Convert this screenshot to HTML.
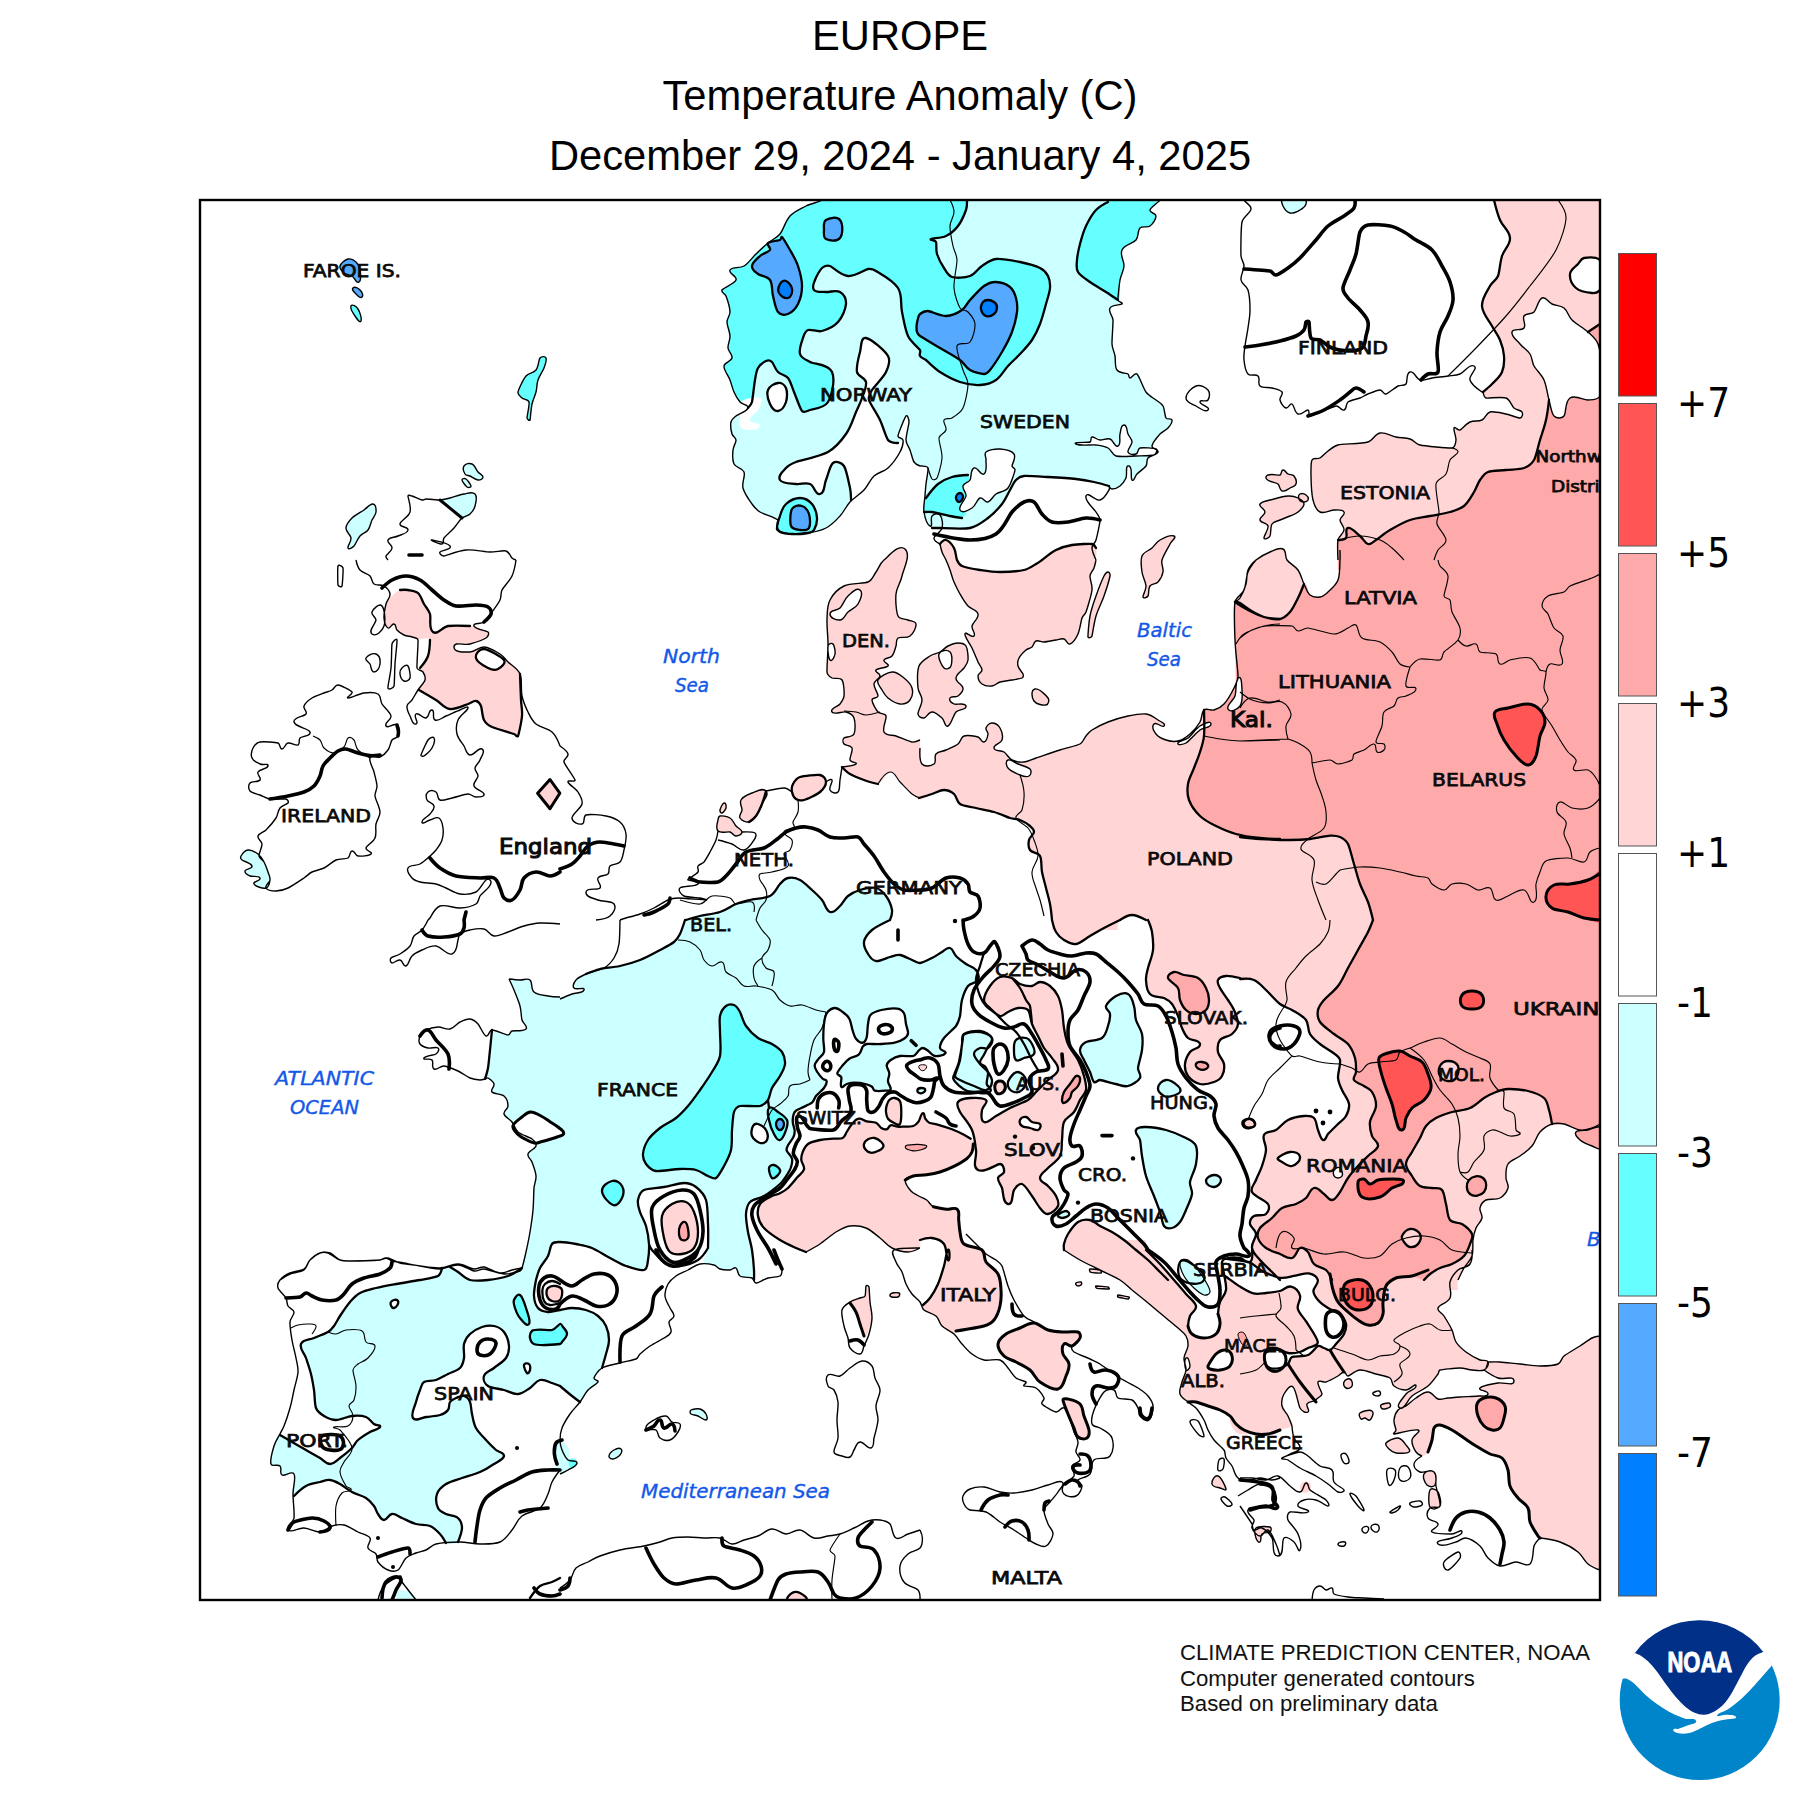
<!DOCTYPE html>
<html><head><meta charset="utf-8"><title>EUROPE Temperature Anomaly</title>
<style>
html,body{margin:0;padding:0;background:#fff;}
body{width:1800px;height:1800px;overflow:hidden;position:relative;font-family:"Liberation Sans",sans-serif;}
svg{position:absolute;left:0;top:0;}
.t{font-family:"Liberation Sans",sans-serif;font-size:41.7px;fill:#000;text-anchor:middle;}
.cb{font-family:"DejaVu Sans Condensed","DejaVu Sans","Liberation Sans",sans-serif;font-size:40px;fill:#000;}
.cl{font-family:"DejaVu Sans","Liberation Sans",sans-serif;fill:#0a0a0a;stroke:#0a0a0a;stroke-width:0.75px;}
.cl2{font-family:"DejaVu Sans","Liberation Sans",sans-serif;fill:#0a0a0a;stroke:#0a0a0a;stroke-width:1.1px;}
.sea{font-family:"DejaVu Sans","Liberation Sans",sans-serif;font-style:italic;fill:#1458e8;stroke:#1458e8;stroke-width:0.4px;}
.ft{font-family:"Liberation Sans",sans-serif;font-size:22.2px;fill:#111;}
</style></head><body>
<svg width="1800" height="1800" viewBox="0 0 1800 1800">
<rect width="1800" height="1800" fill="#fff"/>
<text class="t" x="900" y="50">EUROPE</text>
<text class="t" x="900" y="110">Temperature Anomaly (C)</text>
<text class="t" x="900" y="170">December 29, 2024 - January 4, 2025</text>
<defs><clipPath id="mc"><rect x="200" y="200" width="1400" height="1400"/></clipPath></defs>
<g clip-path="url(#mc)">
<g fill="#ccffff"><path d="M822 192c0 0 2.2 6.1 0 8s-10.5 3.2 -16 6s-11.4 5 -16 10s-6.6 13.8 -10 18s-7.9 5.5 -12 9s-7.8 6.9 -12 11s-7.5 9.3 -12 12s-11.9 0.4 -14 4s7.6 6.1 6 10s-12.6 7.8 -14 10s3.1 3.6 4 6s3.9 12.2 4 16s-3 6.2 -3 10s2.8 9.6 3 14s-2.4 8.1 -2 12s4.8 6.2 4 10s-7.6 3.9 -8 8s4.4 9.7 6 14s2.3 8.2 4 12s3.6 7.3 6 10s9 2.5 8 6s-9.8 6.2 -12 8s-4.4 3.3 -5 6s0.3 9.5 1 12s3.8 3.4 4 6s-2.7 6.3 -3 10s-1.1 9.9 1 14s8.4 3.7 10 8s-2.4 10.4 -1 16s6.6 12.7 9 16s4.5 5.9 8 8s15.5 5.4 18 8s-3.6 7.4 -1 10s9.4 3.5 15 4s10.3 0 16 -1s12.1 -1.9 18 -5s9.8 -7.4 14 -12s5.8 -9.4 10 -14s9.8 -7.4 14 -12s5.7 -10.1 10 -14s9.7 -4.1 14 -8s9.9 -12.1 12 -16s3.3 -9.7 3 -12s-5.3 -1.7 -5 -4s6.5 -18.1 8 -20s3 3.6 3 6s-3.1 14.1 -3 18s2.7 6.4 4 10s2.6 9.8 4 12s5.4 3.7 6 4s1.3 -0.2 2 0s5.5 -0.2 6 2s-1.5 11.7 -2 16s-0.7 7.7 -1 12s-1.9 10.6 -1 16s3.4 11.4 6 14s6.3 1.8 10 2s22.7 1.5 30 0s12.3 -5.7 18 -10s10.4 -9.4 14 -14s5.9 -10.4 8 -14s3.7 -7.7 6 -10s4.8 -3.7 8 -4s15.4 0.5 24 1s21.5 1.3 28 2s12.5 1.8 18 3s13.6 3.4 15 4s1.5 3 3 3s5.6 -1.1 8 -3s4.5 -4.7 6 -8s-1.2 -13.4 3 -12s1 12 3 14s3 -4 5 -6s7.3 -5.6 9 -8s0.1 -5.7 2 -8s9 -3.1 10 -6s-6.3 -3 -6 -6s5.6 -9.3 8 -12s5.9 -3.6 8 -6s4.4 -5.8 4 -8s-4.8 -0.1 -6 -2s-1.4 -9.1 -3 -12s-4.4 -3.9 -7 -6s-7.3 -4.3 -10 -8s-6.8 -16.1 -9 -18s-5.4 4 -7 4s-0.6 -3.2 -2 -4s-8.5 -0.6 -11 -4s-1.2 -9.6 -2 -14s-2.8 -7.6 -3 -12s1.2 -19.6 1 -24s-5.2 -8.1 -3 -12s10.6 -2.6 12 -4s-3.8 -2 -4 -4s1.1 -14.8 2 -20s3.7 -8.8 4 -14s-4.4 -10.7 -2 -16s11.1 -6.5 14 -10s1.4 -9.4 4 -12s7.1 0.2 10 -2s6 -6.9 6 -10s-6.7 -3 -6 -6s8.6 -7.5 10 -10s0 -8 0 -8l-338 0z"/><path d="M1283 198c2.7 -1 18.8 -0.6 21 0s2.7 3.8 2 6s-3.3 4.5 -6 6s-6.5 3.8 -10 3s-5.8 -4.4 -7 -7s-2.7 -7 0 -8z"/><path d="M241 856c0.8 -1.3 3.7 -5.6 7 -6s7.1 1.8 10 4s4.3 4.9 6 8s3.1 7.2 4 10s2.4 5.1 2 8s-0.9 7.2 -4 8s-10.4 -1.4 -12 -4s7.4 -3.3 6 -6s-7.7 -0.9 -10 -2s-5.5 -2.5 -5 -5s7.8 -2 7 -5s-8.9 -5 -10 -6s-1.8 -2.7 -1 -4z"/><path d="M509 979c0 0 7.4 0.8 11 1s7.3 -2.3 10 0s0.6 9 4 12s9.7 3.2 14 4s7.7 1.4 12 1s7.7 -1.8 12 -3s10.8 -0.5 12 -4s-8.1 0.3 -10 -2s0.1 -5.7 2 -8s6.2 -4.3 10 -6s8.8 -3.8 14 -5s12.9 -1.4 20 -3s13 -3.2 20 -6s14.9 -7.3 20 -10s11.2 -5.8 14 -8s4.4 -4.8 6 -8s4.9 -13.7 5 -14s0.7 0.1 1 0s8.9 -2.8 14 -4s13.9 -2 20 -4s11.1 -6.1 16 -8s8.9 -2.8 14 -4s15 -1.4 20 -4s7.5 -9.5 10 -12s4.5 -5.3 8 -6s8.1 0 12 2s8.2 6.6 12 10s6.8 6.1 10 10s4 10.7 8 12s6.9 -3.2 10 -6s4.4 -7.1 8 -10s7.4 -4.7 12 -6s11.5 -3 16 -2s7.3 4.3 10 8s5.4 10.4 6 14s-2 10 -2 10l0 0c0 0 -14 6.6 -18 10s-7.3 7.5 -8 12s2 8.8 4 12s4.2 6.5 8 7s10.4 -3.1 14 -4s6.4 -2.5 10 -2s9.1 3.9 12 5s4.9 3.3 8 3s8.2 -3.1 12 -5s7.2 -4.4 10 -6s4.9 -4.9 8 -4s3.5 5.5 6 8s6.6 5.6 10 8s7.8 3.1 10 6s3.6 6.7 2 10s-7.4 2.7 -10 6s-4.6 8.7 -6 14s-1.1 12.2 -2 16s-1.7 6.9 -4 10s-9.7 8.9 -12 12s-4.2 7.3 -4 10s6.8 3.1 5.3 5.3s-7.6 3.2 -10.6 2.7s-4.9 -4.1 -6.7 -5.3s-3.6 -2.7 -5.3 -2.7s-2.7 1.6 -4 2.7s-2.8 4.6 -5.4 5.3s-9.7 -0.6 -13.3 0s-7.3 2.6 -9.3 4s-3.7 2.9 -4 5.3s2.4 5.1 2.6 8s-1.6 5.1 -1.3 8s3.3 6.1 2.7 8s-3.4 1.2 -5.4 1.4s-8.9 0.5 -10.6 0s-1.3 -3 -2.7 -4s-4.2 -2.1 -6.7 -2.7s-7.7 -1.3 -10.6 -1.3s-5.9 0.7 -8 1.3s-4 4.4 -5.4 2.7s0.6 -7.4 0 -9.4s-4.2 -2 -4 -4s3.3 -5.4 5.4 -8s3.8 -4.7 6.6 -6.6s7 -1.9 9.4 -4s3 -6.6 4 -8s2.3 -2.5 4 -2.7s9.8 0.2 14.6 0s9.9 -0.5 13.4 -1.3s7.3 -2.6 9.3 -4s3.7 -3 4 -5.4s-1.3 -5.9 -2 -9.3s-0.6 -8.2 -2 -10.7s-3.8 -4.2 -6.7 -4.6s-11.9 0.4 -16 1.3s-8.2 2.2 -10.6 4.7s-2.1 5.9 -2.7 9.3s-0.6 11 -1.3 13.3s-1.6 5.1 -4 5.4s-4.9 -1.8 -6.7 -4s-2.3 -5 -3.3 -8s-1.8 -9 -3.4 -12s-4 -4.8 -6.6 -6.7s-4.8 -4.3 -8 -4s-6.1 2.4 -8 5.3s-2.2 6.8 -2.7 10.7s-0.7 9.9 -0.7 14.7s1.4 10.3 0.7 13.3s-3.7 4.4 -5.3 6.7s-3.7 4 -4 6.6s1.3 4.5 2.6 6.7s4.2 5.5 5.4 6.7s3.8 0.9 4 2.6s-1.2 4.6 -2.7 6.7s-6.2 5.8 -8 8s-1.8 4.9 -4 6.7s-8.3 4 -10.7 5.3s-5.1 1.7 -6.6 4s-2 5.9 -2 9.3s1.9 7 2 9.4s-0.4 4.4 -1.4 6.6s-4.4 6.2 -5.3 8s-1.9 3.5 -1.3 5.4s4.5 4.7 5.3 8s-0.2 6.1 -1.3 9.3s-3.7 6.7 -5.4 9.3s-3 4.7 -5.3 6.7s-11.3 9.2 -16 12s-10.8 2.8 -14 6s-3.7 7.5 -4 12s0.9 11.6 2 18s3 11.4 4 18s1.8 16.4 2 20s-0.2 8.7 0 10s2.9 3.9 2 3s-1.9 -4.1 -4 -5s-9.3 -0.3 -12 -2s-2 -6.8 -4 -8s-3.7 1.9 -6 2s-7.5 -0.2 -10 -1s-3.6 -3.1 -6 -4s-8.8 1.5 -10 -2s3.4 -9.4 4 -15s0.4 -15.4 0 -24s-0.2 -18.4 -2 -24s-6.4 -10.2 -10 -13s-7.4 -4 -12 -4s-12.8 2.7 -20 4s-16.2 1.1 -20 3s-5.2 5.9 -6 10s0.7 7.8 2 12s4.5 8.7 6 14s2.7 12.2 3 18s-0.3 12.2 -1 16s-0.3 9 -4 10s-11.9 -1.9 -18 -4s-10.3 -5 -16 -8s-12.5 -7.7 -18 -10s-10.3 -2.9 -16 -4s-13 -2 -16 -2s-6.1 -0.3 -8 2s-2 7.9 -4 12s-6 7.9 -8 12s-0.2 9.5 -4 12s-10.7 2.8 -14 0s0 -12 0 -12l0 0c0 0 2.7 -10.2 4 -16s2.8 -12.8 4 -20s2.3 -14.1 3 -22s0.6 -17.6 1 -22s2.3 -7.6 2 -12s-2.9 -11 -4 -14s-4.8 -4.9 -4 -8s7.3 -5.2 8 -8s-1.7 -5.2 -4 -7s-10.8 -4.3 -14 -7s-3.5 -6.8 -6 -10s-7.2 -4.9 -8 -8s4 -4.8 4 -8s-1.1 -7.4 -4 -10s-10.1 -1.7 -12 -4s2.8 -5.1 2 -8s-5 -5.4 -6 -6s-3 2.1 -3 1s2.3 -7 3 -11s1.3 -11.5 2 -18s2 -20 2 -20l0 0c0 0 14 4.9 16 5s2.1 -3.4 4 -4s11.6 0.6 14 -2s-3.1 -5.6 -4 -9s-0.7 -9.1 -2 -14s-4.4 -12 -6 -16s-5 -11 -5 -11l0 0z"/><path d="M1106 1006c1 -3.1 6.2 -7.9 10 -10s8.2 -4.1 12 -2s4.6 7.4 6 12s0.6 9.1 2 14s4.9 8.6 6 14s0.7 10.3 0 16s-3.7 14.3 -4 18s3.8 6.8 2 10s-7.8 6.9 -12 8s-7.7 -1.1 -12 -2s-13.7 -3.8 -16 -4s-4.2 3.4 -6 2s-2.4 -6.5 -4 -10s-4.4 -8.5 -6 -12s-4.4 -6.4 -4 -10s2.8 -6.3 6 -8s12.1 -1.2 16 -4s4.6 -7.8 6 -12s2.3 -8.8 2 -12s-5 -4.9 -4 -8z"/><path d="M1158 1088c0.4 -3.6 3.9 -7.6 8 -8s10.3 4.5 12 6s3.2 4 2 6s-5.2 3.3 -8 4s-5.5 1.4 -8 0s-6.4 -4.4 -6 -8z"/><path d="M1136 1130c1.6 -3.4 6.2 -3 10 -3s13 1.1 20 3s15.9 5.8 20 8s8.3 3.7 10 8s1.1 11.6 0 18s-5.4 13.7 -6 18s2.6 7.7 2 12s-4.1 11.6 -6 16s-3.8 9.2 -6 12s-5.1 5.3 -8 6s-6.2 0.4 -8 -2s-2.3 -9 -4 -14s-3.8 -10.3 -6 -16s-5.9 -13 -8 -20s-3 -14.3 -4 -20s-1.1 -12.2 -2 -16s-5.6 -6.6 -4 -10z"/><path d="M1206 1181c0 -3.6 4.9 -5.8 8 -6s7 1.9 7 5s-3.4 6.8 -7 7s-8 -2.4 -8 -6z"/><path d="M1180 1262c2.3 -3.7 8.5 -0.6 12 2s15.8 9.9 12 16s-16.8 3.9 -22 0s-4.3 -14.3 -2 -18z"/><path d="M1058 1215c0.9 -1.6 6.2 -4 8 -4s3.9 2.4 3 4s-5.2 3 -7 3s-4.9 -1.4 -4 -3z"/><path d="M964 1034c3 -2.1 11 -3.7 16 -3s10.3 3.5 12 7s-1.8 8.2 -4 10s-5.4 -1.1 -8 0s-6 2.9 -6 6s3.5 6.8 6 10s5.8 4.8 8 8s4.4 6.4 4 10s-2.5 7.2 -6 8s-7.7 -2.4 -12 -4s-12 -4.9 -14 -6s-5 -1.7 -5 -4s3.8 -10.3 5 -16s1.4 -12.4 2 -16s-1 -7.9 2 -10z"/><path d="M1016 1040c2.6 -2.6 7 -2.7 10 -2s4.6 3.3 6 6s3.8 6.8 2 10s-7.2 3.1 -10 4s-5.7 3.9 -8 2s-2 -6.3 -2 -10s-0.6 -7.4 2 -10z"/><path d="M1010 1078c1.7 -2.4 4.4 -6.4 8 -6s7.2 4.2 8 8s-1.9 7.9 -4 10s-5.1 2.8 -8 2s-5.2 -3.1 -6 -6s0.3 -5.6 2 -8z"/><path d="M522 1268c-4.2 -1.2 -8.5 6.1 -14 8s-13.6 3.3 -20 4s-13 1.3 -18 0s-9.2 -6.1 -12 -8s-5.2 -4.3 -8 -5s-5.7 -0.7 -8 1s-1.2 6.5 -4 8s-11.5 2.8 -18 4s-16.8 2.7 -24 4s-14.1 2.5 -20 4s-11.7 2.7 -16 5s-6.8 5.3 -10 9s-7.7 10.5 -10 14s-4.2 7.6 -6 10s-3.4 4.4 -6 6s-9.3 3.9 -14 6s-11.1 1.2 -13 6s3.3 8.9 5 14s3.6 10.3 5 16s2.1 10.2 3 16s0.5 14.2 2 18s4.5 5.9 8 8s7.4 4 12 4s11 -3.5 16 -4s10.4 -0.3 14 1s6 5.6 8 7s7.1 0.8 6 3s-6.5 3 -10 5s-9.3 5.6 -12 8s-3.5 5.5 -6 8s-8.6 7.5 -12 10s-5.8 6 -10 6s-6.4 -3.9 -10 -6s-9 -5.1 -14 -8s-9.7 -5.5 -14 -8s-7.6 -8 -12 -7s-4.7 6.7 -6 11s-4 14.8 -3 18s6.7 -0.3 9 2s-0.9 7.4 2 9s9.8 -4.8 12 -1s-1 19.2 -1 20s0.3 2.4 1 2s7.4 -7.5 12 -10s10.4 -3.1 14 -4s6.3 -2.4 10 -2s6.6 2.1 10 4s7.4 5.5 12 8s10.6 3.8 14 6s6.1 5.4 8 8s2.2 5.5 4 8s2.9 6 6 6s4.4 -5.6 8 -6s6.4 2.5 10 4s9.1 4.6 14 6s9.7 0.2 14 2s7.3 5.2 10 8s2.4 7.4 6 9s8.8 2 12 -1s4 -10.1 4 -14s-1.1 -7.4 -4 -10s-8.8 -2.4 -12 -4s-6.5 -2.7 -8 -6s-2.5 -9.4 -1 -14s4.9 -7.4 9 -10s10.2 -4 16 -6s12.7 -3.7 18 -6s10.2 -5.4 14 -8s9.5 -4.4 10 -8s-5.3 -3.6 -8 -6s-6.6 -6.2 -10 -10s-7.5 -7.4 -10 -12s-3 -9.7 -4 -14s-0.8 -9.2 -2 -12s-3.1 -5.2 -6 -6s-5.6 1 -8 2s-4.6 1.8 -6 4s-0.2 5.6 -2 8s-4.8 4 -8 5s-9.3 1.5 -14 2s-10.4 4.9 -13 1s1.9 -11.6 3 -16s2.8 -9 4 -12s1.3 -6.3 4 -8s7.8 -0.6 12 -2s7.7 -3.8 12 -6s9.3 -3.3 12 -6s3.4 -6.2 4 -10s-1 -9.9 0 -14s2.9 -7.1 6 -10s7.9 -5.6 12 -7s7.9 -1.9 12 -1s7.5 2.6 10 6s4.7 9.6 5 14s-0.5 8.3 -3 12s-8.4 7.1 -12 10s-8.8 4.3 -10 8s0.8 7.8 4 10s10.9 2.6 16 4s9.2 4.4 14 4s8.1 -3.5 12 -6s5.7 -7 10 -8s9.1 2.1 12 3s8 3 8 3l0 0c0 0 9.2 7.8 12 10s4.6 7.3 8 6s4.9 -8.6 8 -12s9.1 -6.2 10 -8s-4.6 -2 -4 -4s5.9 -5.9 8 -10s2.7 -9 4 -14s3 -8.8 3 -14s-1.1 -9.8 -3 -14s-4.4 -7.1 -8 -10s-7.4 -4.6 -12 -6s-9.6 -2 -14 -2s-7.7 1.3 -12 2s-8.1 2.4 -12 2s-7.4 -1.1 -10 -4s-3.7 -7.5 -4 -12s5 -12 2 -16s-10.7 2.8 -14 0s4.2 -10.8 0 -12z"/><path d="M400 1590c3.7 0 17.3 3.6 16 10s-14.9 1.9 -18 0s-1.7 -10 2 -10z"/><path d="M556 1442c1 -2 4.1 -3.2 6 -2s5.7 6.6 7 10s-0.4 7.7 1 10s7.5 0.3 7 3s-6.3 5.3 -9 7s-4.9 5 -8 4s-3.2 -4.9 -4 -8s-1 -7.7 -1 -12s0 -10 1 -12z"/><path d="M691 1410c1.3 -0.7 6.3 -1.7 9 -1s5 3.1 6 5s2.1 5.5 0 6s-5.6 -3 -8 -4s-5.9 -1.1 -7 -2s-1.3 -3.3 0 -4z"/><path d="M609 1456c0.2 -1.8 2.8 -4.7 5 -6s5.3 -2.4 7 -1s0.4 4.3 -1 6s-5.2 3.8 -7 4s-4.2 -1.2 -4 -3z"/><path d="M964 1034.7c1.6 -1.2 5.8 -2.5 9.3 -2.7s9.1 0.3 12 1.3s6.1 2.4 6.7 5.4s-2.6 5.1 -4 8s-2.6 5.1 -4 8s-4.3 5.6 -4 8s3.9 2.1 5.3 4s2.5 4 2.7 6.6s-1.7 7.9 -1.3 10.7s5.1 4.1 4 6.7s-5.1 2.4 -8 2.6s-5.1 -0.8 -8 -1.3s-5.3 -0.2 -8 -1.3s-5.7 -3.4 -8 -5.4s-4.8 -4.7 -5.4 -6.6s0.8 -3.5 1.4 -5.4s2.9 -6.7 4 -10.6s2 -10.1 2.6 -13.4s1 -7.4 1.4 -9.3s-0.3 -4.1 1.3 -5.3z"/><path d="M917.3 1090.7c0 -1.7 2.4 -2.6 4 -2.7s4 0.4 4 2s-2.3 3.2 -4 3.3s-4 -0.9 -4 -2.6z"/><path d="M440 500c-1.9 -3.1 6.4 -1.1 10 -2s10.1 -3.4 14 -4s8.3 -2.9 11 0s0.8 8.7 0 12s-2.6 5.8 -5 8s-5.1 5.4 -8 4s-20.1 -14.9 -22 -18z"/><path d="M464 466c1.7 -2.4 5.3 -3.2 8 -2s4.4 6.1 6 8s5 2.9 5 5s-2.9 3.2 -5 3s-6.2 -3.2 -8 -4s-4 -0.3 -5 -2s-2.7 -5.6 -1 -8z"/><path d="M462 480c-0.2 -1.5 2.8 -1.8 4 -1s4.8 5.5 5 7s-2.8 1.8 -4 1s-4.8 -5.5 -5 -7z"/><path d="M346 528c0.2 -4 3 -7 6 -10s8.8 -5.8 12 -8s6 -6.5 9 -6s3.2 4.9 3 8s-2.7 5.1 -4 8s-1.8 7.1 -4 10s-5.6 3.3 -8 6s-4.4 8.4 -6 10s-5.2 4.1 -6 2s3.4 -6.3 3 -10s-5.2 -6 -5 -10z"/></g>
<g fill="#ffd5d5"><path d="M1494 192c0 0 -0.6 5.2 0 8s3.1 13.2 6 20s9.6 10.9 10 18s-5.9 11.2 -8 18s-2.3 15.7 -4 20s-5.8 5.9 -8 10s-8.4 12.3 -8 20s7.3 14.9 10 20s5.8 8.6 8 14s3.6 10.2 4 16s0.2 10.8 -2 16s-7 8.9 -10 12s-8 5.8 -9 8s0.7 5.4 3 6s15.7 -1.6 20 0s5.6 7.9 8 10s6.8 2 8 4s0.3 5.7 -2 6s-8.9 -3 -14 -4s-12 -3 -16 -2s-4.4 6.2 -8 8s-8 0.2 -12 2s-7.9 7.2 -10 8s-5.2 -4.1 -6 -2s2.3 8.8 2 12s-0.8 7.6 -4 8s-27.9 -2.1 -32 -3s-6 -4.7 -10 -6s-9 -1 -14 -2s-10.7 -4.9 -16 -4s-6.8 7.5 -12 9s-25.9 2.1 -30 3s-6.9 3.8 -10 6s-5.4 5.5 -8 7s-6.7 -0.7 -8 2s-1.1 10.2 -1 16s0.8 19.1 2 24s2.5 9.8 7 12s10.3 -2 14 -2s8.3 -0.8 10 2s-4 4.8 -4 8s4.4 6.1 4 10s-5.4 5.8 -6 10s0 30 0 30l272 0l0 -378l-116 0z"/><path d="M1266 477c1.1 -4.9 12.1 -1.2 14 -2s0.9 -4.7 3 -5s3 2.9 5 4s4.6 0.2 6 2s2.8 5.5 2 8s-3.7 2.8 -6 4s-5.2 3.9 -8 3s-1.8 -5.1 -4 -7s-13.1 -2.1 -12 -7z"/><path d="M1260 504c1.9 -2.8 9 -3.6 14 -5s10.3 -2.8 14 -3s7.3 0.6 10 2s6 2.9 6 6s-3.6 5.9 -6 8s-5.1 2.7 -8 4s-7.1 2.7 -10 4s-6.3 1.3 -8 4s-0.9 10 -2 12s-5.6 4.2 -6 2s4.8 -8.5 4 -12s-7.3 -2.7 -8 -6s5 -4.6 5 -8s-6.9 -5.2 -5 -8z"/><path d="M1300 494c1.6 -0.9 4.4 -0.2 6 1s2.8 3.2 2 5s-3.2 2.2 -5 2s-3.4 -1.3 -4 -3s-0.6 -4.1 1 -5z"/><path d="M408 590c2.8 0.5 7.2 0.5 10 3s3.9 7.4 6 11s4.7 6 6 10s-1.8 14.8 3 18s9.3 -5.1 15 -6s20.6 0 22 0s2.6 -0.5 4 0s12.4 4.4 14 6s-0.1 4.7 -2 6s-10.4 4.4 -16 6s-16 -2.9 -16 3s10.6 5 16 5s8.7 -5.4 14 -5s12.5 4.8 16 7s5.1 5.1 8 8s10 6.2 12 12s0.7 20.2 1 26s1.5 10.2 1 16s-3.3 18.5 -4 20s-2.5 -1.5 -4 -2s-18.5 -5.4 -22 -7s-6.2 -3.6 -8 -7s-2 -11.7 -3 -14s-2.5 -4.6 -5 -5s-5.1 2.1 -8 3s-12.1 5.7 -18 5s-8.9 -5.9 -14 -9s-15 -6.3 -17 -10s5.4 -7.1 6 -10s-1.3 -6.3 -2 -8s-3.5 -2.3 -3 -4s6.3 -7.1 8 -12s4.2 -12.3 2 -16s-9.8 -0.6 -12 -1s-3.8 -1.4 -6 -2s-5.3 -0.7 -8 -2s-5.4 -3.2 -7 -5s-0.6 -5.5 -3 -6s-3.8 5.3 -6 4s-3.7 -6.1 -4 -10s0.8 -10.6 2 -14s3.5 -5.5 6 -8s5.3 -5 8 -6s5.2 -0.5 8 0z"/><path d="M905 549c-6.4 -5.7 -16.9 7.8 -21 11s-5.3 8.3 -8 12s-3.8 8.2 -8 10s-17.6 0.9 -24 4s-10.8 7.6 -14 14s-2.7 12.7 -3 20s1 15.4 1 24s-1.3 25.2 -1 28s2.5 4.7 5 6s8 -1.1 10 2s2.3 12.8 2 16s-2.1 5.4 -4 8s-10.4 4.7 -8 8s10.5 -0.9 14 0s6.8 2.6 8 6s1.7 12.5 0 16s-8.5 2.5 -10 4s-1.3 4.3 0 6s6.9 1 8 4s-2.6 9.5 -2 12s8 2.3 6 4s-12 -0.3 -14 3s4.7 5.1 8 7s9.1 4.2 14 6s9 5.5 14 4s6.9 -11.5 12 -12s6.4 6.4 10 10s9.5 10 12 12s7.5 7.2 8 4s0.4 -55.1 0 -58s-5.1 2.5 -8 2s-11.7 -4.5 -16 -6s-10 0.1 -12 -4s2.9 -12.9 2 -16s-5.9 -1.6 -8 -4s-6 -9.4 -6 -12s5.7 -1.4 6 -4s-4.4 -8.4 -4 -12s5.6 -5.4 6 -8s-5.6 -4 -4 -6s10.4 -2 12 -4s-5 -3.6 -4 -6s5.9 -1.6 8 -4s3.1 -7.2 4 -10s-0.4 -6.3 2 -8s8.5 0.7 12 -2s6.4 -8.8 6 -12s-5.1 -2.7 -8 -4s-8.4 -0.5 -10 -4s-2.7 -15.2 -2 -22s4.7 -11.3 6 -18s9.4 -21.3 3 -27z"/><path d="M878 680c1.9 -3.4 9.2 -7.6 14 -8s8.4 3.1 12 6s6.8 5.8 8 10s0.3 8.9 -2 12s-6.1 4.4 -10 4s-9.2 -3.8 -12 -6s-4.3 -4.9 -6 -8s-5.9 -6.6 -4 -10z"/><path d="M793 784c1.4 -2.6 3.6 -5.9 7 -7s16.7 -2.6 20 -2s6 3.7 6 7s-2.8 7.3 -6 10s-13.2 7.2 -16 8s-5.6 0.6 -8 -1s-3.4 -4.2 -4 -7s-0.4 -5.4 1 -8z"/><path d="M741 800c1.8 -3.1 6.6 -5.4 11 -7s10.7 -5.6 14 -2s-2.2 8.5 -4 13s-4.1 9.3 -6 12s-3.7 5.6 -7 6s-7.5 -1.4 -9 -4s1.8 -5 2 -8s-2.8 -6.9 -1 -10z"/><path d="M720 816c1.6 -0.3 6.9 0.1 10 2s4 5.7 6 8s6 3.4 6 6s-3.4 4 -6 4s-3.5 -3.3 -6 -4s-9.2 1.8 -12 -1s-0.2 -9.4 0 -11s0.4 -3.7 2 -4z"/><path d="M720 810c0.3 -1.3 2.2 -6.4 4 -7s2.4 3.1 2 5s-2.8 4.6 -4 5s-2.3 -1.7 -2 -3z"/><path d="M940 544c0 0 3.5 -4.7 6 -4s6 4.4 8 8s1.9 9.4 3 12s2.4 4.9 5 6s11.4 3 18 4s12.8 2 20 2s19.3 -1 24 -2s9.7 -4.7 12 -6s3.9 -2.5 6 -4s8.6 -7.3 14 -10s10 -4 16 -5s18 -1.3 20 -1s3.5 2 4 4s0.3 9 0 12s-1 5.2 -2 8s-3.7 4.8 -4 8s2.6 8.9 2 14s-5.1 19.6 -6 22s-3.1 3.6 -4 6s-2.1 11.8 -4 16s-5.4 9.1 -8 10s-3.3 -4.2 -6 -5s-5.1 0.6 -8 1s-9.1 1.9 -12 2s-5.6 -2 -8 -1s-2.2 4.4 -4 6s-4.2 1.4 -6 3s-5.7 5.4 -7 8s-1.7 5.2 -1 8s4.5 6.6 5 8s0.3 3.3 -1 4s-6.4 1.3 -10 2s-8.9 1.1 -12 2s-4.8 3.6 -8 4s-7.4 -0.1 -10 -2s-4 -5.4 -4 -8s4 -3.4 4 -6s-2.7 -5.1 -4 -8s-3.7 -9 -6 -14s-7.5 -10.7 -7 -14s6.8 4.5 9 2s-2.7 -6.4 -2 -10s6.9 -7.5 6 -12s-6.9 -4.6 -10 -8s-5.6 -7.8 -8 -12s-4.2 -7.8 -6 -12s-2.7 -8.4 -4 -12s-2.7 -7.1 -4 -10s-3 -5.2 -4 -8s-2 -8 -2 -8l0 0z"/><path d="M1108 572c1.6 0 2.3 2.4 2 4s-3.5 12.9 -6 20s-5.9 13 -8 20s-3.5 18.6 -4 20s-3.9 2.5 -4 1s0.6 -13.6 2 -21s3.5 -12.9 6 -20s7.1 -18.2 8 -20s2.4 -4 4 -4z"/><path d="M1142 556c1.8 -4.3 7 -5.3 10 -8s4.4 -6 8 -8s11 -5.2 14 -4s-2.6 5.1 -4 8s-6.9 11.8 -8 16s1.7 8 1 12s-2.8 7.6 -5 10s-6.1 1.4 -8 4s-1 8.5 -2 10s-4.6 2.8 -5 1s3.2 -6.9 3 -11s-3.3 -8.8 -4 -14s-1.8 -11.7 0 -16z"/><path d="M1035 689c4.2 -0.9 11.5 6.8 13 9s0.6 6.5 -2 7s-9.5 -0.4 -12 -4s-3.2 -11.1 1 -12z"/><path d="M919 666c1.9 -5 7.8 -7.8 11 -10s6.9 -2.3 10 -4s4.8 -4.4 8 -6s6.9 -3 10 -3s6.4 0.3 8 3s2.3 10.8 2 14s-2.2 5.3 -4 8s-7.8 5.6 -8 10s6.6 6.6 7 10s-2.6 6.2 -5 8s-6.8 -0.3 -8 2s1.7 4.8 4 6s11 -2.1 12 2s-7.2 2.9 -10 6s-4.7 12.6 -8 14s-3.3 -5.6 -6 -8s-6.4 -6 -10 -6s-5.4 5.6 -8 6s-5.7 -1.4 -6 -4s4 -9.4 4 -14s-3.6 -7.5 -4 -12s-0.9 -17 1 -22z"/><path d="M919 798c1.1 4.8 8.7 -2.6 13 -4s8.1 -4 12 -4s7.1 1.4 10 4s2.5 7.7 6 10s10.2 2.6 16 4s12.1 2.3 18 4s12.5 4.9 16 6s6.6 0.6 10 2s8 4.3 10 6s4.2 3.4 4 6s-4.3 4.7 -5 8s-1 7 1 10s8 2.3 10 6s0.9 10.3 2 16s2.6 10.2 4 16s2.9 10.3 4 16s1.7 12.4 2 16s0 10 0 10l238 0l0 -358c0 0 -28.8 -12 -34 -12s-6.1 7.2 -8 12s-1.9 13 -4 18s-8 6.7 -9 12s-0.5 25 0 38s3.1 31.4 3 36s-2 7.9 -4 12s-7.2 12.9 -10 16s-6.6 5 -10 6s-7.3 -2.3 -10 0s-1.7 8.1 -4 12s-6.2 8.7 -10 12s-7.8 5.9 -12 7s-8 0.3 -12 -1s-7.8 -3.1 -10 -6s-4.6 -7.4 -2 -10s7.8 4.2 10 2s-3.5 -4.3 -6 -6s-7.2 -5.4 -12 -6s-11.6 0.7 -18 2s-14 3.7 -20 6s-13.4 6.4 -16 8s-4 3.7 -6 6s-2.8 6.3 -6 8s-12.8 3.7 -20 6s-19.7 6.6 -24 8s-7.6 3.6 -12 4s-8.4 -0.2 -12 -2s-4.8 -5.8 -8 -8s-9.4 -0.2 -10 -4s6.8 -4.1 8 -8s-0.3 -9.1 -2 -12s-5.2 -5 -8 -5s-5.2 2.9 -6 5s2.3 3.7 2 6s-1.3 7.2 -4 8s-3.3 -4.2 -6 -5s-10.6 -2.2 -14 -1s-3.2 5.8 -6 8s-8.5 4.4 -12 6s-7.6 1.2 -10 4s1 7.9 -2 10s-9.2 3.3 -12 0s-1.6 -13.1 -2 -16s-0.9 -10.9 -1 -8s-1.1 53.2 0 58z"/><path d="M1235 602c0 0 3.8 -2 5 -4s4.6 -9.1 6 -14s0.2 -9.7 2 -14s4.4 -7.1 8 -10s9.6 -6.2 14 -8s9.2 -4.8 13 -3s1.6 7.6 4 11s7.9 5.6 11 10s6 14 6 14l0 0c0 0 -3.5 9.1 -6 14s-5.1 10.7 -8 14s-5.7 6.2 -10 7s-10.6 -0.4 -16 -2s-10.2 -4.8 -14 -7s-8.4 -6.1 -10 -7s-5 -1 -5 -1l0 0z"/><path d="M1240 979c1 5 9.3 -1 14 1s7.9 6.2 12 10s10.2 11.1 14 14s7.9 3.5 12 6s10.9 5.8 14 10s1.4 9.6 4 14s6.1 6.8 10 10s8.8 5.5 12 8s7.1 4 8 8s-2.3 13.5 -2 18s2.2 7.8 4 12s6.3 9.6 7 14s-1 8.4 -3 12s-5.1 5.1 -8 8s-8.1 7.9 -10 10s-2.4 7 -5 6s-3.5 -6.3 -5 -10s-1.4 -9.4 -4 -12s-6.3 -2.3 -10 -2s-11 1.5 -16 4s-8 7.5 -12 10s-9.9 0.8 -12 5s2.4 9.6 2 15s-2.3 10.8 -4 16s-4.4 9.7 -6 14s-6 7.9 -4 12s14 8.9 16 12s0.8 7.6 -2 10s-9.3 0.3 -12 2s-4.4 4.8 -4 8s5.7 5.8 6 10s-4.8 8.9 -4 14s4.7 8 8 12s9.1 9.1 12 12s6.5 4.7 8 8s0 10 0 10l178 0c0 0 -0.9 -6.5 0 -10s3.6 -7.8 6 -12s6.4 -7.1 8 -12s0.4 -11.6 1 -16s1.4 -8.1 3 -12s5.3 -6.4 6 -10s-2.8 -6.5 -2 -10s2.8 -6.4 6 -8s10 0.2 14 -2s6.9 -6.5 8 -10s-2 -6.3 -2 -10s-0.7 -9.7 2 -14s7.8 -4.9 12 -8s8.4 -5.7 12 -10s4.5 -10.2 8 -14s7.9 -6.6 12 -8s7.8 -0.9 12 0s11.7 5.4 16 6s8.9 -1.1 12 -2s4.9 -3.3 8 -4s10 0 10 0l0 -214l-370 0c0 0 -1 64 0 69z"/><path d="M1148 910c0 0 -0.6 6.5 0 10s3.3 7.5 4 12s1.7 11.5 1 18s-4 13.7 -5 18s-2.3 7.6 -2 12s0.3 10.3 4 14s10.7 2.5 14 4s5.8 3.2 8 6s4.2 7.8 6 12s2.3 8.2 4 12s2.9 7.2 6 10s11.3 1.4 12 6s-7.2 4.3 -10 8s-4.6 7.6 -5 12s0.3 8.4 3 12s7 6.9 12 8s10.6 -0.8 14 -2s6.3 -2.9 8 -6s2.7 -7.7 2 -12s-5.3 -7.7 -6 -12s-0.7 -8.5 2 -12s8.9 -3.2 12 -6s5.7 -5.8 6 -10s-2.4 -10.1 -4 -14s-3.7 -6.5 -6 -10s-6.7 -9.3 -8 -12s-3.3 -5.3 -2 -8s4.8 -3.7 8 -4s13.3 1.9 14 2s2 0.7 2 0s0 -68 0 -68l-94 0z"/><path d="M1052 910c-3.6 0.5 -0.6 6.5 0 10s1.9 8.5 4 12s4.5 5.9 8 8s7.5 4.7 12 4s9 -5.1 14 -8s8.9 -5.3 14 -8s13.6 -5.3 16 -8s3.6 -9.5 0 -10s-64.4 -0.5 -68 0z"/><path d="M1244 1122c0.9 -1.7 3.7 -3.2 6 -3s4.4 2.5 5 4s-0.5 3.3 -2 4s-5.3 0.9 -7 0s-2.9 -3.3 -2 -5z"/><path d="M984 1000c0 -3.6 3.2 -10 6 -14s5.9 -7.5 10 -9s8.6 -0.2 12 1s4.7 4.7 8 6s8.8 2.3 12 2s4.8 -4 8 -4s6.9 1.6 10 4s5.9 5.9 8 10s3 8.8 4 14s1 12.2 2 18s1.6 10.6 4 16s7.2 10.5 10 16s4.7 11.1 6 16s2.7 9.9 2 14s-4 6.3 -6 10s-3.2 8.1 -6 12s-8 5.3 -10 10s-1.3 12.2 -2 18s0.6 10.8 -2 16s-8.9 8.6 -12 12s-8 5.9 -8 10s5.3 5 8 8s6.4 6.7 8 10s3.5 6.6 2 10s-6.4 7.6 -10 8s-5.6 -3.3 -8 -6s-4.9 -7.8 -8 -12s-6.6 -10.9 -10 -12s-5.9 3.1 -8 6s-0.6 14.9 -6 14s-4.6 -12.4 -6 -16s-4.4 -7 -4 -10s5.6 -3 6 -6s-0.8 -7.8 -4 -8s-15.7 9.6 -22 6s-0.9 -12.8 -2 -20s-1.2 -13.2 -4 -20s-10.4 -14.7 -12 -18s-4.1 -7 -2 -10s7.5 -3.7 12 -4s13.3 -0.7 16 2s-3.6 6.1 -4 10s-2 10.3 2 12s7.7 -3.7 12 -6s8.8 -5.4 14 -8s14.5 -5.9 18 -8s5.1 -5.1 8 -8s8.4 -8.4 12 -12s9.1 -5.2 10 -10s-3.5 -8.1 -6 -12s-5.5 -6.1 -8 -10s-3.8 -7.7 -6 -12s-4.3 -7.5 -6 -12s-1.6 -11.2 -4 -14s-6.3 -2.4 -10 -2s-7.1 2.7 -10 4s-4.9 4.7 -8 4s-7.5 -5.5 -10 -8s-6 -4.4 -6 -8z"/><path d="M1064 1250c-1.5 -1.5 -0.5 -3.9 0 -6s1.9 -6.7 4 -10s6.3 -9.6 10 -12s7.9 -2.8 12 -2s6.3 4 10 6s7.8 3.6 12 6s7.8 4.9 12 8s7.7 6.4 12 10s7.9 6.2 12 10s9.1 9.1 12 12s6.5 4.7 8 8s3.6 10 0 10s-40.3 -7.7 -48 -10s-12.8 -6.4 -20 -10s-14.1 -6.7 -20 -10s-14.5 -8.5 -16 -10z"/><path d="M850 1303c1.1 -3.7 8.2 -4.2 10 -5s4.1 -0.3 5 -2s0.5 -9 1 -10s2.7 -0.1 3 1s0.5 9.6 1 15s2.2 11.5 2 16s-1.9 9.4 -3 12s-2.7 7.6 -5 6s-2.6 -7.7 -4 -12s-2.3 -8.5 -4 -12s-7.1 -5.3 -6 -9z"/><path d="M890 1295c0.7 -2.9 7.6 -2.4 9 -2s0.4 3.7 -1 4s-8.7 0.9 -8 -2z"/><path d="M788 1600c-2.6 -1.3 1.5 -5.5 4 -7s5.4 -1.3 8 0s8.9 5.3 6 7s-15.4 1.3 -18 0z"/><path d="M806 1252c-3.8 0.6 -6.5 -2.4 -10 -4s-10.5 -4.6 -16 -8s-12.7 -8.4 -16 -12s-5.3 -7.7 -6 -12s-0.5 -8.4 2 -12s9.3 -6.6 12 -8s5.3 -1.3 8 -2.7s5.5 -3 8 -5.3s6.9 -7.8 9.3 -10.7s5.9 -4.6 6.7 -8s-2.5 -6.4 -2.7 -9.3s0.3 -5.3 1.4 -8s2.5 -6 5.3 -8s7.5 -3.1 12 -4s9.9 -1 13.3 -1.3s7.1 0.5 9.4 -0.7s2.6 -3.8 4 -6s3.2 -5.7 5.3 -8s3.7 -4.8 6.7 -5.3s5 1.9 8 2.6s6.8 0.3 9.3 1.4s3.6 4.3 5.3 5.3s3.5 1.9 5.4 1.3s2 -3.5 4 -4s4.7 1.2 6.6 1.4s3.5 0.1 5.4 0s8.2 0.1 10.6 -0.7s3.9 -2.6 5.4 -4.7s2 -7.2 4 -8s1.4 3.7 2.6 5.4s2.1 3.2 4 4s6.9 1.5 10.7 2.6s7.8 2.3 12 4s9.5 4.1 12 5.4s5.2 2.5 6.7 4s2.4 3.2 2.6 5.3s-0.1 5.3 -1.3 8s-2.9 4.8 -5.3 6.7s-8.8 5.7 -13.4 8s-8.6 3.9 -13.3 5.3s-8.5 2 -13.3 2.7s-10.3 0.5 -13.4 1.3s-7.4 0.8 -8 4s3.2 8.1 5.4 10.7s5.2 3.7 8 5.3s5.4 2.1 8 4s3.5 5.3 6.6 6.7s9.6 2.2 13.4 2.6s7.8 -2.5 10.6 0s0.9 6.8 1.4 10.7s0.4 7.8 1.3 12s0.5 9.1 4 12s14.5 3.1 18 6s1.5 8.2 4 12s9.2 6.8 12 12s2.6 10.2 3 16s0.2 10.7 -1 16s-3.4 10.7 -6 14s-6 4.8 -10 6s-26.7 4.7 -28 5s-0.8 3.4 -2 3s-9 -5 -12 -8s-2.9 -7.2 -6 -10s-10.6 -4.8 -12 -6s-1.8 -3.4 -1 -5s4.9 -4.1 7 -7s5.7 -8.7 8 -14s4.3 -12.3 6 -18s2 -13 4 -16s2 13 0 10s-1.2 -12.1 -4 -16s-7.7 -5.3 -12 -6s-9.8 0.2 -12 2s2 6 0 8s-7.4 4 -12 4s-11 -1.5 -16 -4s-7.5 -6.6 -12 -10s-8.6 -7.8 -14 -10s-10.6 -2.7 -16 -2s-9.3 3.2 -14 6s-11.2 8.8 -16 12s-10.2 7.4 -14 8z"/><path d="M886.7 1105.3c0.6 -2 1.1 -3.9 2.6 -5.3s3.3 -2.3 5.4 -2s4.3 1.3 5.3 3.3s1.3 6.8 1.3 10.7s-0.3 10.3 -1.3 12s-3.5 0.1 -5.3 -0.7s-5.2 -2.6 -6.7 -4.6s-1.8 -4.3 -2 -6.7s0.1 -4.7 0.7 -6.7z"/><path d="M998 1344c0.4 -4.6 4.3 -7.3 8 -10s9 -4 14 -6s8.7 -5.4 14 -5s8.6 5.4 14 7s11 1.7 16 2s11.9 -0.8 14 0s2.9 3.9 2 6s-5.2 7 -8 8s-5.8 -4 -8 -2s-1.9 6.5 -1 10s5.4 5.8 6 10s-1.2 7.9 -3 12s-2.6 11.8 -8 13s-13.3 -3.8 -18 -7s-5.7 -8.4 -10 -12s-9.7 -5.7 -14 -8s-8.6 -2.6 -12 -6s-6.4 -7.4 -6 -12z"/><path d="M1063 1400c0 -1.8 3.2 -1.4 5 -1s8.9 1.7 12 5s2.5 7.7 4 12s4.6 11.1 5 14s0.5 6.4 -2 8s-6.4 1 -9 -1s-2.6 -5.7 -4 -9s-4 -9 -6 -14s-5 -12.2 -5 -14z"/><path d="M1064 1250c2.2 2.8 10.1 6.7 16 10s12.8 6.4 20 10s15.2 7 20 10s8.4 7.1 12 10s6.4 5.1 10 8s7.7 6.4 12 10s7.7 6.4 12 10s9 7.3 12 10s6.2 4.8 8 8s2.3 6.3 2 10s-3.6 7.6 -4 12s2.4 7.6 2 12s-2.9 7.8 -4 12s-3.2 8.1 -2 12s5.4 6.7 8 8s5.2 -0.6 8 0s7.7 2.6 12 4s8.2 2.3 12 4s7.3 3.6 10 6s3.5 5.5 6 8s4.8 4.4 8 6s7.7 3.3 12 4s7.7 0.7 12 0s9.6 -2.9 12 -4s6 -1.4 6 -4s-5.3 -9.9 -6 -16s0.5 -15.6 2 -20s8 -10 8 -10l0 -140l-226 0c0 0 -2.2 7.2 0 10z"/><path d="M1090 1269c1.2 -0.3 8.9 0.6 10 1s2.1 2.7 1 3s-8.8 -0.2 -10 -0.6s-2.2 -3.1 -1 -3.4z"/><path d="M1096 1286c0.9 -0.1 11.2 0.8 12 1s1.8 1.9 1 2s-11.1 -0.4 -12 -0.6s-1.9 -2.3 -1 -2.4z"/><path d="M1118 1295c0.7 0 10.3 1.7 11 2s-0.2 2 -1 2s-9.3 -1.7 -10 -2s-0.7 -2 0 -2z"/><path d="M1076 1283c0.7 -0.7 4 -1.4 5 -1s0.8 2.3 0 3s-3.1 1 -4 0.6s-1.7 -1.9 -1 -2.6z"/><path d="M1212 1484c-0.5 -3.2 2.6 -9.2 6 -8s7.6 10.8 8 13s-3.9 -0.3 -6 -1s-7.5 -0.8 -8 -4z"/><path d="M1230 1240l242 0c0 0 0.3 6.4 0 10s0.8 10 -2 14s-8.4 2.8 -12 6s-6.6 7 -8 12s2.4 10.9 0 16s-10.9 6.6 -12 10s4.1 5 6 8s6.1 9.9 8 14s1.6 8.2 4 12s5.9 6.9 10 10s11.3 6.8 14 8s6.9 -0.8 8 2s-1.1 6.6 -4 8s-7.7 0.4 -12 0s-7.6 -2 -12 -2s-18.4 1.6 -20 2s-1 2.7 -2 4s-5.7 8.4 -10 12s-11.2 6.2 -16 10s-6.8 13.7 -12 12s3.3 -10.3 6 -14s10 -4.1 10 -8s-6.1 4 -10 4s-9.4 -2.1 -12 -4s-1.3 -6.2 -4 -8s-8.9 -2.6 -14 -4s-11.2 -4.3 -16 -4s-10 5.7 -12 6s-2 -4 -4 -4s-3.7 2.7 -6 4s-9.2 5.2 -12 6s-7.1 -2.7 -8 0s4 10 4 12s-2.6 2.8 -4 4s-2.4 2.1 -4 3s-5.7 0.6 -7 3s3.5 6.6 1 8s-6.3 -1.2 -8 -4s-3.9 -18.3 -7 -21s-6.9 3.4 -9 7s-2.8 7.9 -2 12s4.3 6.5 6 10s6.8 7.3 4 10s-14.3 3.7 -20 5s-10.3 2.5 -16 3s-13.4 0.5 -16 0s-4.3 -2 -6 -4s-4 -8 -4 -8l0 -182z"/><path d="M1488 1362c2.9 -1.4 7.7 -0.3 12 0s12.8 1.3 20 2s13.5 2 20 2s14.7 -0.6 18 -2s3.2 -5.7 6 -8s11.6 -7.2 16 -10s9.3 -6.7 12 -8s5 -1.7 8 -2s10 0 10 0l0 238c0 0 -6.5 -2.4 -10 -4s-8.3 -2.9 -12 -6s-5.6 -8.5 -10 -12s-11.1 -7.5 -18 -10s-19 -3.7 -20 -4s-1.5 -1.1 -2 -2s-6.3 -9.2 -8 -14s0.3 -9.4 -2 -14s-6.8 -6.1 -10 -10s-6.3 -7.1 -8 -12s-0.7 -11.4 -2 -16s-2.6 -9 -6 -12s-7.9 -2.1 -12 -4s-9.6 -5.3 -14 -8s-7.7 -5.1 -12 -8s-7.9 -5.8 -12 -8s-9.6 -4.7 -12 -5s-4.9 0.9 -6 3s-0.9 7.8 -2 12s-2.6 9.8 -4 12s-3.4 4 -6 4s-4.6 -1.8 -6 -4s-4.4 -7.8 -4 -12s10 -8.7 6 -10s-22.4 4 -24 4s2 -2.4 2 -4s-2.4 -6.3 -2 -10s1.9 -7.6 4 -10s5.3 -2.2 8 -4s6.1 -5.5 10 -8s7.6 -6.2 12 -6s6.5 6 10 7s6.4 -0.7 10 -1s7.7 -0.7 12 -1s14.3 -0.6 18 -1s9.1 1.5 10 -2s-10.4 -3.3 -8 -6s12.3 -3.8 18 -5s16 3.8 16 -2s-10.5 -1 -16 -3s-12.3 -5.3 -14 -8s1.1 -6.6 4 -8z"/><path d="M1301 1484c1.7 -2.4 5.6 -3.6 8 -2s2.7 5.6 1 8s-5.6 3.6 -8 2s-2.7 -5.6 -1 -8z"/><path d="M1256 1528c2.8 -2.2 12.3 -1.5 14 -1s1.4 3.8 0 5s-5.9 -0.1 -8 2s-0.3 6.9 -2 8s-3.4 -2 -4 -4s-2.8 -7.8 0 -10z"/><path d="M1344 1382c0.9 -2.1 3.8 -4.1 6 -3s2.9 4.9 2 7s-4 3 -6 2s-2.9 -3.9 -2 -6z"/><path d="M1360 1413c1.8 -1.3 9.3 -3.9 12 -2s-0.6 7.6 -2 9s-3.5 -1.8 -5 -2s-3 2 -4 1s-2.8 -4.7 -1 -6z"/><path d="M1381 1405c1.1 -1.1 6.6 -2.3 8 -2s2 3 1 4s-5.4 2.3 -7 2s-3.1 -2.9 -2 -4z"/><path d="M1386 1443c1.5 -1.9 8.2 -5.4 12 -5s6.3 4.8 8 7s5.1 5.3 3 7s-10.1 1.4 -13 1s-5.3 -2.3 -7 -4s-4.5 -4.1 -3 -6z"/><path d="M1424 1474c1.7 -3.2 7.4 -4.6 10 -2s2.4 10.5 1 13s-6 2 -8 0s-4.7 -7.8 -3 -11z"/><path d="M1430 1490c1.4 -2.6 6.4 -0.5 8 2s3.7 10.8 2 14s-8.1 4.1 -10 1s-1.4 -14.4 0 -17z"/><path d="M550 779.5l9.8 13.7 -9.8 15.5 -12.4 -15.5z"/><path d="M1373 920c-0.8 -3.5 -2.7 -11.7 -5 -18s-5.5 -11.3 -8 -18s-3.8 -12.8 -6 -20s-4.2 -16.6 -6 -20s-4.7 -5.5 -8 -7s-6.4 -1.6 -10 -1.4s-12.8 2.6 -20 3.4s-12.8 1 -20 1s-22.8 -0.6 -30 -1s-15.7 -1.7 -20 -2s-12 0 -12 0l0 93l146 0c0 0 -0.2 -6.5 -1 -10z"/></g>
<g fill="#66ffff"><path d="M967 192c0 0 0.2 5.1 0 8s0.2 6.6 -1 10s-4.6 11.5 -8 16s-7 7.6 -12 10s-13.2 1.9 -15 3s4.2 1.1 5 3s-0.3 7.9 1 12s4.6 10.4 7 14s3.9 7.7 8 9s12.7 0.9 18 -1s7.3 -6.9 12 -10s8.4 -6.4 14 -7s16.6 1.5 24 3s16.4 4.2 20 6s6.2 4.4 8 8s2.3 7.6 2 12s-2.4 10.3 -4 16s-3.7 14 -6 20s-4.4 10.6 -8 16s-7.9 9.5 -12 14s-7.9 7.5 -12 12s-7 10.6 -12 14s-10 4.7 -16 5s-13.1 -0.7 -20 -3s-14.4 -6.4 -20 -10s-12 -10.4 -14 -12s-4.9 -2.1 -6 -4s1.1 -4.1 0 -6s-9.2 -8 -12 -14s-4.2 -15.4 -6 -24s0.7 -16.6 -4 -24s-19.5 -15.4 -22 -17s-5.1 -2.5 -8 -2s-12.6 7.6 -20 7s-15.2 -9.1 -18 -10s-5.8 0 -8 2s-5.8 8.6 -7 12s-3.4 7.3 -1 10s7.6 1.7 12 2s9.9 -2.5 14 0s6.3 7.2 6 12s-3.6 13.1 -8 18s-11.1 7.7 -16 9s-10.8 -2.2 -14 -1s-3.9 4.8 -5 8s-4.3 11.6 -3 16s6 5.7 10 8s18.4 2.1 22 10s-0.4 23.9 -4 30s-15.3 7.1 -18 8s-6.1 3.2 -8 1s-5.9 -14 -8 -19s-3.4 -10.7 -6 -14s-7 -3 -10 -6s-4.4 -8.5 -6 -10s-4 -1.9 -6 -1s-6.1 3.7 -8 7s-2.2 7.6 -3 12s-2.4 19.5 -3 22s-4 6 -4 6l0 0c0 0 -5.6 -3.3 -8 -6s-4.3 -6.2 -6 -10s-2.4 -7.7 -4 -12s-6.4 -9.9 -6 -14s7.2 -4.2 8 -8s-3.6 -6.1 -4 -10s2.2 -7.6 2 -12s-3 -10.2 -3 -14s3.1 -6.2 3 -10s-3.1 -13.6 -4 -16s-5.4 -3.8 -4 -6s12.4 -6.1 14 -10s-8.1 -6.4 -6 -10s9.5 -1.3 14 -4s7.8 -7.9 12 -12s7.9 -7.5 12 -11s8.6 -4.8 12 -9s5.4 -13 10 -18s10.5 -7.2 16 -10s13.8 -4.1 16 -6s0 -8 0 -8l145 0z"/><path d="M1108 192c-3.5 0.7 2 7 0 10s-8.5 4.2 -12 8s-7.1 9.9 -10 16s-4.5 12.3 -6 18s-2.7 11.7 -3 16s-1.2 8.3 1 12s7.4 6.7 12 10s11.6 7.2 16 10s8.1 11.4 12 8s1.1 -14.8 2 -20s3.7 -8.8 4 -14s-4.4 -10.7 -2 -16s11.1 -6.5 14 -10s1.4 -9.4 4 -12s7.1 0.2 10 -2s6 -6.9 6 -10s-6.7 -3 -6 -6s8.6 -7.5 10 -10s2.8 -7.6 0 -8s-48.5 -0.7 -52 0z"/><path d="M778 530c-2.8 -4.2 0.6 -9.4 2 -14s2.4 -8.8 6 -12s9.2 -6 14 -6s8.9 2.3 12 6s4.7 9.6 5 14s-1.8 9.9 -3 12s-3.6 2.6 -6 3s-10.8 1.5 -16 1s-11.2 0.2 -14 -4z"/><path d="M926 498c2.3 -4.6 7.6 -10.5 12 -14s8.6 -5.4 14 -7s14.2 -2.3 16 -2s1.8 3.3 1 5s-5.4 3 -6 6s3.5 6.3 3 10s-6 11.7 -6 14s5.4 -0.2 6 2s-1.5 5.4 -4 6s-7.7 -1.1 -12 -2s-15.2 -3.6 -18 -4s-6.9 2.6 -8 0s-0.3 -9.4 2 -14z"/><path d="M720 1016c0.9 -4.1 3.7 -8.2 6 -10s5.3 -2.1 8 -1s4.4 4.1 6 7s2.9 9.5 6 14s7.5 8.9 12 12s10 3.7 14 6s7.6 4.3 10 8s3.4 7.6 3 12s-2.8 7.9 -5 12s-6 7.9 -8 12s-2 9 -4 12s-4.5 5.2 -8 6s-17 -0.7 -20 0s-5 3.1 -6 6s-1.5 11.5 -2 18s0.4 13.9 -1 20s-4.5 11.4 -7 16s-5.5 10.4 -8 12s-5.2 -0.9 -8 -2s-7.3 -4.8 -12 -6s-10.2 -1.1 -16 -1s-19.7 2.6 -24 2s-7.7 -4 -10 -7s-3.3 -6.3 -3 -10s2.1 -9.5 5 -14s7.2 -8.2 12 -12s11.2 -6.2 16 -10s8 -7.4 12 -12s7.8 -10.1 12 -16s8.7 -12.4 12 -18s6.7 -9.7 8 -16s0 -18.2 0 -24s-0.9 -11.9 0 -16z"/><path d="M769 1108c2.7 -2.4 6 2 9 4s7.5 4.7 9 8s0.2 6.6 -1 10s-3.1 9 -6 10s-4.5 -3.3 -6 -6s-4.2 -9.8 -5 -14s-2.7 -9.6 0 -12z"/><path d="M769 1168c0.3 -2.1 2.9 -3.4 5 -3s5.3 3.2 6 5s-0.6 3.6 -2 5s-4.1 4.5 -6 3s-3.3 -7.9 -3 -10z"/><path d="M602 1191c-0.2 -5.1 6.1 -9 10 -10s8 1.5 10 5s1.8 8.3 0 12s-5.1 8.4 -9 7s-10.8 -8.9 -11 -14z"/><path d="M514 1300c1 -2.6 3.7 -6.6 6 -5s4.5 8.1 6 13s5 12.7 3 16s-6.4 -3.1 -9 -6s-4.1 -7.2 -5 -10s-2 -5.4 -1 -8z"/><path d="M569 1460c0.9 -2 4.3 -1.9 6 -1s2.8 3.2 2 5s-3.7 5.2 -6 4s-2.9 -6 -2 -8z"/><path d="M532 1331c3.7 -2.9 16.5 -0.1 20 -1s6.5 -5.6 8 -6s2.1 1.7 3 3s4.2 4.1 4 7s-4.4 7.2 -5 8s-1 1.9 -2 2s-21.7 2 -26 0s-5.7 -10.1 -2 -13z"/><path d="M518 392c0.5 -2.6 5.3 -12.8 8 -16s7.4 -2.7 10 -6s2.6 -10.3 4 -12s5.2 -2 6 0s-0.7 6.5 -2 10s-4.6 7.8 -6 12s-0.9 7.8 -2 12s-3 7.5 -4 12s-1.6 14.8 -2 16s-2.9 -0.7 -3 -2s2.7 -13.2 2 -16s-5.1 -2.3 -7 -4s-4.5 -3.4 -4 -6z"/><path d="M351 306c1.1 -2.5 5.5 0.7 7 3s4.1 9.4 3 12s-4.4 -2.7 -6 -5s-5.1 -7.5 -4 -10z"/></g>
<g fill="#ffaaaa"><path d="M1610 320c0 0 -6.6 2.1 -10 4s-9.5 3.5 -12 8s-3.4 18.6 -8 28s-16.7 25.8 -20 30s-8.7 5.2 -11 10s-1.4 12.9 -3 20s-3.8 12.8 -6 20s-3.7 16 -6 20s-5.7 6.4 -10 8s-11.5 1.3 -18 2s-14.2 0.5 -18 2s-5.7 4.7 -8 8s-3.5 7.9 -6 12s-5.8 10.5 -10 14s-8.7 4.5 -14 6s-12.8 2.6 -20 4s-13.1 1.6 -20 4s-14.7 6.9 -20 10s-11.3 8.3 -14 10s-4.9 4.8 -8 4s-4.8 -5.5 -8 -8s-8.4 -8.5 -12 -8s-0.1 7.7 -2 10s-7.3 -0.9 -8 2s0 30 0 30l272 0l0 -250z"/><path d="M1280 619c-3.6 -0.3 -10.4 -0.4 -16 -2s-11.1 -4.5 -16 -7s-10.8 -13 -13 -8s-0.5 25 0 38s3.1 31.4 3 36s-2 7.9 -4 12s-7.2 12.9 -10 16s-6.6 5 -10 6s-8.7 -3.4 -10 0s0.6 20.1 0 26s-2.2 10.3 -4 16s-3.8 10.2 -6 16s-5.1 10.3 -6 16s-1 10.6 1 16s6.1 11.3 11 16s9.9 7 16 10s12.5 6 20 8s16.8 3.2 24 4s16.4 0.9 20 1s10 0 10 0l0 -220c0 0 -6.4 0.3 -10 0z"/><path d="M1235 602c0 0 3.4 0.1 5 1s6.2 4.8 10 7s8.6 5.4 14 7s11.7 2.8 16 2s7.1 -3.7 10 -7s5.5 -9.1 8 -14s1.6 -12.9 6 -14s3.2 8.7 6 11s6.6 2.6 10 2s5.5 -2.7 8 -5s8 -6.7 10 -12s1.8 -16.4 2 -20s0 -10 0 -10l270 0l0 380l-236 0c0 0 -0.2 -6.5 -1 -10s-2.7 -11.7 -5 -18s-5.5 -11.3 -8 -18s-3.8 -12.8 -6 -20s-4.2 -16.6 -6 -20s-4.7 -5.5 -8 -7s-6.4 -1.6 -10 -1.4s-12.8 2.6 -20 3.4s-12.8 1 -20 1s-22.8 -0.6 -30 -1s-18.6 -1.9 -20 -2s-4 0 -4 0l0 -127l-1 -108l0 0z"/><path d="M1373 910c0 0 0.8 6.5 0 10s-2.9 7.8 -5 12s-6.4 11.5 -10 18s-6.4 11.5 -10 18s-5.7 12.3 -10 18s-11.3 10.8 -14 14s-5.2 5.9 -6 10s-0.4 8.4 2 12s9.1 8.2 14 12s10.3 5.8 14 10s5.6 9.1 7 14s1.1 11 1 14s-3.5 5.4 -2 8s7 4 10 6s6.1 2.9 8 6s4.3 8.8 4 14s-5.3 11 -6 16s0.7 10 2 14s6.8 5.9 6 10s-6.4 6.4 -10 10s-6.6 6.2 -10 10s-6.8 7.4 -10 12s-5.6 10.7 -8 14s-4.4 7.6 -8 8s-5 -4 -8 -6s-5.9 -6.9 -10 -6s-4.9 7.2 -8 10s-6.1 4.4 -10 6s-9.6 1.4 -14 4s-6.2 6.6 -10 10s-9.9 7 -12 10s-3.1 6.5 -2 10s4.3 7.3 8 10s9.7 4.4 14 6s7.6 5.3 12 4s5 -8.9 8 -10s5.9 1.6 8 4s2.6 8.6 6 12s8.9 3.2 12 6s4.8 6.6 6 10s0 6.5 1 10s2.4 8.1 5 12s6.6 6.9 10 10s6.6 5.8 10 8s6.4 4.5 10 5s7 0.2 10 -2s4.1 -5.4 5 -9s-0.5 -7.7 0 -12s0.8 -11.9 3 -16s5.7 -6.3 10 -8s11.5 -2.3 16 -2s9 4.3 12 4s3.6 -4.2 6 -6s6.2 -4.3 10 -6s7.9 -2 12 -4s8.8 -4.4 12 -8s4.7 -8.5 6 -12s3.4 -6.6 2 -10s-6.2 -7.6 -10 -10s-9.2 -0.4 -12 -4s-2.6 -10.9 -4 -16s-1.6 -11.2 -4 -14s-6.4 -1.3 -10 -2s-8.2 0.3 -12 -2s-5.5 -6.1 -8 -10s-6 -7.2 -6 -12s3.7 -7.7 6 -12s5.7 -9.7 8 -14s3.1 -8.4 6 -12s5.9 -5.8 10 -8s10.1 -4.3 16 -6s12.3 -1.5 18 -4s9.9 -7.5 14 -10s7.8 -4.4 12 -6s7.5 -2.9 12 -3s13.9 0.5 20 2s12.5 3.9 16 7s3.6 7.5 5 12s-0.2 11.1 3 14s7.8 -0.9 12 0s11.7 5.4 16 6s8.9 -1.1 12 -2s4.9 -3.3 8 -4s10 0 10 0l0 -214l-237 0z"/><path d="M1576 1132c2 -2.5 7.7 -1.3 12 -2s10.9 -6 14 -2s1.8 16.8 0 20s-6.5 -0.7 -10 -2s-9.6 -3.9 -12 -6s-6 -5.5 -4 -8z"/><path d="M1168 978c-0.7 -3 3 -5.4 6 -6s6.4 2.1 10 3s10 0.7 14 3s6 6 8 10s3 8.2 3 12s-0.4 7.2 -3 10s-6.1 4 -10 4s-7.1 -1.4 -10 -4s-4.6 -6.1 -6 -10s0.1 -8.2 -2 -12s-9.3 -7 -10 -10z"/><path d="M1196 1064c0.8 -1.9 3.7 -2.2 6 -2s5.2 1.6 6 3s-0.5 3.3 -2 4s-5.1 0.9 -7 0s-3.8 -3.1 -3 -5z"/></g>
<g fill="#55aaff"><path d="M920 314c1.8 -1.5 4.9 -3.2 8 -3s11.9 5.2 18 5s12.2 -3.4 16 -6s4.9 -6.6 8 -10s10.3 -11.4 14 -14s7.4 -4.2 12 -4s10.5 2.2 14 5s4.8 6.7 6 11s1.6 9 1 14s-2.4 13.1 -5 20s-6.1 13.3 -10 20s-10.4 16 -12 18s-3.4 4 -6 4s-9.6 -1.4 -14 -4s-5.9 -7 -10 -10s-12.8 -7.7 -20 -12s-18.5 -11 -20 -12s-2.4 -2.3 -3 -4s-0.5 -3.8 -0.4 -6s0.4 -3.9 1 -6s0.6 -4.5 2.4 -6z"/><path d="M782 237c0.9 0.9 5.3 8.2 8 13s6 9.9 8 16s4 13.4 4 20s-1.7 13.4 -4 18s-6.6 8.6 -10 10s-7.6 0.8 -10 -2s-3.6 -10.3 -5 -16s-0.3 -12 -3 -16s-9.2 -3.8 -12 -6s-6.4 -4.4 -6 -8s4.9 -7.2 8 -10s8.6 -3.8 10 -6s-3.9 -5.1 -2 -7s10.8 -2.5 12 -3s1.1 -3.9 2 -3z"/><path d="M826 220c3.1 -1.9 10.9 -4 14 0s3 13.9 0 18s-11 2.5 -14 1s-2 -5.7 -2 -9s-1.1 -8.1 2 -10z"/><path d="M792 509c1.8 -3.3 6.4 -4.1 10 -3s5.8 4.4 7 8s1.6 11.1 0 14s-5.7 2.4 -9 2s-7.7 -0.7 -9 -4s-0.8 -13.7 1 -17z"/><path d="M780 1119c2.3 0 4 2.7 4 5s-1.4 6 -4 6s-4 -3.7 -4 -6s1.7 -5 4 -5z"/><path d="M340 266c0.8 -2.8 5 -6.3 8 -7s5.7 0.9 8 3s3.5 4.8 4 8s1.7 10 -1 12s-4.4 -4.4 -7 -6s-5.8 -1.1 -8 -3s-4.8 -4.2 -4 -7z"/><path d="M353 288c1.7 -1.7 5.1 0.1 7 2s3.7 5.3 2 7s-4.3 -1.3 -6 -3s-4.7 -4.3 -3 -6z"/></g>
<g fill="#ff5555"><path d="M1495 712c2.5 -3.6 8.2 -2.8 13 -4s15.2 -4.3 20 -4s8.8 2.6 12 6s5 7.3 5 12s-3.6 8.8 -5 14s-2.3 16 -4 20s-3.7 9 -8 9s-8.3 -5.1 -12 -9s-8.8 -10.6 -12 -16s-5.7 -11.8 -7 -16s-4.5 -8.4 -2 -12z"/><path d="M1602 872c-1.9 -5.5 -8.6 6 -14 8s-12.3 3.2 -18 4s-11.6 -1.2 -16 1s-7.6 6.2 -8 11s2.1 9.2 6 12s10.3 2.2 16 4s10 4.6 16 6s15.6 8.1 18 2s1.9 -42.5 0 -48z"/></g>
<g fill="#0080ff"><path d="M988 300c1.9 0 4.3 0.7 6 2s3 2.9 3 5s-0.9 5.3 -3 7s-5.2 3.1 -8 2s-4.5 -4.4 -5 -7s0.8 -5.5 2 -7s3.1 -2 5 -2z"/><path d="M786 281c2.2 0.9 5.6 4.5 6 8s-0.6 8 -4 9s-7.4 -2.2 -9 -5s-0.2 -6.9 1 -9s3.8 -3.9 6 -3z"/><path d="M960 493c1.8 0 3.2 2.2 3 4s-1.9 5 -4 5s-3.2 -3 -3 -5s2.2 -4 4 -4z"/></g>
<g fill="#fff"><path d="M866 338c5.4 0.8 19.1 13 22 18s0.5 10.7 -2 16s-12 14.8 -14 18s-4 6.4 -3 10s7.7 13 11 20s5.7 17 8 20s7.9 3 10 3s4.5 -5 5 -3s-0.9 8.1 -3 12s-7.7 12.1 -12 16s-9.7 4.1 -14 8s-5.9 9.7 -10 14s-8.7 10.6 -13 10s-0.1 -7.8 -1 -12s-3.7 -18.6 -6 -22s-7.8 -5.5 -11 -3s-4.9 11.9 -7 17s-1.1 12.8 -6 14s-5.3 -8.1 -10 -10s-9 0.7 -14 0s-13.4 0.1 -16 -4s3.2 -8.9 6 -12s6.1 -4.5 10 -6s24 -5.5 32 -10s13 -10.9 18 -18s7.8 -17 10 -22s4.3 -8.8 6 -14s4.9 -11.2 4 -16s-8.1 -5.3 -9 -10s1.6 -14.7 3 -20s0.6 -14.8 6 -14z"/><path d="M768 390c1.6 -4.1 6.6 -6.6 10 -7s6.7 1.9 8 5s1.4 9.9 0 14s-4.2 8.5 -8 9s-6.4 -3.5 -8 -7s-3.6 -9.9 -2 -14z"/><path d="M740 402c3.7 -3.4 16 -5.8 20 -4s-0.2 8 -2 12s-8.5 5.8 -8 10s10.8 1.9 10 6s-8.8 4 -12 4s-6.4 -1.2 -8 -4s0 -6.4 0 -10s-3.7 -10.6 0 -14z"/><path d="M986 452c2.3 -1.8 8.9 -3.4 14 -3s11.5 1.4 14 5s-2.1 10.2 -2 12s3.3 2.2 3 4s-4 14.2 -7 18s-8.7 3.7 -12 6s-4.9 7.2 -8 8s-5 -5.1 -8 -4s-4.2 7.7 -8 10s-10 5.9 -12 2s5.5 -10.3 6 -14s-3.8 -6.8 -3 -10s5.3 -3.2 7 -6s0.1 -10.3 4 -12s6.5 8.3 10 6s1.7 -11.1 2 -14s-2.3 -6.2 0 -8z"/><path d="M1076 444c-4.6 -2.3 12.2 -1.2 14 -2s0.1 -4.6 2 -5s4.9 2.7 8 3s6.6 -2.1 10 -1s4.6 8.7 8 7s1 -8.6 2 -12s0.5 -9 4 -9s2.6 6.1 4 9s4 4.8 4 8s-4.9 7.2 -4 10s5.5 2.8 8 2s1.5 -5.4 4 -6s14 0 16 1s0.1 5.2 -2 6s-11.5 0.8 -18 1s-16.1 1.1 -20 0s-4.4 -6 -8 -8s-7.6 -2.4 -12 -3s-15.4 1.3 -20 -1z"/><path d="M1512 332c1.1 -4.4 9.4 -0.5 12 -4s-2.1 -8.7 0 -12s7.3 -1.3 10 -4s4.2 -12.3 8 -14s6.2 4.3 10 6s8.4 1.2 12 4s4.3 8.3 8 12s11.9 8.2 16 12s8.1 6.7 10 12s3.6 16.6 4 26s-0.1 21.9 -2 26s-7.5 3.7 -12 4s-12.6 -5.6 -18 -2s-3.6 15.3 -6 18s-7.5 2.6 -10 0s-3.4 -10.2 -5 -16s-2.5 -14.3 -5 -20s-7.8 -10 -10 -14s-1.6 -8.2 -4 -12s-6.8 -6.1 -10 -10s-9.1 -7.6 -8 -12z"/><path d="M1584 258c3 -0.5 11.5 -1.7 16 2s6 10.5 6 16s-4 11.6 -6 14s-4.9 3.3 -8 3s-11.9 -1.4 -16 -5s-6.4 -9.4 -6 -14s6 -7.7 8 -10s3 -5.5 6 -6z"/><path d="M1186 398c0 -4.6 5.7 -10.4 10 -12s9.7 1.3 12 4s1.6 7.5 0 10s-8 -1 -8 2s10.9 5.1 8 8s-8 -1.8 -12 -4s-10 -3.4 -10 -8z"/><path d="M476 658c-0.9 -4.2 3.7 -9.3 8 -9s17.8 7.8 20 11s-2.8 7.4 -6 9s-6.8 0.6 -10 -1s-11.1 -5.8 -12 -10z"/><path d="M848 596c3.6 -3.2 8.2 -9 12 -6s0.2 10 -2 14s-7 5.3 -10 8s-4 7.6 -8 8s-10 -1.8 -10 -6s7 -3 10 -6s4.4 -8.8 8 -12z"/><path d="M828 646c0.4 -1.9 3.7 -3.5 5 -2s2.5 7.2 2 10s-3.1 8.1 -5 6s-2.4 -12.1 -2 -14z"/><path d="M939 654c1.4 -3.8 8.2 -4.8 11 -2s1.9 11.5 1 14s-5.1 3.9 -7 2s-6.4 -10.2 -5 -14z"/><path d="M1008 760c2.7 -1.1 6.4 2.5 10 4s10.3 3.1 12 5s1.2 5.7 -1 7s-6 0.2 -9 -1s-10.2 -4.8 -12 -7s-2.7 -6.9 0 -8z"/><path d="M1178 743c1.1 -2.7 6.8 -2.5 10 -5s8.6 -9.9 12 -12s11 -6 11 -2s-7.4 3.3 -11 6s-11.5 11.5 -14 13s-9.1 2.7 -8 0z"/><path d="M1238.4 678c3.4 -2.9 3.3 7.5 3.6 12s0.6 12.4 -2 16s-10 7 -12 3s5.3 -8 7 -13s0 -15.1 3.4 -18z"/><path d="M513 1125.6c0.9 -3 6.2 -6.4 9 -8.6s5 -4.8 8.6 -5s7 2.3 10.4 4s6.1 3.8 9 5.7s5.7 3.3 8 5.3s6 3.7 5.7 6.4s-4.3 2.6 -6.7 3.6s-4.5 1.4 -7 2.2s-5.3 1.6 -8 2.3s-4.8 2 -7.5 1.6s-6.4 -2.4 -9.5 -4.1s-5.9 -3.2 -8 -5.6s-4.9 -4.8 -4 -7.8z"/><path d="M753 1126c0.9 -1.7 3.1 -2.6 5 -2s6.2 2.9 8 6s2.1 7.5 1 10s-4.4 3.7 -7 3s-6.6 -3.7 -8 -7s0.1 -8.3 1 -10z"/><path d="M1278 1158c1.3 -1.6 8 -5.8 12 -6s9.4 1 10 5s-4.3 8 -8 9s-8.2 -3 -10 -4s-5.3 -2.4 -4 -4z"/><path d="M1334 1170c1.1 -2 4.2 -3.4 6 -2s3.2 5.8 2 8s-5 2.5 -7 1s-2.1 -5 -1 -7z"/><path d="M1120 920c2.5 -3.5 7.3 -5 12 -5s13.1 4.6 14 5s1.8 1 2 2s3.4 8.8 0 10s-24 1.7 -28 0s-2.5 -8.5 0 -12z"/><path d="M1020 1120c0.9 -2.1 3.6 -3.4 6 -3s3.5 3.7 6 5s6.6 0.2 8 2s0.1 5.2 -2 6s-5.1 -1.3 -8 -2s-6.2 -0.6 -8 -2s-2.9 -3.9 -2 -6z"/><path d="M391 1302c1.2 -2.1 5.9 -3.3 7 -1s-1.6 6.7 -4 7s-4.2 -3.9 -3 -6z"/><path d="M524 1365c0.4 -1.8 3.6 -2.2 5 -1s1.3 4.5 1 6s-1.8 4 -3 3s-3.4 -6.2 -3 -8z"/><path d="M864 1144c0.5 -1.9 2.1 -3.6 4 -4.7s4.3 -1.8 6.7 -1.3s5.3 2.7 6.6 4s2.7 3 2 4.7s-3.8 3.6 -6 4.6s-4.3 1.8 -6.6 1.4s-4.2 -1.8 -5.4 -3.4s-1.8 -3.4 -1.3 -5.3z"/><path d="M1146 1240c0 0 -1.8 6.9 0 10s9.1 8.8 14 14s9.7 11 14 16s8.4 9.7 12 14s9.2 7.9 10 12s-4.6 6.6 -6 10s-2.4 6.8 -2 10s1.4 6.1 4 8s7.4 4 12 4s9.1 -1.4 12 -4s3.6 -6.3 4 -10s-2 -6.3 -2 -10s0.6 -7.8 2 -12s5.3 -7.2 6 -12s-1.4 -11.7 -2 -16s-2.6 -9.5 -2 -12s3.5 -3.4 6 -4s8.2 -0.7 12 0s6.8 6.2 10 4s1.7 -8.4 2 -12s0 -10 0 -10l-106 0z"/><path d="M1208 1366c0.5 -1.2 5.1 -9.4 8 -12s7 -4.4 10 -4s5.3 3 6 6s0.4 7.2 -2 10s-6.4 3.5 -10 4s-8.8 -0.6 -10 -1s-2.5 -1.8 -2 -3z"/><path d="M1186 1358c2.3 -2.3 4 6 4 8s-3.1 5.8 -4 4s-2.3 -9.7 0 -12z"/><path d="M1266 1352c2.8 -2.3 10.1 -3.6 14 -2s6 5.8 6 10s-2.9 8.1 -6 10s-7 1.6 -10 0s-4.3 -4.7 -5 -8s-1.8 -7.7 1 -10z"/><path d="M1219 1258c5.9 -2.8 24.3 2.5 29.8 4.2s8.2 6.2 13.4 8.8s12.2 6 17.8 6.8s10.8 -1.5 15.6 -2.2s9.3 -3 13.2 -2.2s8 2.7 9 6.6s-4.4 7.4 -4.4 11s2.2 6.2 4.6 9s6.1 5.5 10 8s8.9 3.2 12 6s5.3 6.4 6 10s-0.4 6.7 -2 10s-6 7.7 -8 10s-3.8 5.3 -6 6s-3.8 -1.3 -6 -2s-3.9 -2.9 -6 -2s-5.5 7.1 -10 9s-13.4 0.8 -16 2s-1.9 5 -4 7s-4.9 3.3 -8 4s-7.4 1 -10 0s-4.4 -3.3 -5 -6s-1.3 -9.1 1 -12s6.4 -2.5 10 -2s7.7 4.3 12 5s8.9 -0.2 12 -1s5.2 -2.4 8 -4s10 -1.7 9.8 -5.8s-8.2 -15 -11.2 -20s-7.6 -8.7 -8.8 -13.4s3.5 -8.8 2.2 -13.2s-4.8 -8 -9 -9s-6.9 3.3 -11 4.4s-9.5 1.6 -14 2s-8.2 1.5 -12.6 0.4s-8.8 -4 -13.4 -6.8s-14.2 -10.3 -15.6 -11s-3.9 1.9 -4.4 0.4s-6.9 -15.2 -1 -18z"/></g>
<path fill="#ffd5d5" stroke="#000" stroke-width="2.3" d="M662 1216c1.3 -5.5 5.6 -9.4 10 -12s9.7 -3.6 14 -2s6.3 5.7 8 10s4 14.1 4 20s-1.2 12.1 -4 16s-7.7 5.3 -12 6s-8.7 0.9 -12 -2s-4.8 -8.6 -6 -14s-3.3 -16.5 -2 -22z"/><path fill="#ffaaaa" stroke="#000" stroke-width="2.3" d="M680 1226c1 -2.1 2.8 -4.8 5 -4s2.5 4.3 3 7s1.1 7 0 9s-3.9 2.9 -6 2s-2.7 -3.6 -3 -6s0 -5.9 1 -8z"/><path fill="#ffd5d5" stroke="#000" stroke-width="2.3" stroke-linejoin="round" d="M1402 1236c1 -2.1 4.2 -6.6 8 -7s8.3 1.8 10 5s-0.1 7.6 -2 10s-5.2 3.4 -8 3s-4.7 -3.2 -6 -5s-3 -3.9 -2 -6z"/><path fill="#ffaaaa" stroke="#000" stroke-width="2.3" stroke-linejoin="round" d="M1469 1180c3.2 -3.9 10.1 -5.2 14 -2s4.2 10.1 1 14s-10.1 5.2 -14 2s-4.2 -10.1 -1 -14z"/><path fill="#ffd5d5" stroke="#000" stroke-width="2.3" stroke-linejoin="round" d="M1440 1066c1.6 -3 4.6 -5 8 -5s8.3 1.4 10 5s-0.3 9.4 -2 12s-4.9 3.4 -8 3s-6.4 -2 -8 -5s-1.6 -7 0 -10z"/><path fill="#ff5555" stroke="#000" stroke-width="3" stroke-linejoin="round" d="M1379 1058c1.3 -3.5 5.5 -3.8 9 -5s8 -2.5 12 -2s6.4 3.2 10 5s8.6 2.6 12 6s4.4 7.4 6 12s3.8 9.1 3 14s-3.6 8.4 -7 12s-9 5 -12 8s-4.3 6.2 -6 10s0.1 11.2 -4 12s-4.5 -6.1 -6 -10s-2.2 -10.3 -4 -16s-4 -10.3 -6 -16s-3.8 -11 -5 -16s-3.3 -10.5 -2 -14z"/><path fill="#ff5555" stroke="#000" stroke-width="3" stroke-linejoin="round" d="M1462 995c2.2 -3.2 6.1 -4 10 -4s7.8 0.8 10 4s2.2 7.9 0 11s-6.2 3 -10 3s-7.8 0.1 -10 -3s-2.2 -7.8 0 -11z"/><path fill="#ff5555" stroke="#000" stroke-width="3" stroke-linejoin="round" d="M1358 1182c0.3 -2.4 3.6 -3.4 6 -3s3.2 4.8 6 5s4.9 -3.3 8 -4s10 -1 14 -1s9.7 0.3 11 1s0.2 3.1 -1 4s-6.7 2 -10 4s-6.8 7.4 -12 9s-13.4 3.1 -18 0s-4.3 -12.6 -4 -15z"/><path fill="#ffd5d5" stroke="#000" stroke-width="2.3" stroke-linejoin="round" d="M1243 1121c1.4 -1.6 5.5 -2.8 8 -2s4.2 3.9 4 6s-2.9 2.6 -5 3s-4.5 0.5 -6 -1s-2.4 -4.4 -1 -6z"/><circle cx="1316.0" cy="1111.0" r="2.4"/><circle cx="1330.0" cy="1112.0" r="2.4"/><circle cx="1323.0" cy="1123.0" r="2.4"/><path fill="#ffaaaa" stroke="#000" stroke-width="2.3" stroke-linejoin="round" d="M1062 1100c0 -1.3 0.7 -5.3 2 -8s3.8 -5.1 6 -8s4.6 -7.2 6 -8s3.7 0.4 4 2s-0.5 5.4 -2 8s-4.7 4.1 -6 6s-0.7 4.2 -2 6s-4.7 4.7 -6 5s-2 -1.7 -2 -3z"/><path fill="#ffd5d5" stroke="#000" stroke-width="3" stroke-linejoin="round" d="M995 1085c0.6 -2.2 2.7 -4 5 -4s4.3 1.8 5 4s0.3 4.9 -1.4 6.6s-4.7 3.1 -6.6 1.6s-2.6 -6 -2 -8.2z"/><circle cx="955.0" cy="921.0" r="2.2"/><circle cx="1015.0" cy="1136.6" r="2.2"/><circle cx="1033.0" cy="1148.0" r="2.2"/><circle cx="1133.0" cy="1158.4" r="2.2"/><circle cx="1078.0" cy="1202.6" r="2.2"/><circle cx="378.0" cy="1538.0" r="2"/><circle cx="517.0" cy="1448.0" r="2"/><circle cx="393.0" cy="1567.0" r="2"/><path fill="#ffd5d5" stroke="#000" stroke-width="2.3" stroke-linejoin="round" d="M548 1288c1.9 -2.2 5.4 -2.4 8 -2s5.3 1.5 6 4s0 7.9 -2 10s-5.6 1.7 -8 1s-4.3 -2.6 -5 -5s-0.9 -5.8 1 -8z"/><path fill="#ffaaaa" stroke="#000" stroke-width="1.2" stroke-linejoin="round" d="M905.3 1146.7c0.6 -2.7 5.1 -1.6 8 -2s5.9 -0.3 8 0s5.9 0 5.4 2s-4.1 2.6 -6.7 3.3s-5.3 1.3 -8 0.7s-7.3 -1.3 -6.7 -4z"/><path fill="#ccffff" stroke="#000" stroke-width="1.2" stroke-linejoin="round" d="M1180 1262c0.7 -2.9 5.3 -3.2 8 -2s6.8 6.1 10 10s6.1 8.6 8 12s4.4 7.6 4 10s-3.7 3.6 -6 3s-6.8 -4 -10 -7s-7.5 -7.4 -10 -12s-4.7 -11.1 -4 -14z"/><path fill="#ffaaaa" stroke="#000" stroke-width="1" stroke-linejoin="round" d="M1238 1334c0.4 -2.2 4.5 -2.5 6 -1s4.4 8.9 4 11s-4.5 1.5 -6 0s-4.4 -7.8 -4 -10z"/><path fill="#ff5555" stroke="#000" stroke-width="3" stroke-linejoin="round" d="M1344 1286c0.9 -2.7 3.3 -4.1 6 -5s8.5 -1.9 12 -1s6 3 8 6s3 6.2 3 10s-0.4 7.2 -3 10s-6.2 3.8 -10 4s-7 -0.7 -10 -3s-4.9 -5.3 -6 -9s-0.9 -9.3 0 -12z"/><path fill="#ffaaaa" stroke="#000" stroke-width="3" stroke-linejoin="round" d="M1477 1404c1 -3.1 3.8 -5 7 -6s8 -1.5 12 0s7.4 4 9 8s-0.1 8.2 -1 12s-1.9 7.9 -4 10s-5.1 2.4 -8 2s-5.7 -1.7 -8 -4s-4.7 -6 -6 -10s-2 -8.9 -1 -12z"/><path fill="#ffd5d5" stroke="#000" stroke-width="1" d="M918.7 1066.7c0 -1.6 2.4 -2 4 -2s4 0.4 4 2s-2 4 -4 4s-4 -2.4 -4 -4z"/><path fill="none" stroke="#000" stroke-width="1.15" stroke-linejoin="round" d="M950 200c0 0 4 7.4 4 12s-3.8 8.8 -4 14s1.9 14.9 3 20s3.9 8.8 4 14s-3.5 20.5 -3 28s4.4 17.2 6 20s5.8 1.7 8 4s6.7 7 7 12s-1.9 14.2 -5 18s-11.8 -0.8 -13 4s4.5 18.9 6 24s5 8.6 5 14s-2.7 19.2 -5 24s-8.5 8.4 -11 10s-6.7 -0.7 -8 2s3 6.5 2 10s-6.5 4.2 -7 8s3.4 12.7 3 20s-4.2 18.3 -5 20s-3.8 2.4 -5 1s-4 -11 -4 -11 M1558 200c0 0 8.3 10.9 8 18s-4.4 21.3 -10 32s-17.6 25 -26 36s-14.9 19.6 -24 30s-20.1 21.8 -30 32s-28 28 -28 28 M1452 448c0 0 6.4 1.4 6 4s-6 4.4 -8 8s-1.4 9.6 -4 14s-9.1 5 -10 10s2.9 23.6 3 28s-3.1 7.8 -2 12s8.8 11.4 9 16s-6 6.7 -8 10s-4 10 -4 10 M1338 540c0 0 14.7 -4 22 -4s15.1 2.2 20 4s8 4.7 12 8s12 12 12 12 M313 736c0 0 5 1.9 7 4s1.6 5.8 4 8s6 5.2 10 5s7.6 -3.4 10 -6s2.1 -7.7 4 -9s4.5 0.3 6 2s1.4 7.1 4 10s12 8 12 8 M878 784c0 0 6.9 -11.5 12 -12s6.4 6.4 10 10s9.5 10 12 12s8 4 8 4 M844 711c0 0 8.3 0.3 12 1s6.2 3 10 3s14 -3 14 -3 M798 800c0 0 0.9 8.1 0 12s-4.5 7.9 -5 10s2.5 4.4 1 6s-9.4 0.2 -10 4s6.8 4.5 8 8s-0.7 7.7 -2 10s-5.7 1.4 -6 4s6.5 8.2 4 12s-11.8 4.8 -16 6s-10.2 0.8 -12 2s-0.8 4 0 6s5 6.6 6 10s1.1 6.6 0 10s-4.4 4.8 -6 8s-4 12 -4 12 M680 900c0 0 14.8 4.6 20 4s6.9 -7 12 -8s15.1 1 18 2s3 5.5 6 6s12.6 -3.5 16 -2s2 10 2 10 M1020 775c0 0 3.6 10.7 4 17s-0.9 14.6 -2 18s-7.1 4.6 -6 8s8.9 6.3 12 10s4.4 7.5 6 12s4.4 10.1 4 16s-5.6 10.1 -6 16s2.7 11.6 4 16s2.7 7.6 4 12s4 16 4 16 M1204 736c0 0 10.2 2.2 16 3s12.8 1.9 20 2s40 -1 40 -1 M1240 708c0 0 5 -8.9 10 -10s13.6 3.7 18 4s12 -2 12 -2 M1236 644c0 0 4.1 -7.5 8 -10s14.4 -6.4 20 -8s16 -2 16 -2 M1240 638c0 0 7.3 -5.8 12 -8s8.8 -3.5 14 -4s23.2 -0.4 26 0s3.2 4.7 6 5s6.3 -3.3 10 -3s20.5 6 26 6s11.2 -4.8 14 -6s5.5 -4.8 8 -3s1.8 10 6 13s12.9 1.6 18 4s8.5 6.2 12 10s5.1 9.6 8 12s10 3 10 3 M1410 667c0 0 5.5 -7 10 -8s16.9 1.9 20 1s1.8 -5.6 4 -8s11.6 -8.4 14 -12s2.9 -7.7 2 -12s-6.5 -11.9 -8 -16s-0.8 -9.7 -2 -12s-5.8 -1.4 -6 -4s4.6 -15.4 4 -20s-6.8 -8.1 -8 -10s-2 -6 -2 -6 M1458 640c0 0 4.5 5.2 8 6s7 -3.3 10 -2s1.1 6.6 4 8s12.7 0 16 2s0.4 8.5 4 10s6.2 -3.2 10 -4s14.7 -3.8 20 -2s8.3 10.5 10 12s5.5 -0.2 6 2s-2.3 11.5 -2 16s4.4 7.8 4 12s-6.6 5.9 -6 10s7 11 10 16s5.3 9.6 8 14s5.5 8.8 8 12s6.8 4.5 8 8s-4.8 7.6 -2 10s10.2 -1.4 14 0s6.1 5.4 8 8s4 8 4 8 M1546 672c0 0 1.1 -6.6 4 -8s9.5 3.5 12 0s-2.2 -8.9 -2 -14s4.1 -9.8 3 -14s-6.6 -4.4 -9 -8s-4.3 -10.8 -6 -14s-6 -4.4 -6 -8s2.5 -7.7 6 -10s13.2 -2.7 16 -4s3.3 -4.6 6 -6s19 -6.8 22 -8s8 -4 8 -4 M1410 667c0 0 -5 15.4 -4 19s10 -0.8 10 3s-7.3 5.7 -10 7s-5.7 0.1 -8 2s-1.7 5.7 -4 8s-7.8 2.4 -10 6s-0.7 9.1 -2 14s-6.3 13 -6 16s6.5 0.5 8 2s1.4 4.4 0 6s-4.8 3.3 -7 2s0 -7.5 -3 -8s-6.5 4.3 -10 6s-8.3 2.5 -10 4s-0.1 4.8 -2 6s-10.8 4 -14 4s-4.8 -3.9 -8 -4s-18 3 -18 3 M1240 692c0 0 7.2 6.1 12 8s11 2.7 16 3s9.4 -3.2 14 -1s8.2 7.4 9 12s-4.4 7.4 -5 12s2 13 2 13 M1240 741l48 -2 M1288 739c0 0 8 2.7 12 5s7.9 4.6 10 8s2 11 2 11 M1312 763c0 0 2.2 11.1 4 17s4.2 10.3 6 16s3.6 10.2 4 16s1.2 11.2 -2 16s-12.8 8 -16 11s-8.2 5.8 -7 10s10.9 5.2 13 11s-2.7 12.8 -2 20s3.5 12.9 6 20s8 20 8 20 M1340 870c0 0 12.8 -2.6 20 -3s12.8 0.1 20 1s14.2 2.7 20 4s11.7 3.1 16 4s9.7 0.8 12 2s1.9 4.4 4 6s8.4 6 12 6s4.5 -5.1 8 -6s9.3 -1.1 14 0s7.7 5.3 12 6s8.2 -4.1 12 -2s1.8 10.2 6 12s7.7 -2.5 12 -4s10.5 -7.3 16 -6s5 14.5 10 12s1.1 -13.5 2 -18s2.2 -7.9 4 -12s2 -9 6 -11s16.1 -3.2 22 -3s11.9 5.1 16 4s3.1 -7.4 6 -10s10 -4 10 -4 M1600 798c0 0 -6.7 8.1 -12 10s-11.3 1 -16 0s-8.4 -7 -12 -6s-4.1 6.4 -3 10s7.7 5.8 9 10s-2.7 7.7 -2 12s4.8 10.5 6 14s2 10 2 10 M1316 882c0 0 6.6 3.4 10 2s8.6 -8.6 10 -10s4 -4 4 -4 M678 940c0 0 8 0.2 12 2s7.6 4.9 10 8s1.8 7.1 4 10s4.4 5.6 8 6s6.4 -5.5 10 -4s1.4 7.1 4 10s6.8 3.5 10 6s4.2 6.5 8 8s7.7 -0.6 12 0s12 1.7 16 4s4.9 7.2 8 10s5.9 5.1 10 6s7.7 -1.7 12 -1s10.5 4 14 5s10 2 10 2 M826 1012c0 0 -2 11.2 -4 16s-6 7.2 -8 12s-2.9 10.3 -4 16s-2 13 -2 16s2 8 2 8 M810 1080c0 0 -6.5 2.9 -10 4s-7.4 -0.6 -10 2s-0.2 6.8 -2 10s-5.3 5.6 -8 8s-5.9 3.1 -8 6s-8 16 -8 16 M756 920c0 0 3.6 6.6 6 10s6.9 6.5 8 10s-0.5 6.7 -2 10s-5.6 4.4 -6 8s1.9 7.6 4 10s7 0.9 8 4s-2 14 -2 14 M762 958c0 0 -6.5 4.2 -8 8s-0.6 8.8 0 12s4 8 4 8 M1330 920c0 0 -0.3 8 -2 12s-4.5 8.2 -8 12s-10 8 -14 12s-6.6 7.5 -10 12s-8.3 8 -10 14s1.6 14 1 18s-5 10 -5 10 M1340 1064c0 0 9 2.8 12 4s4.9 4.8 8 4s4.4 -6.2 8 -8s7.7 -1.4 12 -2s13.1 -0.6 16 -2s1.6 -5.9 4 -8s6.4 -2.5 10 -4s8.8 -4.3 14 -6s11.2 -4.3 16 -4s7.7 3.7 12 6s9.1 5.5 14 8s10.2 4.1 14 6s8.1 2.2 10 6s-1.5 9.2 0 14s8 12 8 12 M1410 1048c0 0 10 6.9 14 12s5.3 10.9 8 16s4.6 9.3 8 14s9 9.4 12 14s4.7 8.7 6 14s2 11.5 2 18s-2 11.5 -2 18s0.5 14.2 2 18s8 8 8 8 M1498 1090c0 0 5.3 -0.2 6 2s-1.7 12.2 0 16s8 2.3 10 6s1.4 14 2 16s5.4 2.6 4 4s-6.3 2.4 -10 2s-7.2 -3.1 -10 -4s-5.1 -2.7 -8 -2s-6.7 2.7 -8 6s1.8 9.3 0 14s-7.5 8.6 -10 12s-3.7 8.3 -6 10s-8 0 -8 0 M1282 1010c0 0 -5.6 8.5 -6 14s1.3 10.7 4 16s9.8 14.2 12 16s5.2 -0.6 8 0s12.9 4.6 20 6s20 2 20 2 M1292 1056c0 0 -7.7 7.7 -12 12s-8.9 7.5 -12 12s-3.5 9.4 -6 14s-5.5 7.4 -8 12s-6 14 -6 14 M1276 1248c0 0 1.8 -13.7 6 -16s10.1 2.9 12 6s-4.6 7.4 -2 10s7.8 -0.8 12 0s12.8 5.3 20 6s12.8 -2.7 20 -2s14.2 5.4 20 6s10.8 0.6 16 -2s7.5 -8.9 12 -12s8.7 -4.7 14 -6s12.1 -2.3 18 -2s11 1.5 16 4s6.8 7.9 12 10s20 3 20 3 M312 1334c0 0 4.4 -5.8 4 -8s-3.7 -1.9 -6 -2s-9.3 0.4 -12 1s-7 3 -7 3 M328 1332c0 0 5 2.3 8 2s6.1 -3.6 10 -4s12.4 -1.2 16 1s1.7 8.3 4 11s8.6 0.5 9 4s-4.1 8.9 -7 12s-7.8 4.2 -10 6s-4.7 3.2 -5 6s2.8 10.9 3 16s-1.1 11.3 -2 14s-4.8 3.2 -5 6s4.2 6.1 4 10s-1.5 8 -5 10s-11.8 -0.1 -14 1s4.4 1.2 6 3s11.3 12.2 12 18s-6.3 10.5 -8 14s-4.3 6.1 -4 10s4.8 12 6 14s6.1 2 5 4s-6.7 0.5 -9 3s-5.1 7.9 -6 13s0 20 0 20 M840 1534c0 0 -9.4 13.3 -10 16s4.8 3.2 5 6s-2.5 16.8 -3 24s0 20 0 20 M1279 1293c0 0 2.4 11.6 2 15s-5.9 4.7 -5 8s6.9 6.6 10 10s6.2 5.7 8 10s2 14 2 14 M1296 1350l8 6 M1240 1318c0 0 10.2 -1.4 16 -2s20 -2 20 -2 M1334 1348c0 0 12.2 4 18 6s11.5 5.7 16 6s7.6 -3 12 -4s10.8 -0.4 14 -2s6 -4.9 6 -8s-7.2 -3.2 -6 -6s7.4 -5.5 12 -8s10.5 -4.8 14 -6s6.4 -2.7 10 -2s5.9 4.9 10 6s12 0 12 0 M1400 1346c0 0 10 3.4 10 8s-8.6 6.6 -10 10s3.2 6.5 2 10s-8 8 -8 8 M1240 1374c0 0 12.1 -2.1 16 -4s9 -8 9 -8 M1486 1368l2 -6"/>
<path fill="none" stroke="#000" stroke-width="1.4" stroke-linejoin="round" d="M822 192c0 0 2.2 6.1 0 8s-10.5 3.2 -16 6s-11.4 5 -16 10s-6.6 13.8 -10 18s-7.9 5.5 -12 9s-7.8 6.9 -12 11s-7.5 9.3 -12 12s-11.9 0.4 -14 4s7.6 6.1 6 10s-12.6 7.8 -14 10s3.1 3.6 4 6s3.9 12.2 4 16s-3 6.2 -3 10s2.8 9.6 3 14s-2.4 8.1 -2 12s4.8 6.2 4 10s-7.6 3.9 -8 8s4.4 9.7 6 14s2.3 8.2 4 12s3.6 7.3 6 10s9 2.5 8 6s-9.8 6.2 -12 8s-4.4 3.3 -5 6s0.3 9.5 1 12s3.8 3.4 4 6s-2.7 6.3 -3 10s-1.1 9.9 1 14s8.4 3.7 10 8s-2.4 10.4 -1 16s6.6 12.7 9 16s4.5 5.9 8 8s15.5 5.4 18 8s-3.6 7.4 -1 10s9.4 3.5 15 4s10.3 0 16 -1s12.1 -1.9 18 -5s9.8 -7.4 14 -12s5.8 -9.4 10 -14s9.8 -7.4 14 -12s5.7 -10.1 10 -14s9.7 -4.1 14 -8s9.9 -12.1 12 -16s3.3 -9.7 3 -12s-5.3 -1.7 -5 -4s6.5 -18.1 8 -20s3 3.6 3 6s-3.1 14.1 -3 18s2.7 6.4 4 10s2.6 9.8 4 12s6 4 6 4 M920 466c0 0 1.3 -0.2 2 0s5.5 -0.2 6 2s-1.5 11.7 -2 16s-0.7 7.7 -1 12s-1.9 10.6 -1 16s2.7 12.4 6 14s0 -7.9 2 -10s6.1 -3.2 8 -1s3.2 8.5 2 13s-7.6 7 -8 10s6 6 6 6 M1109 486c0 0 1.5 3 3 3s5.6 -1.1 8 -3s4.5 -4.7 6 -8s-1.2 -13.4 3 -12s1 12 3 14s3 -4 5 -6s7.3 -5.6 9 -8s0.1 -5.7 2 -8s9 -3.1 10 -6s-6.3 -3 -6 -6s5.6 -9.3 8 -12s5.9 -3.6 8 -6s4.4 -5.8 4 -8s-4.8 -0.1 -6 -2s-1.4 -9.1 -3 -12s-4.4 -3.9 -7 -6s-7.3 -4.3 -10 -8s-6.8 -16.1 -9 -18s-5.4 4 -7 4s-0.6 -3.2 -2 -4s-8.5 -0.6 -11 -4s-1.2 -9.6 -2 -14s-2.8 -7.6 -3 -12s1.2 -19.6 1 -24s-5.2 -8.1 -3 -12s10.6 -2.6 12 -4s-3.8 -2 -4 -4s1.1 -14.8 2 -20s3.7 -8.8 4 -14s-4.4 -10.7 -2 -16s11.1 -6.5 14 -10s1.4 -9.4 4 -12s7.1 0.2 10 -2s6 -6.9 6 -10s-6.7 -3 -6 -6s8.6 -7.5 10 -10s0 -8 0 -8 M1109 486c0 0 0.8 2.8 0 4s-4.3 8.8 -9 10s-12.3 -9 -14 -4s8.4 13.2 10 16s4 4.8 4 8s-3.1 16.9 -4 20s-4 4.8 -4 8s4 12 4 12 M986 452c2.3 -1.8 8.9 -3.4 14 -3s11.5 1.4 14 5s-2.1 10.2 -2 12s3.3 2.2 3 4s-4 14.2 -7 18s-8.7 3.7 -12 6s-4.9 7.2 -8 8s-5 -5.1 -8 -4s-4.2 7.7 -8 10s-10 5.9 -12 2s5.5 -10.3 6 -14s-3.8 -6.8 -3 -10s5.3 -3.2 7 -6s0.1 -10.3 4 -12s6.5 8.3 10 6s1.7 -11.1 2 -14s-2.3 -6.2 0 -8z M1076 444c-4.6 -2.3 12.2 -1.2 14 -2s0.1 -4.6 2 -5s4.9 2.7 8 3s6.6 -2.1 10 -1s4.6 8.7 8 7s1 -8.6 2 -12s0.5 -9 4 -9s2.6 6.1 4 9s4 4.8 4 8s-4.9 7.2 -4 10s5.5 2.8 8 2s1.5 -5.4 4 -6s14 0 16 1s0.1 5.2 -2 6s-11.5 0.8 -18 1s-16.1 1.1 -20 0s-4.4 -6 -8 -8s-7.6 -2.4 -12 -3s-15.4 1.3 -20 -1z M1244 192c0 0 -1.1 5.3 0 8s7.4 4.9 7 9s-7.8 7.4 -9 13s-1.2 30.2 -1 34s3 6.2 3 10s-3.7 9.7 -3 14s5.7 5.8 7 10s2 13.5 2 20s-1.1 11.5 -2 18s-2.4 13 -3 18s-1.5 9 -1 14s1.6 11.2 4 14s7.4 -0.6 10 2s-0.8 7.6 2 10s8.3 1 12 2s8.4 1.5 10 4s-2.7 5.1 -2 8s3.5 7.2 6 8s3.7 -5.2 6 -4s2.4 8.6 6 10s7.8 -4.4 10 -4s-0.3 6.3 2 6s22.8 -9.4 26 -10s4.9 5 8 4s1.4 -6.1 4 -8s9 -2.8 12 -4s5 -2.8 8 -4s9.4 -4 12 -4s3.5 4.6 6 4s9.3 -6.7 12 -8s6.1 0.3 8 -2s-0.4 -10.7 4 -12s5.8 6.8 10 8s7.7 -1.4 12 -2s11.7 -1.4 16 -2s7.9 -0.4 12 -2s9.5 -10.7 14 -8s-5.5 9 -4 14s11.7 11.8 12 12s0.8 -0.3 1 0s0.7 5.4 3 6s15.7 -1.6 20 0s5.6 7.9 8 10s6.8 2 8 4s0.3 5.7 -2 6s-8.9 -3 -14 -4s-12 -3 -16 -2s-4.4 6.2 -8 8s-8 0.2 -12 2s-7.9 7.2 -10 8s-5.2 -4.1 -6 -2s2.3 8.8 2 12s-0.8 7.6 -4 8s-27.9 -2.1 -32 -3s-6 -4.7 -10 -6s-9 -1 -14 -2s-10.7 -4.9 -16 -4s-6.8 7.5 -12 9s-25.9 2.1 -30 3s-6.9 3.8 -10 6s-5.4 5.5 -8 7s-6.7 -0.7 -8 2s-1.1 10.2 -1 16s0.8 19.1 2 24s2.5 9.8 7 12s10.3 -2 14 -2s8.3 -0.8 10 2s-4 4.8 -4 8s4.4 6.1 4 10s-5.2 5.9 -6 10s0 20 0 20 M1512 332c1.1 -4.4 9.4 -0.5 12 -4s-2.1 -8.7 0 -12s7.3 -1.3 10 -4s4.2 -12.3 8 -14s6.2 4.3 10 6s8.4 1.2 12 4s4.3 8.3 8 12s11.9 8.2 16 12s8.1 6.7 10 12s3.6 16.6 4 26s-0.1 21.9 -2 26s-7.5 3.7 -12 4s-12.6 -5.6 -18 -2s-3.6 15.3 -6 18s-7.5 2.6 -10 0s-3.4 -10.2 -5 -16s-2.5 -14.3 -5 -20s-7.8 -10 -10 -14s-1.6 -8.2 -4 -12s-6.8 -6.1 -10 -10s-9.1 -7.6 -8 -12z M1283 198c2.7 -1 18.8 -0.6 21 0s2.7 3.8 2 6s-3.3 4.5 -6 6s-6.5 3.8 -10 3s-5.8 -4.4 -7 -7s-2.7 -7 0 -8z M1266 477c1.1 -4.9 12.1 -1.2 14 -2s0.9 -4.7 3 -5s3 2.9 5 4s4.6 0.2 6 2s2.8 5.5 2 8s-3.7 2.8 -6 4s-5.2 3.9 -8 3s-1.8 -5.1 -4 -7s-13.1 -2.1 -12 -7z M1260 504c1.9 -2.8 9 -3.6 14 -5s10.3 -2.8 14 -3s7.3 0.6 10 2s6 2.9 6 6s-3.6 5.9 -6 8s-5.1 2.7 -8 4s-7.1 2.7 -10 4s-6.3 1.3 -8 4s-0.9 10 -2 12s-5.6 4.2 -6 2s4.8 -8.5 4 -12s-7.3 -2.7 -8 -6s5 -4.6 5 -8s-6.9 -5.2 -5 -8z M1300 494c1.6 -0.9 4.4 -0.2 6 1s2.8 3.2 2 5s-3.2 2.2 -5 2s-3.4 -1.3 -4 -3s-0.6 -4.1 1 -5z M1186 398c0 -4.6 5.7 -10.4 10 -12s9.7 1.3 12 4s1.6 7.5 0 10s-8 -1 -8 2s10.9 5.1 8 8s-8 -1.8 -12 -4s-10 -3.4 -10 -8z M338 685c2.8 0.3 12.4 4.9 14 7s-6.6 5.8 -4 6s11 -4.3 16 -5s10.7 -1 14 1s2 6.7 4 10s8.3 8 9 12s-7.2 6.7 -5 10s7.9 -3.5 11 -1s1.8 8.5 1 11s-4.5 1.9 -6 4s-1.8 6.9 -4 10s-4.7 5.5 -8 7s-8.7 -2.4 -10 1s2.7 9 4 14s2.8 10.3 3 14s-2.4 6.4 -2 10s4.8 11.4 5 16s-3.1 7.5 -4 12s0.9 9.5 -1 14s-8.3 7.3 -9 10s7 4 5 6s-10.2 2.4 -13 2s-3.2 -5.6 -6 -5s-1.5 5.6 -4 7s-8 0.3 -12 2s-7.9 6 -12 8s-8.8 2.4 -12 4s-5 4 -8 6s-12 8.1 -16 10s-8.2 3 -12 3s-8.5 -0.2 -10 -3s3.6 -5.1 4 -8s-1.1 -5.2 -2 -8s-2.6 -7.5 -4 -10s-4.7 -3.2 -5 -6s3.2 -8.8 3 -12s-4.9 -4.9 -4 -8s5.5 -3.5 8 -6s7.9 -8.7 10 -12s1.9 -7.3 4 -10s7.1 -3.7 8 -5s-0.4 -3.7 -2 -4s-12.2 0.6 -16 0s-6.4 -2.6 -10 -4s-8.2 -1.8 -10 -4s-1.9 -5.9 0 -8s8.3 -0.6 10 -3s-3.5 -5.4 -2 -8s9.3 -3.1 10 -6s-5.3 -0.7 -8 -2s-6.6 -2.7 -8 -6s-0.5 -7 1 -10s3.7 -5.3 7 -6s15.5 0.2 18 1s1.4 6 4 6s3 -5.3 6 -6s7.6 3 10 2s0.2 -5.1 2 -7s11.5 -2.1 10 -6s-14.9 -4.9 -16 -10s10.4 -5.5 12 -8s-3 -5.2 -2 -8s4.6 -5.8 8 -8s9.1 -3.9 12 -5s5.6 -1.6 8 -3s3.2 -5.3 6 -5z M241 856c0.8 -1.3 3.7 -5.6 7 -6s7.1 1.8 10 4s4.3 4.9 6 8s3.1 7.2 4 10s2.4 5.1 2 8s-0.9 7.2 -4 8s-10.4 -1.4 -12 -4s7.4 -3.3 6 -6s-7.7 -0.9 -10 -2s-5.5 -2.5 -5 -5s7.8 -2 7 -5s-8.9 -5 -10 -6s-1.8 -2.7 -1 -4z M356 560c0 0 1.4 7.1 4 10s7.7 3.7 10 6s1.4 6.1 4 8s6.9 0.1 10 2s5.6 4.4 6 8s-3.1 6.2 -4 10s-2.3 10.1 -2 14s1.8 8.7 4 10s3.6 -4.5 6 -4s1.4 4.2 3 6s4.3 3.7 7 5s5.7 1.2 8 2s5.6 0.6 6 3s-1.4 25.4 -1 28s4.6 1.8 6 4s2.8 5.1 2 8s-4.7 6.5 -7 10s-4.4 7.7 -6 10s-4.7 3.2 -5 6s1.4 6.8 3 10s2.6 9.1 6 8s-3.1 -8.1 0 -10s6.5 4.9 10 4s2.5 -8.8 6 -8s-0.5 8.5 3 10s7.1 -2.4 11 -4s11.2 -5 14 -6s8.6 -4.9 8 -2s-8 7.3 -10 12s-2.1 9.1 -1 14s5 8.7 7 12s2.2 8.4 6 9s8.4 -7.8 12 -6s-0.8 7.8 -2 11s-4.6 4.9 -5 8s3.2 4.9 3 8s-5.2 6.3 -4 10s9.4 5 10 8s-4.9 3 -8 3s-4.9 -3.1 -8 -3s-11.7 3.1 -16 4s-9 3.1 -12 2s-1.6 -6.4 -4 -8s-5.8 -1.9 -8 0s-2.1 5.3 -1 8s6.3 2.9 7 6s-2.1 5.4 -4 8s-8 5 -8 8s5.1 -1.3 8 -2s6.2 -3.7 9 -2s3.5 6.2 4 10s0.3 8 -1 12s-4.2 7.6 -6 10s-3.7 4 -6 6s-6 5.8 -10 8s-10.1 0.6 -12 4s1.9 7.6 4 10s4.9 3.2 8 4s12.2 1.1 16 2s6.4 2.5 10 4s8.6 5.3 14 6s10.7 0.5 16 -2s9.3 -16.7 14 -12s-8.4 13.2 -10 16s-1.2 6.3 -4 8s-10.1 3.7 -16 4s-14.7 -3.8 -20 -2s-9.3 11.2 -10 12s-2 2 -2 2 M516 560c0 0 -1.5 10.6 -4 16s-8.4 10.7 -10 14s-0.5 6.7 -2 10s-5.3 8.3 -8 12s-4.9 7.6 -8 10s-11.4 0.4 -10 4s12.4 4.4 14 6s-0.1 4.7 -2 6s-10.4 4.4 -16 6s-16 -2.9 -16 3s10.6 5 16 5s8.7 -5.4 14 -5s12.5 4.8 16 7s5.1 5.1 8 8s9.7 6.4 12 12s0.7 16 2 22s3.7 11.4 6 16s4 8.7 8 12s11.7 4.1 16 8s8 14 8 14 M366 658c1.3 -2.2 6.4 -5.5 10 -4s4.4 6.4 4 10s-2.8 8 -6 8s-2.7 -5.7 -4 -8s-5.3 -3.8 -4 -6z M402 668c1.6 -1.6 4.6 -3.8 6 -2s2.6 9.7 2 12s-3.8 3.9 -6 3s-3.7 -4.7 -4 -7s0.4 -4.4 2 -6z M392 644c0.5 -2.3 4.7 -6.3 5 -4s-1.5 16.1 -2 24s-0.4 19.8 -1 22s-5.6 4.2 -6 2s2.3 -12.7 3 -20s0.5 -21.7 1 -24z M421 755c0.3 -1.1 5.6 -13.2 7 -15s5 -4 6 -2s-0.2 6.8 -2 10s-7 7.4 -8 8s-3.3 0.1 -3 -1z M338 566c0.5 -1.9 4.6 0.1 5 2s-0.6 16.6 -1 18s-3.7 0.5 -4 -1s-0.5 -17.1 0 -19z M372 612c1.3 -3 7.3 -9.2 10 -6s3.7 15.1 2 20s-7.8 11.1 -12 8s4 -10.8 4 -14s-5.3 -5 -4 -8z M560 746c0 0 7.2 4.9 8 8s-4.8 4.9 -4 8s10.5 15.4 11 18s-7.6 -0.5 -7 2s7.6 6.2 10 10s5 7.6 4 12s-10 9.8 -10 14s6.5 6.7 10 6s0.6 -7.9 4 -9s14.6 -0.1 20 1s10.4 2.8 14 6s5.3 7.2 6 12s-1 11.5 -2 16s-1.4 9.1 -4 12s-7.9 1.9 -10 4s0.1 5.9 -2 8s-8.2 0.8 -10 4s4.4 7.2 2 10s-13.1 -1.1 -14 4s7.2 6 12 8s13.3 0.4 16 4s-0.6 9 -4 12s-14 4 -14 4 M920 740c0 0 -5.1 2.5 -8 2s-11.7 -4.5 -16 -6s-10 0.1 -12 -4s2.9 -12.9 2 -16s-5.9 -1.6 -8 -4s-6 -9.4 -6 -12s5.7 -1.4 6 -4s-4.4 -8.4 -4 -12s5.6 -5.4 6 -8s-5.6 -4 -4 -6s10.4 -2 12 -4s-5 -3.6 -4 -6s5.9 -1.6 8 -4s3.1 -7.2 4 -10s-0.4 -6.3 2 -8s8.5 0.7 12 -2s6.4 -8.8 6 -12s-5.1 -2.7 -8 -4s-8.4 -0.5 -10 -4s-2.7 -15.2 -2 -22s4.7 -11.3 6 -18s9.4 -21.3 3 -27s-16.9 7.8 -21 11s-5.3 8.3 -8 12s-3.8 8.2 -8 10s-17.6 0.9 -24 4s-10.8 7.6 -14 14s-2.7 12.7 -3 20s1 15.4 1 24s-1.3 25.2 -1 28s2.5 4.7 5 6s8 -1.1 10 2s2.3 12.8 2 16s-2.1 5.4 -4 8s-10.4 4.7 -8 8s10.5 -0.9 14 0s6.8 2.6 8 6s1.7 12.5 0 16s-8.5 2.5 -10 4s-1.3 4.3 0 6s6.9 1 8 4s-2.6 9.5 -2 12s8 2.3 6 4s-14 3 -14 3 M878 680c1.9 -3.4 9.2 -7.6 14 -8s8.4 3.1 12 6s6.8 5.8 8 10s0.3 8.9 -2 12s-6.1 4.4 -10 4s-9.2 -3.8 -12 -6s-4.3 -4.9 -6 -8s-5.9 -6.6 -4 -10z M848 596c3.6 -3.2 8.2 -9 12 -6s0.2 10 -2 14s-7 5.3 -10 8s-4 7.6 -8 8s-10 -1.8 -10 -6s7 -3 10 -6s4.4 -8.8 8 -12z M828 646c0.4 -1.9 3.7 -3.5 5 -2s2.5 7.2 2 10s-3.1 8.1 -5 6s-2.4 -12.1 -2 -14z M741 800c1.8 -3.1 6.6 -5.4 11 -7s10.7 -5.6 14 -2s-2.2 8.5 -4 13s-4.1 9.3 -6 12s-3.7 5.6 -7 6s-7.5 -1.4 -9 -4s1.8 -5 2 -8s-2.8 -6.9 -1 -10z M720 816c1.6 -0.3 6.9 0.1 10 2s4 5.7 6 8s6 3.4 6 6s-3.4 4 -6 4s-3.5 -3.3 -6 -4s-9.2 1.8 -12 -1s-0.2 -9.4 0 -11s0.4 -3.7 2 -4z M720 810c0.3 -1.3 2.2 -6.4 4 -7s2.4 3.1 2 5s-2.8 4.6 -4 5s-2.3 -1.7 -2 -3z M718 831c0 0 -0.8 5.9 -2 9s-4 8.3 -6 12s-4.3 8 -6 10s-4.9 2.1 -6 4s1.2 4.2 0 6s-7.2 5.4 -8 6s-2.8 1.4 -2 2s12.7 1.3 10 4s-15.6 1.9 -18 4s1.1 6.6 4 8s13.8 1.6 16 2s8.3 2 6 2s-24.3 -2 -28 -2s-6.6 0.6 -10 2s-9.1 5.5 -14 8s-9.1 4.2 -14 6s-11.8 3.3 -14 4s-6 2 -6 2 M742 832c0 0 10.9 -0.4 13 1s0.4 4.9 -1 7s-5.2 9.1 -10 10s-7.5 -4.3 -12 -6s-14 -4 -14 -4 M766 791c0 0 14.8 -3.1 18 -3s8 4 8 4 M826 782c0 0 5 -4 6 -2s-3.3 7.3 -2 10s5.9 4.1 8 2s1.3 -7.7 2 -12s2 -13 2 -13 M1096 560c0 0 -1 5.2 -2 8s-3.7 4.8 -4 8s2.6 8.9 2 14s-5.1 19.6 -6 22s-3.1 3.6 -4 6s-2.1 11.8 -4 16s-5.4 9.1 -8 10s-3.3 -4.2 -6 -5s-5.1 0.6 -8 1s-9.1 1.9 -12 2s-5.6 -2 -8 -1s-2.2 4.4 -4 6s-4.2 1.4 -6 3s-5.7 5.4 -7 8s-1.7 5.2 -1 8s4.5 6.6 5 8s0.3 3.3 -1 4s-6.4 1.3 -10 2s-8.9 1.1 -12 2s-4.8 3.6 -8 4s-7.4 -0.1 -10 -2s-4 -5.4 -4 -8s4 -3.4 4 -6s-2.7 -5.1 -4 -8s-3.7 -9 -6 -14s-7.5 -10.7 -7 -14s6.8 4.5 9 2s-2.7 -6.4 -2 -10s6.9 -7.5 6 -12s-6.9 -4.6 -10 -8s-5.6 -7.8 -8 -12s-4.2 -7.8 -6 -12s-2.7 -8.4 -4 -12s-2.7 -7.1 -4 -10s-3 -5.2 -4 -8s-2 -8 -2 -8 M1108 572c1.6 0 2.3 2.4 2 4s-3.5 12.9 -6 20s-5.9 13 -8 20s-3.5 18.6 -4 20s-3.9 2.5 -4 1s0.6 -13.6 2 -21s3.5 -12.9 6 -20s7.1 -18.2 8 -20s2.4 -4 4 -4z M1142 556c1.8 -4.3 7 -5.3 10 -8s4.4 -6 8 -8s11 -5.2 14 -4s-2.6 5.1 -4 8s-6.9 11.8 -8 16s1.7 8 1 12s-2.8 7.6 -5 10s-6.1 1.4 -8 4s-1 8.5 -2 10s-4.6 2.8 -5 1s3.2 -6.9 3 -11s-3.3 -8.8 -4 -14s-1.8 -11.7 0 -16z M1035 689c4.2 -0.9 11.5 6.8 13 9s0.6 6.5 -2 7s-9.5 -0.4 -12 -4s-3.2 -11.1 1 -12z M919 666c1.9 -5 7.8 -7.8 11 -10s6.9 -2.3 10 -4s4.8 -4.4 8 -6s6.9 -3 10 -3s6.4 0.3 8 3s2.3 10.8 2 14s-2.2 5.3 -4 8s-7.8 5.6 -8 10s6.6 6.6 7 10s-2.6 6.2 -5 8s-6.8 -0.3 -8 2s1.7 4.8 4 6s11 -2.1 12 2s-7.2 2.9 -10 6s-4.7 12.6 -8 14s-3.3 -5.6 -6 -8s-6.4 -6 -10 -6s-5.4 5.6 -8 6s-5.7 -1.4 -6 -4s4 -9.4 4 -14s-3.6 -7.5 -4 -12s-0.9 -17 1 -22z M939 654c1.4 -3.8 8.2 -4.8 11 -2s1.9 11.5 1 14s-5.1 3.9 -7 2s-6.4 -10.2 -5 -14z M920 748c0 0 -0.8 12.7 2 16s9 2.1 12 0s-0.4 -7.2 2 -10s6.5 -2.4 10 -4s9.2 -3.8 12 -6s2.6 -6.8 6 -8s11.3 0.2 14 1s3.3 5.8 6 5s3.7 -5.7 4 -8s-2.8 -3.9 -2 -6s3.2 -5 6 -5s6.3 2.1 8 5s3.2 8.1 2 12s-8.6 4.2 -8 8s6.8 1.8 10 4s4.4 6.2 8 8s7.6 2.4 12 2s7.7 -2.6 12 -4s16.8 -5.7 24 -8s16.8 -4.3 20 -6s4 -5.7 6 -8s3.4 -4.4 6 -6s10 -5.7 16 -8s13.6 -4.7 20 -6s13.2 -2.6 18 -2s9.5 4.3 12 6s8.2 3.8 6 6s-7.4 -4.6 -10 -2s-0.2 7.1 2 10s6 4.7 10 6s7.8 2.1 12 1s8.2 -3.7 12 -7s7.7 -8.1 10 -12s1.3 -9.7 4 -12s6.6 1 10 0s7.2 -2.9 10 -6s8 -11.9 10 -16s3.9 -7.4 4 -12s-2.5 -23 -3 -36s-1 -32.7 0 -38s6.9 -7 9 -12s2.1 -13.2 4 -18s8 -12 8 -12 M1008 760c2.7 -1.1 6.4 2.5 10 4s10.3 3.1 12 5s1.2 5.7 -1 7s-6 0.2 -9 -1s-10.2 -4.8 -12 -7s-2.7 -6.9 0 -8z M1178 743c1.1 -2.7 6.8 -2.5 10 -5s8.6 -9.9 12 -12s11 -6 11 -2s-7.4 3.3 -11 6s-11.5 11.5 -14 13s-9.1 2.7 -8 0z M1238.4 678c3.4 -2.9 3.3 7.5 3.6 12s0.6 12.4 -2 16s-10 7 -12 3s5.3 -8 7 -13s0 -15.1 3.4 -18z M1235 602c0 0 3.8 -2 5 -4s4.6 -9.1 6 -14s0.2 -9.7 2 -14s4.4 -7.1 8 -10s9.6 -6.2 14 -8s9.2 -4.8 13 -3s1.6 7.6 4 11s7.9 5.6 11 10s4 9.9 6 14s3.2 8.7 6 11s6.6 2.6 10 2s5.5 -2.7 8 -5s8 -6.7 10 -12s1.8 -16.4 2 -20s0 -10 0 -10 M428 920c0 0 -3.6 7.3 -6 10s-5.8 3.1 -8 6s-1.6 6.9 -4 10s-7 6.1 -10 8s-7.8 2.6 -9 4s-0.8 4.6 1 5s5 -3.6 8 -3s3.1 7 6 6s3 -7 6 -10s6.1 -4.4 10 -6s8.8 -4.7 14 -4s10.7 9.4 16 8s5.2 -11.9 6 -14s0.3 -4.5 2 -6s6.2 -3.2 10 -4s9.7 -2.1 14 -1s5.6 6.5 10 7s9 -2.3 14 -4s10.4 -4.4 16 -6s10.1 -2.7 16 -3s20 1 20 1 M509 979c0 0 3.4 7 5 11s4.7 11.1 6 16s1.1 10.6 2 14s6.4 6.4 4 9s-12.1 1.4 -14 2s-2 4.1 -4 4s-12.9 -5.1 -16 -5s-3.2 7.2 -6 6s-5.7 -9.5 -8 -12s-4.6 -4.6 -8 -5s-6.6 1.3 -10 3s-5.7 6 -10 7s-7.6 -2.2 -12 -2s-9.3 1.6 -12 3s-4.9 3.4 -6 6s-1.6 5.6 0 8s4.9 3.3 8 4s8.2 -1.4 10 0s-0.1 4.7 -2 6s-10.4 1.5 -12 4s6 -0.2 8 2s-1 7.5 2 9s6.3 -3.3 10 -3s9.5 2.9 14 5s8.6 5.6 12 7s8.2 1.9 10 2s3.9 -0.7 5 -1s2 -1.6 3 -1s5.2 3.1 6 6s-3.9 5.7 -2 8s9.1 1.4 12 4s4 6.8 4 10s-4.8 4.9 -4 8s5.5 4.8 8 8s2.8 7.3 6 10s11.7 5.2 14 7s4.7 4.2 4 7s-7.2 4.9 -8 8s2.9 5 4 8s3.7 9.6 4 14s-1.6 7.6 -2 12s-0.3 14.1 -1 22s-1.8 14.8 -3 22s-2.7 14.2 -4 20s-3.6 14.8 -4 16s-0.8 2.6 -2 3s-10.1 3.3 -16 3s-16.3 -4.6 -20 -5s-6.4 2.6 -10 2s-9.9 -5.6 -16 -6s-11.4 3.8 -18 4s-12.8 -1.9 -20 -3s-15.5 -1.9 -20 -3s-9.1 -4.6 -12 -5s-5 1.8 -8 2s-26.4 1 -30 1s-6.6 0.2 -10 -1s-9.3 -6 -12 -7s-5.3 -1 -8 0s-7.1 3.9 -10 7s-2.6 7.6 -6 10s-10.1 2.4 -14 4s-10 6 -10 6 M509 979c0 0 7.4 0.8 11 1s7.3 -2.3 10 0s0.6 9 4 12s9.7 3.2 14 4s12 1 12 1 M560 999c0 0 7.7 -3.4 12 -5s10.8 -0.5 12 -4s-8.1 0.3 -10 -2s0.1 -5.7 2 -8s6.1 -4.3 10 -6s13.6 -3.5 18 -6s7.3 -5.7 10 -10s4.2 -8.7 5 -14s1 -24 1 -24 M1600 1124c0 0 -4.9 3.1 -8 4s-7.7 2.6 -12 2s-11.8 -5.1 -16 -6s-7.9 -1.4 -12 0s-8.5 4.2 -12 8s-4.4 9.7 -8 14s-7.8 6.9 -12 10s-9.3 3.7 -12 8s-2 10.3 -2 14s3.1 6.5 2 10s-4 7.8 -8 10s-10.8 0.4 -14 2s-5.2 4.5 -6 8s2.7 6.4 2 10s-4.4 6.1 -6 10s-2.4 7.6 -3 12s0.6 11.1 -1 16s-5.6 7.8 -8 12s-6 12 -6 12 M1576 1132c2 -2.5 7.7 -1.3 12 -2s10.9 -6 14 -2s1.8 16.8 0 20s-6.5 -0.7 -10 -2s-9.6 -3.9 -12 -6s-6 -5.5 -4 -8z M1334 1170c1.1 -2 4.2 -3.4 6 -2s3.2 5.8 2 8s-5 2.5 -7 1s-2.1 -5 -1 -7z M522 1268c0 0 -6.4 1.2 -10 2s-7.6 3.5 -12 3s-12.4 -5.4 -16 -6s-6.4 2.4 -10 2s-10 -4.8 -16 -5s-11.4 3.7 -18 4s-14.2 -1.2 -20 -2s-11.7 -2.2 -16 -3s-9.7 -1.4 -12 -2s-3.7 -2.8 -6 -3s-3.7 1.8 -6 2s-26.4 1 -30 1s-6.6 0.3 -10 -1s-6.6 -5.8 -10 -7s-6.6 -1.2 -10 0s-7.2 4.2 -10 7s-2.7 6.9 -6 9s-10 2.2 -14 4s-8.1 4.7 -10 7s-2.9 5.2 -2 8s6.6 7.4 8 10s0.5 5.4 2 8s5.6 3 6 6s-3.7 6.1 -4 10s0.9 11.6 2 18s3.1 13 4 18s2.3 8.9 2 14s-2.6 11.5 -4 18s-2.2 11.6 -4 18s-4.8 15 -6 18s-2.6 5.1 -4 8s-4.6 7.4 -6 12s-4 14.8 -3 18s6.7 -0.3 9 2s-0.9 7.4 2 9s9.8 -4.8 12 -1s-1 12.8 -1 20s1.7 19.2 1 24s-9.4 8.6 -6 12s10.2 -2.4 16 -2s11.2 4.3 16 4s7.8 -4.8 12 -6s7.8 -2 12 -1s9.7 4.8 14 7s10.1 2.9 12 6s-3.3 6.6 -2 10s6.3 3.6 8 6s0.2 5.6 2 8s6.7 6.7 10 8s7 2 10 0s5.1 -9.2 8 -12s6.5 -3.6 10 -5s6.6 -1.5 10 -3s5.9 -5 10 -6s16.8 -2 24 -2s12.8 2 20 2s14.4 0.4 20 -2s8.1 -7.3 12 -12s5.1 -10.2 10 -14s13.6 -4.3 18 -8s6.1 -9.9 8 -14s2 -7.9 4 -12s8 -12 8 -12 M378 1600c0 0 2.3 -10 6 -14s13.8 -9.5 16 -10s0.7 4.1 2 6s14 18 14 18 M782 1269c0 0 0.2 5.6 -2 7s-7.8 0.8 -12 2s-9.7 5 -12 5s-1.9 -4.1 -4 -5s-9.3 -0.3 -12 -2s-2 -6.8 -4 -8s-3.7 1.9 -6 2s-7.5 -0.2 -10 -1s-3.5 -3.4 -6 -4s-9.3 -1.9 -14 -1s-7.7 3.8 -12 6s-8.7 3.7 -12 6s-6 4.4 -8 8s-3.4 7.6 -3 12s3.7 9.1 5 12s4.2 5.2 4 8s-4.5 3.2 -5 6s3 6.8 2 10s-4.2 4.2 -7 6s-10.2 5.4 -14 8s-8.3 6.4 -10 8s-1.9 4.1 -4 5s-10.3 2.5 -16 4s-14 2.7 -18 5s-7.4 8 -8 10s4.9 2.2 4 4s-6.9 4.6 -10 8s-4.9 7.8 -8 12s-6.8 7.4 -10 12s-6.4 9.9 -8 14s-2 8.3 -2 12s0.6 6.6 2 10s3.4 7.8 6 10s9 -0.4 9 3s-6.3 5.3 -9 7s-8 4 -8 4 M646 1428c-0.7 -3.6 4.5 -5.9 8 -8s9 -4.3 12 -4s3.4 4.5 6 6s6.5 -0.5 8 2s-0.4 5.5 -2 8s-4.5 6.8 -8 8s-7.4 -0.1 -10 -2s-1.4 -6.1 -4 -8s-9.3 1.6 -10 -2z M691 1410c1.3 -0.7 6.3 -1.7 9 -1s5 3.1 6 5s2.1 5.5 0 6s-5.6 -3 -8 -4s-5.9 -1.1 -7 -2s-1.3 -3.3 0 -4z M609 1456c0.2 -1.8 2.8 -4.7 5 -6s5.3 -2.4 7 -1s0.4 4.3 -1 6s-5.2 3.8 -7 4s-4.2 -1.2 -4 -3z M842 1310c1 -4 4.8 -5.8 8 -8s8.2 -3.3 10 -4s4.1 -0.3 5 -2s0.5 -9 1 -10s2.7 -0.1 3 1s0.5 9.6 1 15s2.2 10.2 2 16s-1.7 11.5 -3 16s-3.7 9.1 -5 12s-0.8 7.5 -4 8s-7.8 -3.1 -10 -6s-1 -6.5 -2 -10s-3 -7.5 -4 -12s-3 -12 -2 -16z M828 1375c3 -2.5 7.9 2.3 12 1s6.2 -5.4 10 -8s8 -6.6 12 -7s7.6 1.8 10 5s1.6 7.8 3 12s4.8 7.3 5 12s-3.7 10.9 -4 16s2.3 8.9 2 14s-3.1 14.4 -4 18s0.6 9 -3 10s-7.4 -6.4 -11 -6s-4.4 5.6 -6 8s-1.4 5.7 -4 7s-5.2 -0.1 -8 -1s-7.3 -0.9 -8 -4s3.5 -8.8 4 -14s-1 -11.5 -1 -18s1.5 -13.5 1 -18s-2.6 -9.8 -4 -12s-5 -1.6 -6 -4s-3 -8.5 0 -11z M890 1295c0.7 -2.9 7.6 -2.4 9 -2s0.4 3.7 -1 4s-8.7 0.9 -8 -2z M560 1588c0 0 7.1 -4.4 10 -8s2.6 -8.6 6 -12s7.7 -3.8 12 -6s7.5 -4.3 12 -6s12.7 -4.3 20 -6s18.2 -2.8 24 -4s11.6 -2.7 16 -4s7.5 -3.2 12 -4s10.2 -1 16 -1s10.2 0.8 16 1s11.3 -1 16 0s7.5 5.6 12 6s7.6 -2.7 12 -4s9.1 -2.1 14 -4s8.7 -6.6 14 -7s8.8 4.8 14 5s8.8 -4.7 14 -4s9 6.9 14 8s9.7 -1.3 14 -2s7.8 -0.7 12 -2s9 -3.7 14 -6s9.9 -5.7 14 -7s8.2 -1.5 12 -1s7.4 1.1 10 4s2 11.8 6 14s7.7 -2.6 12 -4s12 -4 12 -4 M920 1530c0 0 2.4 5 2.4 8s0.1 7.2 -2.4 10s-8.4 2.8 -12 6s-7.3 6.9 -8 12s0.5 11.4 4 16s11.6 5.3 14 8s2 10 2 10 M973.3 1144c0 0 -0.1 5.3 -1.3 8s-2.9 4.8 -5.3 6.7s-8.8 5.7 -13.4 8s-8.6 3.9 -13.3 5.3s-8.5 2 -13.3 2.7s-10.3 0.5 -13.4 1.3s-7.4 0.8 -8 4s3.2 8.1 5.4 10.7s5.2 3.7 8 5.3s5.4 2.1 8 4s3.5 5.3 6.6 6.7s9.6 2.2 13.4 2.6s7.8 -2.5 10.6 0s1.4 10.7 1.4 10.7 M806 1252c0 0 9.2 -4.8 14 -8s11.3 -9.2 16 -12s8.6 -5.3 14 -6s10.6 -0.2 16 2s9.5 6.6 14 10s7 7.5 12 10s11.4 4 16 4s12 -4 12 -4 M920 1248c0 0 -22.2 -0.2 -26 2s0.6 8.1 2 12s4.3 6.2 6 10s2.3 8.2 4 12s3.5 6.8 6 10s6.1 5.4 8 8s1.6 5.9 4 8s8.9 3.2 12 6s3 7 6 10s8.6 4.9 12 8s4.9 6.6 8 10s6.1 7.2 10 10s7.3 5 12 6s12.1 -1.3 16 0s5.3 5 8 8s4.9 7.6 8 10s8.9 2.9 10 4s-3.4 3.2 -2 4s8.2 -0.3 12 2s7.2 7.9 8 10s-3.5 4.3 -2 6s10.8 7.4 14 8s5.2 -5.6 8 -4s4.2 7.8 6 12s2.7 8.4 4 12s3.6 6.3 4 10s-2.4 6.8 -2 10s4.9 4.9 4 8s-6.7 2.6 -8 6s3.5 6.6 2 10s-8.3 4.9 -10 8s-2.5 7.5 0 10s8.2 3.7 12 2s5.7 -7.4 6 -10s-5.4 -3.8 -4 -6s9 -2.2 12 -6s0.1 -10.5 4 -14s12.2 0.6 16 -4s3.9 -12.7 2 -18s-9.4 -8.2 -12 -10s-7 -0.9 -8 -4s0.2 -9.2 2 -14s7.4 -15.4 10 -18s7 -3.3 10 -2s1.2 6.4 4 8s10.8 0.4 14 2s4.7 5.3 6 8s0 5.8 2 8s6.2 6.2 9 4s4.2 -10 4 -14s-2.4 -6.9 -5 -10s-6.1 -5.5 -10 -8s-11.7 -6 -18 -10s-16.6 -11.8 -20 -14s-6.3 -3.3 -10 -5s-14.2 -5.7 -16 -7s-2.9 -3.9 -2 -6s7.1 -5.9 8 -8s0.1 -5.2 -2 -6s-9 0.3 -14 0s-10.5 -0.2 -16 -2s-10.4 -5.9 -14 -8s-7.2 -2.9 -10 -6s-7.4 -11.2 -10 -16s-4.2 -8.8 -6 -14s-4.7 -17.2 -6 -20s-3.6 -4.2 -6 -6s-6.8 -3.5 -10 -6s-5.1 -5.1 -8 -8s-12 -12 -12 -12 M963 1496c1.1 -2.7 3.7 -5.6 7 -7s8.9 -2.5 14 -2s11 4 16 5s9 1.3 14 1s12.1 -1.6 18 -3s11 -3.7 16 -5s10.8 -5.2 14 -3s-2 6.7 -4 10s-5.8 7.2 -8 10s-5.7 4.4 -6 8s2.6 10.2 4 14s5.4 6 5 10s-3.8 10.1 -7 12s-6.6 -0.6 -10 -2s-6.5 -3.7 -10 -6s-7.6 -5.3 -12 -8s-9.1 -4.9 -14 -8s-8.6 -7.8 -14 -10s-13.1 -1 -16 -2s-4.7 -3.4 -6 -6s-2.1 -5.3 -1 -8z M1064 1250c0 0 10.1 6.7 16 10s12.8 6.4 20 10s15.2 7 20 10s8.4 7.1 12 10s6.4 5.1 10 8s7.7 6.4 12 10s7.7 6.4 12 10s9 7.3 12 10s6.2 4.8 8 8s2.3 6.3 2 10s-3.6 7.6 -4 12s2.4 7.6 2 12s-2.9 7.8 -4 12s-3.2 8.1 -2 12s5.3 5.6 8 8s5.6 3.3 8 6s6.1 8.6 8 12s2.3 6.5 4 10s3.4 6.7 6 10s8.4 7.5 10 10s0.7 5.3 2 8s4.1 4.9 6 8s2.5 9.3 6 12s8.3 2 12 2s6.3 -2 10 -2s9 2 12 2s8 -2 8 -2 M1186 1358c2.3 -2.3 4 6 4 8s-3.1 5.8 -4 4s-2.3 -9.7 0 -12z M1090 1269c1.2 -0.3 8.9 0.6 10 1s2.1 2.7 1 3s-8.8 -0.2 -10 -0.6s-2.2 -3.1 -1 -3.4z M1096 1286c0.9 -0.1 11.2 0.8 12 1s1.8 1.9 1 2s-11.1 -0.4 -12 -0.6s-1.9 -2.3 -1 -2.4z M1118 1295c0.7 0 10.3 1.7 11 2s-0.2 2 -1 2s-9.3 -1.7 -10 -2s-0.7 -2 0 -2z M1076 1283c0.7 -0.7 4 -1.4 5 -1s0.8 2.3 0 3s-3.1 1 -4 0.6s-1.7 -1.9 -1 -2.6z M1190 1422c-0.2 -2.9 5.9 -3.1 8 -1s5.9 13.2 6 15s-3.7 0.3 -5 -1s-8.8 -10.1 -9 -13z M1221 1499c-0.3 -1.6 2.5 -2.7 4 -2s6.6 5.1 7 7s-3.2 2.8 -5 2s-5.7 -5.4 -6 -7z M1219 1460c0.9 -1.6 4.3 -2.7 5 -1s-0.1 8.4 -1 10s-4.3 2.7 -5 1s0.1 -8.4 1 -10z M1212 1484c-0.5 -3.2 2.6 -9.2 6 -8s7.6 10.8 8 13s-3.9 -0.3 -6 -1s-7.5 -0.8 -8 -4z M1238 1496c0 0 6.3 -4 10 -6s7.5 -5.6 12 -6s9.4 0.3 12 4s4.7 11.5 2 16s-9.7 3 -14 4s-10.1 -1.8 -12 2s5.4 7.1 6 10s-3 5.2 -2 8s4.4 7.6 8 8s4.8 -7.6 8 -6s6.1 9.9 8 14s4 12 4 12 M1472 1250c0 0 0.8 10 -2 14s-8.4 2.8 -12 6s-6.6 7 -8 12s2.4 10.9 0 16s-10.9 6.6 -12 10s4.1 5 6 8s6.1 9.9 8 14s1.6 8.2 4 12s5.9 6.9 10 10s11.3 6.8 14 8s6.9 -0.8 8 2s-1.1 6.6 -4 8s-7.7 0.4 -12 0s-7.6 -2 -12 -2s-18.4 1.6 -20 2s-1 2.7 -2 4s-5.7 8.4 -10 12s-11.2 6.2 -16 10s-6.8 13.7 -12 12s3.3 -10.3 6 -14s10 -4.1 10 -8s-6.1 4 -10 4s-9.4 -2.1 -12 -4s-1.3 -6.2 -4 -8s-8.9 -2.6 -14 -4s-11.2 -4.3 -16 -4s-10 5.7 -12 6s-2 -4 -4 -4s-3.7 2.7 -6 4s-9.2 5.2 -12 6s-7.1 -2.7 -8 0s4 10 4 12s-2.6 2.8 -4 4s-2.4 2.1 -4 3s-5.7 0.6 -7 3s3.5 6.6 1 8s-6.3 -1.2 -8 -4s-3.9 -18.3 -7 -21s-6.9 3.4 -9 7s-2.8 7.9 -2 12s4.3 6.5 6 10s4 10 4 10 M1488 1362c0 0 7.7 -0.3 12 0s12.8 1.3 20 2s13.5 2 20 2s14.7 -0.6 18 -2s3.2 -5.7 6 -8s11.6 -7.2 16 -10s9.3 -6.7 12 -8s8 -2 8 -2 M1600 1570c0 0 -8.3 -2.9 -12 -6s-5.6 -8.5 -10 -12s-11.1 -7.5 -18 -10s-20 -4 -20 -4 M1422 1456c0 0 -4.6 -1.8 -6 -4s-4.4 -7.8 -4 -12s10 -8.7 6 -10s-22.4 4 -24 4s2 -2.4 2 -4s-2.4 -6.3 -2 -10s1.9 -7.6 4 -10s5.3 -2.2 8 -4s6.1 -5.5 10 -8s7.6 -6.2 12 -6s6.5 6 10 7s6.4 -0.7 10 -1s7.7 -0.7 12 -1s14.3 -0.6 18 -1s9.1 1.5 10 -2s-10.4 -3.3 -8 -6s12.3 -3.8 18 -5s16 3.8 16 -2s-10.5 -1 -16 -3s-14 -8 -14 -8 M1422 1456c0 0 -7.6 4.4 -8 8s2.7 6.7 6 8s10.2 -3.3 14 0s1.1 9 2 14s5 16.5 4 20s-7.4 -0.6 -10 2s-3.6 6.7 -2 10s9 2.5 10 6s-8.9 5.9 -6 8s16.3 2 20 2s10 -5.7 10 -2s-6.2 4.1 -10 6s-17.9 2.1 -14 6s14.2 -1.2 18 -2s6.2 -4.6 10 -4s10.2 4.5 14 8s4.3 8.3 8 12s6.9 7.3 12 8s10.9 -3.7 16 -4s10.2 5.4 14 2s2.7 -14.6 4 -18s6 -8 6 -8 M1282 1458c1.9 -1.3 14.8 -5.8 18 -6s5.4 2.2 8 4s8.1 7.7 12 10s9.1 0.7 12 4s-0.3 8.2 2 12s9.2 5.9 10 8s-3.9 2.8 -6 2s-6.3 -5.3 -10 -8s-7.5 -5.4 -12 -8s-11.5 -5.4 -16 -8s-10 -6.9 -12 -8s-7.9 -0.7 -6 -2z M1240 1478c0 0 7.7 -0.3 12 0s9.5 2.3 14 2s7.6 -5.1 12 -4s8.6 7.5 12 10s6.2 6.7 10 6s3.2 -8.4 6 -9s1.8 5.1 4 7s14.3 8.5 16 10s4.3 6 2 6s-7.8 -5 -12 -6s-9.1 -1 -12 0s-7 3.1 -6 6s13.4 3.5 10 6s-15.2 -1.1 -18 0s-3 5.2 -2 8s7.8 8.6 10 14s3.6 12.8 2 16s-3.1 -5.8 -6 -8s-7.1 -6.6 -10 -4s0.8 18 -6 18s-3.5 -13.6 -6 -18s-7.3 -8.8 -10 -10s-5.9 2.8 -8 2s-0.9 -4 -2 -6s-12 -18 -12 -18 M1292 1426c0 0 0.6 8.1 2 12s7 5.9 6 10s-7.2 4.4 -10 6s-8 4 -8 4 M1256 1528c2.8 -2.2 12.3 -1.5 14 -1s1.4 3.8 0 5s-5.9 -0.1 -8 2s-0.3 6.9 -2 8s-3.4 -2 -4 -4s-2.8 -7.8 0 -10z M1344 1382c0.9 -2.1 3.8 -4.1 6 -3s2.9 4.9 2 7s-4 3 -6 2s-2.9 -3.9 -2 -6z M1360 1413c1.8 -1.3 9.3 -3.9 12 -2s-0.6 7.6 -2 9s-3.5 -1.8 -5 -2s-3 2 -4 1s-2.8 -4.7 -1 -6z M1381 1405c1.1 -1.1 6.6 -2.3 8 -2s2 3 1 4s-5.4 2.3 -7 2s-3.1 -2.9 -2 -4z M1386 1443c1.5 -1.9 8.2 -5.4 12 -5s6.3 4.8 8 7s5.1 5.3 3 7s-10.1 1.4 -13 1s-5.3 -2.3 -7 -4s-4.5 -4.1 -3 -6z M1424 1474c1.7 -3.2 7.4 -4.6 10 -2s2.4 10.5 1 13s-6 2 -8 0s-4.7 -7.8 -3 -11z M1430 1490c1.4 -2.6 6.4 -0.5 8 2s3.7 10.8 2 14s-8.1 4.1 -10 1s-1.4 -14.4 0 -17z M1373 1393c0.8 -0.9 4.6 -2.4 6 -2s2 2.9 1 4s-3.9 0.9 -5 0.6s-2.8 -1.7 -2 -2.6z M1387 1470c1.1 -2.7 6.3 -2.4 8 0s-0.1 7.6 -1 10s-3.5 7.1 -5 5s-3.1 -12.3 -2 -15z M1400 1468c1.5 -2.5 5.9 -3.1 8 -1s3.9 7.9 2 11s-7.4 4.6 -10 2s-1.5 -9.5 0 -12z M1341 1455c0.4 -1.8 3.6 -2.2 5 -1s3.4 6.2 3 8s-3.6 2.2 -5 1s-3.4 -6.2 -3 -8z M1350 1494c-0.4 -2.2 4.5 0.3 6 2s7.5 11.5 8 14s-4.3 -2 -6 -4s-7.6 -9.8 -8 -12z M1390 1512c0.6 -0.5 8.4 -5.6 10 -6s-0.8 2.9 -2 4s-5.2 2.8 -6 3s-2.6 -0.5 -2 -1z M1410 1503c1.4 -1.4 8.4 -2.3 10 -2s3.1 2.9 2 4s-6 2.3 -8 2s-5.4 -2.6 -4 -4z M1444 1562c1.6 -2.8 11.8 -9.4 14 -10s3.1 4 2 6s-8.9 11.2 -12 12s-5.6 -5.2 -4 -8z M1362 1529c0.6 -1.9 4.4 -3.6 6 -2s-0.1 5.4 -2 6s-4.6 -2.1 -4 -4z M1371 1527c0.4 -2.6 5 -3.6 7 -2s1.4 6.3 -1 7s-6.4 -2.4 -6 -5z M1338 1544c0.6 -2.2 5.6 -2.5 7 -2s0.4 3.6 -1 4s-6.6 0.2 -6 -2z M1312 1600c0 0 0.7 -7.7 2 -10s3.4 -4 6 -4s3.8 3.6 6 4s4 -3 6 -2s0 4.9 2 6s8.9 2.3 14 3s10.2 0.7 16 1s20 1 20 1 M388 560c0 0 -2.5 -2.5 -2 -4s5.6 -4.8 6 -8s-5.4 -5.1 -4 -8s6.5 -2.3 10 -4s9.4 -2.4 10 -6s-8.4 -2.4 -8 -6s8.5 -6.6 10 -12s-2.2 -14.6 -2 -16s2.6 -0.4 4 0s8.5 3.7 10 4s2.5 -1 4 -1s10.3 1.2 14 1s6.4 -1.1 10 -2s10.1 -3.4 14 -4s8.3 -2.9 11 0s0.8 8.7 0 12s-2.6 5.8 -5 8s-5.6 1.9 -8 4s-4.9 6.6 -8 10s-8.6 8.2 -10 10s0.2 5.6 -2 6s-13.8 -4.9 -10 -4s15.7 2.5 18 6s-9 4.3 -10 6s2 4.2 4 4s13.8 -5.3 22 -6s18.2 1.9 24 2s12.8 -1.9 16 -1s4.8 5.9 6 7s4 2 4 2 M464 466c1.7 -2.4 5.3 -3.2 8 -2s4.4 6.1 6 8s5 2.9 5 5s-2.9 3.2 -5 3s-6.2 -3.2 -8 -4s-4 -0.3 -5 -2s-2.7 -5.6 -1 -8z M462 480c-0.2 -1.5 2.8 -1.8 4 -1s4.8 5.5 5 7s-2.8 1.8 -4 1s-4.8 -5.5 -5 -7z M518 392c0.5 -2.6 5.3 -12.8 8 -16s7.4 -2.7 10 -6s2.6 -10.3 4 -12s5.2 -2 6 0s-0.7 6.5 -2 10s-4.6 7.8 -6 12s-0.9 7.8 -2 12s-3 7.5 -4 12s-1.6 14.8 -2 16s-2.9 -0.7 -3 -2s2.7 -13.2 2 -16s-5.1 -2.3 -7 -4s-4.5 -3.4 -4 -6z M346 528c0.2 -4 3 -7 6 -10s8.8 -5.8 12 -8s6 -6.5 9 -6s3.2 4.9 3 8s-2.7 5.1 -4 8s-1.8 7.1 -4 10s-5.6 3.3 -8 6s-4.4 8.4 -6 10s-5.2 4.1 -6 2s3.4 -6.3 3 -10s-5.2 -6 -5 -10z M340 266c0.8 -2.8 5 -6.3 8 -7s5.7 0.9 8 3s3.5 4.8 4 8s1.7 10 -1 12s-4.4 -4.4 -7 -6s-5.8 -1.1 -8 -3s-4.8 -4.2 -4 -7z M353 288c1.7 -1.7 5.1 0.1 7 2s3.7 5.3 2 7s-4.3 -1.3 -6 -3s-4.7 -4.3 -3 -6z M351 306c1.1 -2.5 5.5 0.7 7 3s4.1 9.4 3 12s-4.4 -2.7 -6 -5s-5.1 -7.5 -4 -10z"/>
<path fill="none" stroke="#000" stroke-width="2.3" stroke-linejoin="round" stroke-linecap="round" d="M932 528c0 0 5.1 0 8 0s22.7 1.5 30 0s12.3 -5.7 18 -10s10.4 -9.4 14 -14s5.9 -10.4 8 -14s3.7 -7.7 6 -10s4.8 -3.7 8 -4s15.4 0.5 24 1s21.5 1.3 28 2s12.5 1.8 18 3s15 4 15 4 M967 200c0 0 0.2 6.6 -1 10s-4.6 11.5 -8 16s-7 7.6 -12 10s-13.2 1.9 -15 3s4.2 1.1 5 3s-0.3 7.9 1 12s4.6 10.4 7 14s3.9 7.7 8 9s12.7 0.9 18 -1s7.3 -6.9 12 -10s8.4 -6.4 14 -7s16.6 1.5 24 3s16.4 4.2 20 6s6.2 4.4 8 8s2.3 7.6 2 12s-2.4 10.3 -4 16s-3.7 14 -6 20s-4.4 10.6 -8 16s-7.9 9.5 -12 14s-7.9 7.5 -12 12s-7 10.6 -12 14s-10 4.7 -16 5s-13.1 -0.7 -20 -3s-14.4 -6.4 -20 -10s-12 -10.4 -14 -12s-4.9 -2.1 -6 -4s1.1 -4.1 0 -6s-9.2 -8 -12 -14s-4.2 -15.4 -6 -24s0.7 -16.6 -4 -24s-19.5 -15.4 -22 -17s-5.1 -2.5 -8 -2s-12.6 7.6 -20 7s-15.2 -9.1 -18 -10s-5.8 0 -8 2s-5.8 8.6 -7 12s-3.4 7.3 -1 10s7.6 1.7 12 2s9.9 -2.5 14 0s6.3 7.2 6 12s-3.6 13.1 -8 18s-11.1 7.7 -16 9s-10.8 -2.2 -14 -1s-3.9 4.8 -5 8s-4.3 11.6 -3 16s6 5.7 10 8s18.4 2.1 22 10s-0.4 23.9 -4 30s-15.3 7.1 -18 8s-6.1 3.2 -8 1s-5.9 -14 -8 -19s-3.4 -10.7 -6 -14s-7 -3 -10 -6s-4.4 -8.5 -6 -10s-4 -1.9 -6 -1s-6.1 3.7 -8 7s-2.2 7.6 -3 12s-2.4 19.5 -3 22s-4 6 -4 6 M1108 202c0 0 -8.5 4.2 -12 8s-7.1 9.9 -10 16s-4.5 12.3 -6 18s-2.7 11.7 -3 16s-1.2 8.3 1 12s7.4 6.7 12 10s11.6 7.2 16 10s12 8 12 8 M920 314c1.8 -1.5 4.9 -3.2 8 -3s11.9 5.2 18 5s12.2 -3.4 16 -6s4.9 -6.6 8 -10s10.3 -11.4 14 -14s7.4 -4.2 12 -4s10.5 2.2 14 5s4.8 6.7 6 11s1.6 9 1 14s-2.4 13.1 -5 20s-6.1 13.3 -10 20s-10.4 16 -12 18s-3.4 4 -6 4s-9.6 -1.4 -14 -4s-5.9 -7 -10 -10s-12.8 -7.7 -20 -12s-18.5 -11 -20 -12s-2.4 -2.3 -3 -4s-0.5 -3.8 -0.4 -6s0.4 -3.9 1 -6s0.6 -4.5 2.4 -6z M988 300c1.9 0 4.3 0.7 6 2s3 2.9 3 5s-0.9 5.3 -3 7s-5.2 3.1 -8 2s-4.5 -4.4 -5 -7s0.8 -5.5 2 -7s3.1 -2 5 -2z M782 237c0.9 0.9 5.3 8.2 8 13s6 9.9 8 16s4 13.4 4 20s-1.7 13.4 -4 18s-6.6 8.6 -10 10s-7.6 0.8 -10 -2s-3.6 -10.3 -5 -16s-0.3 -12 -3 -16s-9.2 -3.8 -12 -6s-6.4 -4.4 -6 -8s4.9 -7.2 8 -10s8.6 -3.8 10 -6s-3.9 -5.1 -2 -7s10.8 -2.5 12 -3s1.1 -3.9 2 -3z M786 281c2.2 0.9 5.6 4.5 6 8s-0.6 8 -4 9s-7.4 -2.2 -9 -5s-0.2 -6.9 1 -9s3.8 -3.9 6 -3z M826 220c3.1 -1.9 10.9 -4 14 0s3 13.9 0 18s-11 2.5 -14 1s-2 -5.7 -2 -9s-1.1 -8.1 2 -10z M778 530c-2.8 -4.2 0.6 -9.4 2 -14s2.4 -8.8 6 -12s9.2 -6 14 -6s8.9 2.3 12 6s4.7 9.6 5 14s-1.8 9.9 -3 12s-3.6 2.6 -6 3s-10.8 1.5 -16 1s-11.2 0.2 -14 -4z M792 509c1.8 -3.3 6.4 -4.1 10 -3s5.8 4.4 7 8s1.6 11.1 0 14s-5.7 2.4 -9 2s-7.7 -0.7 -9 -4s-0.8 -13.7 1 -17z M926 498c0 0 7.6 -10.5 12 -14s8.6 -5.4 14 -7s16 -2 16 -2 M962 518c0 0 -7.7 -1.1 -12 -2s-15.2 -3.6 -18 -4s-8 0 -8 0 M960 493c1.8 0 3.2 2.2 3 4s-1.9 5 -4 5s-3.2 -3 -3 -5s2.2 -4 4 -4z M898 443c0 0 -7.7 0 -10 -3s-4.7 -13 -8 -20s-10 -16.4 -11 -20s1 -6.8 3 -10s11.5 -12.7 14 -18s4.9 -11 2 -16s-16.6 -17.2 -22 -18s-4.6 8.7 -6 14s-3.9 15.3 -3 20s8.1 5.2 9 10s-2.3 10.8 -4 16s-3.8 9 -6 14s-5 14.9 -10 22s-10 13.5 -18 18s-28.1 8.5 -32 10s-7.2 2.9 -10 6s-8.6 7.9 -6 12s11 3.3 16 4s9.3 -1.9 14 0s5.1 11.2 10 10s3.9 -8.9 6 -14s3.8 -14.5 7 -17s8.7 -0.4 11 3s5.1 17.8 6 22s1 12 1 12 M768 390c1.6 -4.1 6.6 -6.6 10 -7s6.7 1.9 8 5s1.4 9.9 0 14s-4.2 8.5 -8 9s-6.4 -3.5 -8 -7s-3.6 -9.9 -2 -14z M1494 200c0 0 3.1 13.2 6 20s9.6 10.9 10 18s-5.9 11.2 -8 18s-2.3 15.7 -4 20s-5.8 5.9 -8 10s-8.4 12.3 -8 20s7.3 14.9 10 20s5.8 8.6 8 14s3.6 10.2 4 16s0.2 10.8 -2 16s-7 8.9 -10 12s-9 8 -9 8 M1600 324l-12 8 M1549 400c0 0 -1.4 12.9 -3 20s-3.8 12.8 -6 20s-3.7 16 -6 20s-5.7 6.4 -10 8s-11.5 1.3 -18 2s-14.2 0.5 -18 2s-5.7 4.7 -8 8s-3.5 7.9 -6 12s-5.8 10.5 -10 14s-8.7 4.5 -14 6s-12.8 2.6 -20 4s-13.1 1.6 -20 4s-14.7 6.9 -20 10s-11.3 8.3 -14 10s-4.9 4.8 -8 4s-4.8 -5.5 -8 -8s-8.4 -8.5 -12 -8s-0.1 7.7 -2 10s-8 2 -8 2 M1584 258c3 -0.5 11.5 -1.7 16 2s6 10.5 6 16s-4 11.6 -6 14s-4.9 3.3 -8 3s-11.9 -1.4 -16 -5s-6.4 -9.4 -6 -14s6 -7.7 8 -10s3 -5.5 6 -6z M400 590c0 0 5.2 -0.5 8 0s7.2 0.5 10 3s3.9 7.4 6 11s4.7 6 6 10s-1.8 14.8 3 18s9.3 -5.1 15 -6s22 0 22 0 M520 674c0 0 0.7 20.2 1 26s1.5 10.2 1 16s-3.3 18.5 -4 20s-2.5 -1.5 -4 -2s-18.5 -5.4 -22 -7s-6.2 -3.6 -8 -7s-2 -11.7 -3 -14s-2.5 -4.6 -5 -5s-5.1 2.1 -8 3s-12.1 5.7 -18 5s-8.9 -5.9 -14 -9s-17 -10 -17 -10 M420 668c0 0 6.3 -7.1 8 -12s2 -16 2 -16 M476 658c-0.9 -4.2 3.7 -9.3 8 -9s17.8 7.8 20 11s-2.8 7.4 -6 9s-6.8 0.6 -10 -1s-11.1 -5.8 -12 -10z M842 767c0 0 4.7 5.1 8 7s9.1 4.2 14 6s14 4 14 4 M793 784c1.4 -2.6 3.6 -5.9 7 -7s16.7 -2.6 20 -2s6 3.7 6 7s-2.8 7.3 -6 10s-13.2 7.2 -16 8s-5.6 0.6 -8 -1s-3.4 -4.2 -4 -7s-0.4 -5.4 1 -8z M766 791c0 0 -2.2 8.5 -4 13s-4.1 9.3 -6 12s-7 6 -7 6 M940 544c0 0 3.5 -4.7 6 -4s6 4.4 8 8s1.9 9.4 3 12s2.4 4.9 5 6s11.4 3 18 4s12.8 2 20 2s19.3 -1 24 -2s9.7 -4.7 12 -6s3.9 -2.5 6 -4s8.6 -7.3 14 -10s10 -4 16 -5s18 -1.3 20 -1s4 4 4 4 M919 798c0 0 8.7 -2.6 13 -4s8.1 -4 12 -4s7.1 1.4 10 4s2.5 7.7 6 10s10.2 2.6 16 4s12.1 2.3 18 4s12.5 4.9 16 6s6.6 0.6 10 2s8 4.3 10 6s4.2 3.4 4 6s-4.3 4.7 -5 8s-1 7 1 10s8 2.3 10 6s0.9 10.3 2 16s2.6 10.2 4 16s2.9 10.3 4 16s2 16 2 16 M1235 602c0 0 8.1 5.5 13 8s10.4 5.4 16 7s16 2 16 2 M1204 710c0 0 0.6 20.1 0 26s-2.2 10.3 -4 16s-3.8 10.2 -6 16s-5.1 10.3 -6 16s-1 10.6 1 16s6.1 11.3 11 16s9.9 7 16 10s12.5 6 20 8s16.8 3.2 24 4s20 1 20 1 M1120 920c0 0 7.3 -5 12 -5s14 5 14 5 M1235 602c0 0 3.4 0.1 5 1s6.2 4.8 10 7s8.6 5.4 14 7s11.7 2.8 16 2s7.1 -3.7 10 -7s5.5 -9.1 8 -14s6 -14 6 -14 M1373 920c0 0 -2.7 -11.7 -5 -18s-5.5 -11.3 -8 -18s-3.8 -12.8 -6 -20s-4.2 -16.6 -6 -20s-4.7 -5.5 -8 -7s-6.4 -1.6 -10 -1.4s-12.8 2.6 -20 3.4s-12.8 1 -20 1s-22.8 -0.6 -30 -1s-20 -2 -20 -2 M492 1030c0 0 -1.3 13.5 -2 20s-1.3 14 -2 18s-3 11 -3 11 M586 974c0 0 8.8 -3.8 14 -5s12.9 -1.4 20 -3s13 -3.2 20 -6s14.9 -7.3 20 -10s11.2 -5.8 14 -8s4.4 -4.8 6 -8s4.9 -13.7 5 -14s0.7 0.1 1 0s8.9 -2.8 14 -4s13.9 -2 20 -4s11.1 -6.1 16 -8s8.9 -2.8 14 -4s15 -1.4 20 -4s7.5 -9.5 10 -12s4.5 -5.3 8 -6s8.1 0 12 2s8.2 6.6 12 10s6.8 6.1 10 10s4 10.7 8 12s6.9 -3.2 10 -6s4.4 -7.1 8 -10s7.4 -4.7 12 -6s11.5 -3 16 -2s7.3 4.3 10 8s5.4 10.4 6 14s-2 10 -2 10 M890 920c0 0 -14 6.6 -18 10s-7.3 7.5 -8 12s2 8.8 4 12s4.2 6.5 8 7s10.4 -3.1 14 -4s6.4 -2.5 10 -2s9.1 3.9 12 5s4.9 3.3 8 3s8.2 -3.1 12 -5s7.2 -4.4 10 -6s4.9 -4.9 8 -4s3.5 5.5 6 8s6.6 5.6 10 8s7.8 3.1 10 6s3.6 6.7 2 10s-7.4 2.7 -10 6s-4.6 8.7 -6 14s-1.1 12.2 -2 16s-1.7 6.9 -4 10s-9.7 8.9 -12 12s-4.2 7.3 -4 10s6.8 3.1 5.3 5.3s-7.6 3.2 -10.6 2.7s-4.9 -4.1 -6.7 -5.3s-3.6 -2.7 -5.3 -2.7s-2.7 1.6 -4 2.7s-2.8 4.6 -5.4 5.3s-9.7 -0.6 -13.3 0s-7.3 2.6 -9.3 4s-3.7 2.9 -4 5.3s2.4 5.1 2.6 8s-1.6 5.1 -1.3 8s3.3 6.1 2.7 8s-3.4 1.2 -5.4 1.4s-8.9 0.5 -10.6 0s-1.3 -3 -2.7 -4s-4.2 -2.1 -6.7 -2.7s-7.7 -1.3 -10.6 -1.3s-5.9 0.7 -8 1.3s-4 4.4 -5.4 2.7s0.6 -7.4 0 -9.4s-4.2 -2 -4 -4s3.3 -5.4 5.4 -8s3.8 -4.7 6.6 -6.6s7 -1.9 9.4 -4s3 -6.6 4 -8s2.3 -2.5 4 -2.7s9.8 0.2 14.6 0s9.9 -0.5 13.4 -1.3s7.3 -2.6 9.3 -4s3.7 -3 4 -5.4s-1.3 -5.9 -2 -9.3s-0.6 -8.2 -2 -10.7s-3.8 -4.2 -6.7 -4.6s-11.9 0.4 -16 1.3s-8.2 2.2 -10.6 4.7s-2.1 5.9 -2.7 9.3s-0.6 11 -1.3 13.3s-1.6 5.1 -4 5.4s-4.9 -1.8 -6.7 -4s-2.3 -5 -3.3 -8s-1.8 -9 -3.4 -12s-4 -4.8 -6.6 -6.7s-4.8 -4.3 -8 -4s-6.1 2.4 -8 5.3s-2.2 6.8 -2.7 10.7s-0.7 9.9 -0.7 14.7s1.4 10.3 0.7 13.3s-3.7 4.4 -5.3 6.7s-3.7 4 -4 6.6s1.3 4.5 2.6 6.7s4.2 5.5 5.4 6.7s3.8 0.9 4 2.6s-1.2 4.6 -2.7 6.7s-6.2 5.8 -8 8s-1.8 4.9 -4 6.7s-8.3 4 -10.7 5.3s-5.1 1.7 -6.6 4s-2 5.9 -2 9.3s1.9 7 2 9.4s-0.4 4.4 -1.4 6.6s-4.4 6.2 -5.3 8s-1.9 3.5 -1.3 5.4s4.5 4.7 5.3 8s-0.2 6.1 -1.3 9.3s-3.7 6.7 -5.4 9.3s-3 4.7 -5.3 6.7s-11.3 9.2 -16 12s-10.8 2.8 -14 6s-3.7 7.5 -4 12s0.9 11.6 2 18s3 11.4 4 18s1.8 16.4 2 20s0 10 0 10 M708 1248c0 0 0.4 -15.4 0 -24s-0.2 -18.4 -2 -24s-6.4 -10.2 -10 -13s-7.4 -4 -12 -4s-12.8 2.7 -20 4s-16.2 1.1 -20 3s-5.2 5.9 -6 10s0.7 7.8 2 12s4.5 8.7 6 14s2.7 12.2 3 18s-0.3 12.2 -1 16s-0.3 9 -4 10s-11.9 -1.9 -18 -4s-10.3 -5 -16 -8s-12.5 -7.7 -18 -10s-10.3 -2.9 -16 -4s-13 -2 -16 -2s-6.1 -0.3 -8 2s-2 7.9 -4 12s-6 7.9 -8 12s-4 12 -4 12 M720 1016c0.9 -4.1 3.7 -8.2 6 -10s5.3 -2.1 8 -1s4.4 4.1 6 7s2.9 9.5 6 14s7.5 8.9 12 12s10 3.7 14 6s7.6 4.3 10 8s3.4 7.6 3 12s-2.8 7.9 -5 12s-6 7.9 -8 12s-2 9 -4 12s-4.5 5.2 -8 6s-17 -0.7 -20 0s-5 3.1 -6 6s-1.5 11.5 -2 18s0.4 13.9 -1 20s-4.5 11.4 -7 16s-5.5 10.4 -8 12s-5.2 -0.9 -8 -2s-7.3 -4.8 -12 -6s-10.2 -1.1 -16 -1s-19.7 2.6 -24 2s-7.7 -4 -10 -7s-3.3 -6.3 -3 -10s2.1 -9.5 5 -14s7.2 -8.2 12 -12s11.2 -6.2 16 -10s8 -7.4 12 -12s7.8 -10.1 12 -16s8.7 -12.4 12 -18s6.7 -9.7 8 -16s0 -18.2 0 -24s-0.9 -11.9 0 -16z M769 1108c2.7 -2.4 6 2 9 4s7.5 4.7 9 8s0.2 6.6 -1 10s-3.1 9 -6 10s-4.5 -3.3 -6 -6s-4.2 -9.8 -5 -14s-2.7 -9.6 0 -12z M768 1100l1 8 M780 1119c2.3 0 4 2.7 4 5s-1.4 6 -4 6s-4 -3.7 -4 -6s1.7 -5 4 -5z M753 1126c0.9 -1.7 3.1 -2.6 5 -2s6.2 2.9 8 6s2.1 7.5 1 10s-4.4 3.7 -7 3s-6.6 -3.7 -8 -7s0.1 -8.3 1 -10z M769 1168c0.3 -2.1 2.9 -3.4 5 -3s5.3 3.2 6 5s-0.6 3.6 -2 5s-4.1 4.5 -6 3s-3.3 -7.9 -3 -10z M602 1191c-0.2 -5.1 6.1 -9 10 -10s8 1.5 10 5s1.8 8.3 0 12s-5.1 8.4 -9 7s-10.8 -8.9 -11 -14z M708 1248c0 0 -5.3 9 -10 12s-12.9 5.4 -18 6s-9.6 0.5 -14 -2s-12.4 -12.2 -14 -14s-3 -6 -3 -6 M1240 979c0 0 9.3 -1 14 1s7.9 6.2 12 10s10.2 11.1 14 14s7.9 3.5 12 6s10.9 5.8 14 10s1.4 9.6 4 14s6.1 6.8 10 10s8.8 5.5 12 8s7.1 4 8 8s-2.3 13.5 -2 18s2.2 7.8 4 12s6.3 9.6 7 14s-1 8.4 -3 12s-5.1 5.1 -8 8s-8.1 7.9 -10 10s-2.4 7 -5 6s-3.5 -6.3 -5 -10s-1.4 -9.4 -4 -12s-6.3 -2.3 -10 -2s-11 1.5 -16 4s-8 7.5 -12 10s-9.9 0.8 -12 5s2.4 9.6 2 15s-2.3 10.8 -4 16s-4.4 9.7 -6 14s-6 7.9 -4 12s14 8.9 16 12s0.8 7.6 -2 10s-9.3 0.3 -12 2s-4.4 4.8 -4 8s5.7 5.8 6 10s-4.8 8.9 -4 14s4.7 8 8 12s9.1 9.1 12 12s8 8 8 8 M1373 920c0 0 -2.9 7.8 -5 12s-6.4 11.5 -10 18s-6.4 11.5 -10 18s-5.7 12.3 -10 18s-11.3 10.8 -14 14s-5.2 5.9 -6 10s-0.4 8.4 2 12s9.1 8.2 14 12s10.3 5.8 14 10s5.6 9.1 7 14s1.1 11 1 14s-3.5 5.4 -2 8s7 4 10 6s6.1 2.9 8 6s4.3 8.8 4 14s-5.3 11 -6 16s0.7 10 2 14s6.8 5.9 6 10s-6.4 6.4 -10 10s-6.6 6.2 -10 10s-6.8 7.4 -10 12s-5.6 10.7 -8 14s-4.4 7.6 -8 8s-5 -4 -8 -6s-5.9 -6.9 -10 -6s-4.9 7.2 -8 10s-6.1 4.4 -10 6s-9.6 1.4 -14 4s-6.2 6.6 -10 10s-9.9 7 -12 10s-3.1 6.5 -2 10s4.3 7.3 8 10s9.7 4.4 14 6s7.6 5.3 12 4s5 -8.9 8 -10s5.9 1.6 8 4s2.6 8.6 6 12s8.9 3.2 12 6s6 10 6 10 M1424 1280c0 0 3.6 -4.2 6 -6s6.2 -4.3 10 -6s7.9 -2 12 -4s8.8 -4.4 12 -8s4.7 -8.5 6 -12s3.4 -6.6 2 -10s-6.2 -7.6 -10 -10s-9.2 -0.4 -12 -4s-2.6 -10.9 -4 -16s-1.6 -11.2 -4 -14s-6.4 -1.3 -10 -2s-8.2 0.3 -12 -2s-5.5 -6.1 -8 -10s-6 -7.2 -6 -12s3.7 -7.7 6 -12s5.7 -9.7 8 -14s3.1 -8.4 6 -12s5.9 -5.8 10 -8s10.1 -4.3 16 -6s12.3 -1.5 18 -4s9.9 -7.5 14 -10s7.8 -4.4 12 -6s7.5 -2.9 12 -3s13.9 0.5 20 2s12.5 3.9 16 7s3.6 7.5 5 12s3 14 3 14 M1278 1158c1.3 -1.6 8 -5.8 12 -6s9.4 1 10 5s-4.3 8 -8 9s-8.2 -3 -10 -4s-5.3 -2.4 -4 -4z M1148 920c0 0 3.3 7.5 4 12s1.7 11.5 1 18s-4 13.7 -5 18s-2.3 7.6 -2 12s0.3 10.3 4 14s10.7 2.5 14 4s5.8 3.2 8 6s4.2 7.8 6 12s2.3 8.2 4 12s2.9 7.2 6 10s11.3 1.4 12 6s-7.2 4.3 -10 8s-4.6 7.6 -5 12s0.3 8.4 3 12s7 6.9 12 8s10.6 -0.8 14 -2s6.3 -2.9 8 -6s2.7 -7.7 2 -12s-5.3 -7.7 -6 -12s-0.7 -8.5 2 -12s8.9 -3.2 12 -6s5.7 -5.8 6 -10s-2.4 -10.1 -4 -14s-3.7 -6.5 -6 -10s-6.7 -9.3 -8 -12s-3.3 -5.3 -2 -8s4.8 -3.7 8 -4s14 2 14 2 M1052 920c0 0 1.9 8.5 4 12s4.5 5.9 8 8s7.5 4.7 12 4s9 -5.1 14 -8s8.9 -5.3 14 -8s16 -8 16 -8 M1168 978c-0.7 -3 3 -5.4 6 -6s6.4 2.1 10 3s10 0.7 14 3s6 6 8 10s3 8.2 3 12s-0.4 7.2 -3 10s-6.1 4 -10 4s-7.1 -1.4 -10 -4s-4.6 -6.1 -6 -10s0.1 -8.2 -2 -12s-9.3 -7 -10 -10z M1196 1064c0.8 -1.9 3.7 -2.2 6 -2s5.2 1.6 6 3s-0.5 3.3 -2 4s-5.1 0.9 -7 0s-3.8 -3.1 -3 -5z M1244 1122c0.9 -1.7 3.7 -3.2 6 -3s4.4 2.5 5 4s-0.5 3.3 -2 4s-5.3 0.9 -7 0s-2.9 -3.3 -2 -5z M984 1000c0 -3.6 3.2 -10 6 -14s5.9 -7.5 10 -9s8.6 -0.2 12 1s4.7 4.7 8 6s8.8 2.3 12 2s4.8 -4 8 -4s6.9 1.6 10 4s5.9 5.9 8 10s3 8.8 4 14s1 12.2 2 18s1.6 10.6 4 16s7.2 10.5 10 16s4.7 11.1 6 16s2.7 9.9 2 14s-4 6.3 -6 10s-3.2 8.1 -6 12s-8 5.3 -10 10s-1.3 12.2 -2 18s0.6 10.8 -2 16s-8.9 8.6 -12 12s-8 5.9 -8 10s5.3 5 8 8s6.4 6.7 8 10s3.5 6.6 2 10s-6.4 7.6 -10 8s-5.6 -3.3 -8 -6s-4.9 -7.8 -8 -12s-6.6 -10.9 -10 -12s-5.9 3.1 -8 6s-0.6 14.9 -6 14s-4.6 -12.4 -6 -16s-4.4 -7 -4 -10s5.6 -3 6 -6s-0.8 -7.8 -4 -8s-15.7 9.6 -22 6s-0.9 -12.8 -2 -20s-1.2 -13.2 -4 -20s-10.4 -14.7 -12 -18s-4.1 -7 -2 -10s7.5 -3.7 12 -4s13.3 -0.7 16 2s-3.6 6.1 -4 10s-2 10.3 2 12s7.7 -3.7 12 -6s8.8 -5.4 14 -8s14.5 -5.9 18 -8s5.1 -5.1 8 -8s8.4 -8.4 12 -12s9.1 -5.2 10 -10s-3.5 -8.1 -6 -12s-5.5 -6.1 -8 -10s-3.8 -7.7 -6 -12s-4.3 -7.5 -6 -12s-1.6 -11.2 -4 -14s-6.3 -2.4 -10 -2s-7.1 2.7 -10 4s-4.9 4.7 -8 4s-7.5 -5.5 -10 -8s-6 -4.4 -6 -8z M1012 978c0 0 5.5 6.1 8 10s4.7 9.7 6 12s3.4 3.5 4 6s2 18 2 18 M1020 1120c0.9 -2.1 3.6 -3.4 6 -3s3.5 3.7 6 5s6.6 0.2 8 2s0.1 5.2 -2 6s-5.1 -1.3 -8 -2s-6.2 -0.6 -8 -2s-2.9 -3.9 -2 -6z M1064 1250c0 0 -0.5 -3.9 0 -6s1.9 -6.7 4 -10s6.3 -9.6 10 -12s7.9 -2.8 12 -2s6.3 4 10 6s7.8 3.6 12 6s7.8 4.9 12 8s7.7 6.4 12 10s7.9 6.2 12 10s9.1 9.1 12 12s8 8 8 8 M1106 1006c1 -3.1 6.2 -7.9 10 -10s8.2 -4.1 12 -2s4.6 7.4 6 12s0.6 9.1 2 14s4.9 8.6 6 14s0.7 10.3 0 16s-3.7 14.3 -4 18s3.8 6.8 2 10s-7.8 6.9 -12 8s-7.7 -1.1 -12 -2s-13.7 -3.8 -16 -4s-4.2 3.4 -6 2s-2.4 -6.5 -4 -10s-4.4 -8.5 -6 -12s-4.4 -6.4 -4 -10s2.8 -6.3 6 -8s12.1 -1.2 16 -4s4.6 -7.8 6 -12s2.3 -8.8 2 -12s-5 -4.9 -4 -8z M1158 1088c0.4 -3.6 3.9 -7.6 8 -8s10.3 4.5 12 6s3.2 4 2 6s-5.2 3.3 -8 4s-5.5 1.4 -8 0s-6.4 -4.4 -6 -8z M1136 1130c1.6 -3.4 6.2 -3 10 -3s13 1.1 20 3s15.9 5.8 20 8s8.3 3.7 10 8s1.1 11.6 0 18s-5.4 13.7 -6 18s2.6 7.7 2 12s-4.1 11.6 -6 16s-3.8 9.2 -6 12s-5.1 5.3 -8 6s-6.2 0.4 -8 -2s-2.3 -9 -4 -14s-3.8 -10.3 -6 -16s-5.9 -13 -8 -20s-3 -14.3 -4 -20s-1.1 -12.2 -2 -16s-5.6 -6.6 -4 -10z M1206 1181c0 -3.6 4.9 -5.8 8 -6s7 1.9 7 5s-3.4 6.8 -7 7s-8 -2.4 -8 -6z M1180 1262c2.3 -3.7 8.5 -0.6 12 2s15.8 9.9 12 16s-16.8 3.9 -22 0s-4.3 -14.3 -2 -18z M1058 1215c0.9 -1.6 6.2 -4 8 -4s3.9 2.4 3 4s-5.2 3 -7 3s-4.9 -1.4 -4 -3z M964 1034c3 -2.1 11 -3.7 16 -3s10.3 3.5 12 7s-1.8 8.2 -4 10s-5.4 -1.1 -8 0s-6 2.9 -6 6s3.5 6.8 6 10s5.8 4.8 8 8s4.4 6.4 4 10s-2.5 7.2 -6 8s-7.7 -2.4 -12 -4s-12 -4.9 -14 -6s-5 -1.7 -5 -4s3.8 -10.3 5 -16s1.4 -12.4 2 -16s-1 -7.9 2 -10z M1016 1040c2.6 -2.6 7 -2.7 10 -2s4.6 3.3 6 6s3.8 6.8 2 10s-7.2 3.1 -10 4s-5.7 3.9 -8 2s-2 -6.3 -2 -10s-0.6 -7.4 2 -10z M1010 1078c1.7 -2.4 4.4 -6.4 8 -6s7.2 4.2 8 8s-1.9 7.9 -4 10s-5.1 2.8 -8 2s-5.2 -3.1 -6 -6s0.3 -5.6 2 -8z M984 953c0 0 -2.6 8.3 -4 13s-4 8.8 -4 14s2.5 12.1 4 16s3.2 6.9 6 10s6.6 4.9 10 8s6.6 6.9 10 10s6.9 4.6 10 8s5.4 7.5 8 12s6 12.3 8 16s6 10 6 10 M560 1386c0 0 9.2 7.8 12 10s8 6 8 6 M602 1368c0 0 2.7 -9 4 -14s3 -8.8 3 -14s-1.1 -9.8 -3 -14s-4.4 -7.1 -8 -10s-7.4 -4.6 -12 -6s-9.6 -2 -14 -2s-7.7 1.3 -12 2s-8.1 2.4 -12 2s-7.4 -1.1 -10 -4s-3.7 -7.5 -4 -12s2 -16 2 -16 M522 1268c0 0 -8.5 6.1 -14 8s-13.6 3.3 -20 4s-13 1.3 -18 0s-9.2 -6.1 -12 -8s-8 -5 -8 -5 M442 1268c0 0 -1.2 6.5 -4 8s-11.5 2.8 -18 4s-16.8 2.7 -24 4s-14.1 2.5 -20 4s-11.7 2.7 -16 5s-6.8 5.3 -10 9s-7.7 10.5 -10 14s-4.2 7.6 -6 10s-3.4 4.4 -6 6s-9.3 3.9 -14 6s-11.1 1.2 -13 6s3.3 8.9 5 14s3.6 10.3 5 16s2.1 10.2 3 16s0.5 14.2 2 18s4.5 5.9 8 8s7.4 4 12 4s11 -3.5 16 -4s10.4 -0.3 14 1s6 5.6 8 7s7.1 0.8 6 3s-6.5 3 -10 5s-9.3 5.6 -12 8s-3.5 5.5 -6 8s-8.6 7.5 -12 10s-5.8 6 -10 6s-6.4 -3.9 -10 -6s-9 -5.1 -14 -8s-9.7 -5.5 -14 -8s-12 -7 -12 -7 M294 1496c0 0 7.4 -7.5 12 -10s10.4 -3.1 14 -4s6.3 -2.4 10 -2s6.6 2.1 10 4s7.4 5.5 12 8s10.6 3.8 14 6s6.1 5.4 8 8s2.2 5.5 4 8s2.9 6 6 6s4.4 -5.6 8 -6s6.4 2.5 10 4s9.1 4.6 14 6s9.7 0.2 14 2s7.3 5.2 10 8s6 9 6 9 M458 1542c0 0 4 -10.1 4 -14s-1.1 -7.4 -4 -10s-8.8 -2.4 -12 -4s-6.5 -2.7 -8 -6s-2.5 -9.4 -1 -14s4.9 -7.4 9 -10s10.2 -4 16 -6s12.7 -3.7 18 -6s10.2 -5.4 14 -8s9.5 -4.4 10 -8s-5.3 -3.6 -8 -6s-6.6 -6.2 -10 -10s-7.5 -7.4 -10 -12s-3 -9.7 -4 -14s-0.8 -9.2 -2 -12s-3.1 -5.2 -6 -6s-5.6 1 -8 2s-4.6 1.8 -6 4s-0.2 5.6 -2 8s-4.8 4 -8 5s-9.3 1.5 -14 2s-10.4 4.9 -13 1s1.9 -11.6 3 -16s2.8 -9 4 -12s1.3 -6.3 4 -8s7.8 -0.6 12 -2s7.7 -3.8 12 -6s9.3 -3.3 12 -6s3.4 -6.2 4 -10s-1 -9.9 0 -14s2.9 -7.1 6 -10s7.9 -5.6 12 -7s7.9 -1.9 12 -1s7.5 2.6 10 6s4.7 9.6 5 14s-0.5 8.3 -3 12s-8.4 7.1 -12 10s-8.8 4.3 -10 8s0.8 7.8 4 10s10.9 2.6 16 4s9.2 4.4 14 4s8.1 -3.5 12 -6s5.7 -7 10 -8s9.1 2.1 12 3s8 3 8 3 M514 1300c1 -2.6 3.7 -6.6 6 -5s4.5 8.1 6 13s5 12.7 3 16s-6.4 -3.1 -9 -6s-4.1 -7.2 -5 -10s-2 -5.4 -1 -8z M391 1302c1.2 -2.1 5.9 -3.3 7 -1s-1.6 6.7 -4 7s-4.2 -3.9 -3 -6z M524 1365c0.4 -1.8 3.6 -2.2 5 -1s1.3 4.5 1 6s-1.8 4 -3 3s-3.4 -6.2 -3 -8z M530 1598c0 0 6.3 -9.3 10 -12s9 -2.8 12 -4s8 -4 8 -4 M532 1331c3.7 -2.9 16.5 -0.1 20 -1s6.5 -5.6 8 -6s2.1 1.7 3 3s4.2 4.1 4 7s-4.4 7.2 -5 8s-1 1.9 -2 2s-21.7 2 -26 0s-5.7 -10.1 -2 -13z M560 1284c0 0 -5.3 -3 -8 -3s-5.3 1.4 -7 3s-2.5 3.6 -2.6 6s0.4 8.7 1.6 11s3.4 3.7 6 4s10 -2 10 -2 M788 1600c-2.6 -1.3 1.5 -5.5 4 -7s5.4 -1.3 8 0s8.9 5.3 6 7s-15.4 1.3 -18 0z M806 1252c0 0 -6.5 -2.4 -10 -4s-10.5 -4.6 -16 -8s-12.7 -8.4 -16 -12s-5.3 -7.7 -6 -12s-0.5 -8.4 2 -12s9.3 -6.6 12 -8s5.3 -1.3 8 -2.7s5.5 -3 8 -5.3s6.9 -7.8 9.3 -10.7s5.9 -4.6 6.7 -8s-2.5 -6.4 -2.7 -9.3s0.3 -5.3 1.4 -8s2.5 -6 5.3 -8s7.5 -3.1 12 -4s9.9 -1 13.3 -1.3s7.1 0.5 9.4 -0.7s2.6 -3.8 4 -6s3.2 -5.7 5.3 -8s3.7 -4.8 6.7 -5.3s5 1.9 8 2.6s6.8 0.3 9.3 1.4s3.6 4.3 5.3 5.3s3.5 1.9 5.4 1.3s2 -3.5 4 -4s4.7 1.2 6.6 1.4s3.5 0.1 5.4 0s8.2 0.1 10.6 -0.7s3.9 -2.6 5.4 -4.7s2 -7.2 4 -8s1.4 3.7 2.6 5.4s2.1 3.2 4 4s6.9 1.5 10.7 2.6s7.8 2.3 12 4s9.5 4.1 12 5.4s6.7 4 6.7 4 M923 1305c0 0 4.9 -4.1 7 -7s5.7 -8.7 8 -14s4.3 -12.3 6 -18s2 -13 4 -16s2 13 0 10s-1.2 -12.1 -4 -16s-7.7 -5.3 -12 -6s-12 2 -12 2 M864 1144c0.5 -1.9 2.1 -3.6 4 -4.7s4.3 -1.8 6.7 -1.3s5.3 2.7 6.6 4s2.7 3 2 4.7s-3.8 3.6 -6 4.6s-4.3 1.8 -6.6 1.4s-4.2 -1.8 -5.4 -3.4s-1.8 -3.4 -1.3 -5.3z M886.7 1105.3c0.6 -2 1.1 -3.9 2.6 -5.3s3.3 -2.3 5.4 -2s4.3 1.3 5.3 3.3s1.3 6.8 1.3 10.7s-0.3 10.3 -1.3 12s-3.5 0.1 -5.3 -0.7s-5.2 -2.6 -6.7 -4.6s-1.8 -4.3 -2 -6.7s0.1 -4.7 0.7 -6.7z M964 1034.7c1.6 -1.2 5.8 -2.5 9.3 -2.7s9.1 0.3 12 1.3s6.1 2.4 6.7 5.4s-2.6 5.1 -4 8s-2.6 5.1 -4 8s-4.3 5.6 -4 8s3.9 2.1 5.3 4s2.5 4 2.7 6.6s-1.7 7.9 -1.3 10.7s5.1 4.1 4 6.7s-5.1 2.4 -8 2.6s-5.1 -0.8 -8 -1.3s-5.3 -0.2 -8 -1.3s-5.7 -3.4 -8 -5.4s-4.8 -4.7 -5.4 -6.6s0.8 -3.5 1.4 -5.4s2.9 -6.7 4 -10.6s2 -10.1 2.6 -13.4s1 -7.4 1.4 -9.3s-0.3 -4.1 1.3 -5.3z M917.3 1090.7c0 -1.7 2.4 -2.6 4 -2.7s4 0.4 4 2s-2.3 3.2 -4 3.3s-4 -0.9 -4 -2.6z M1146 1250c0 0 9.1 8.8 14 14s9.7 11 14 16s8.4 9.7 12 14s9.2 7.9 10 12s-4.6 6.6 -6 10s-2 10 -2 10 M1218 1314c0 0 0.6 -7.8 2 -12s5.3 -7.2 6 -12s-1.4 -11.7 -2 -16s-2.6 -9.5 -2 -12s3.5 -3.4 6 -4s8.2 -0.7 12 0s6.8 6.2 10 4s2 -12 2 -12 M1219 1258c0 0 24.3 2.5 29.8 4.2s8.2 6.2 13.4 8.8s12.2 6 17.8 6.8s10.8 -1.5 15.6 -2.2s9.3 -3 13.2 -2.2s8 2.7 9 6.6s-4.4 7.4 -4.4 11s2.2 6.2 4.6 9s6.1 5.5 10 8s8.9 3.2 12 6s5.3 6.4 6 10s-0.4 6.7 -2 10s-6 7.7 -8 10s-3.8 5.3 -6 6s-3.8 -1.3 -6 -2s-3.9 -2.9 -6 -2s-5.5 7.1 -10 9s-13.4 0.8 -16 2s-1.9 5 -4 7s-4.9 3.3 -8 4s-7.4 1 -10 0s-4.4 -3.3 -5 -6s-1.3 -9.1 1 -12s6.4 -2.5 10 -2s7.7 4.3 12 5s8.9 -0.2 12 -1s5.2 -2.4 8 -4s10 -1.7 9.8 -5.8s-8.2 -15 -11.2 -20s-7.6 -8.7 -8.8 -13.4s3.5 -8.8 2.2 -13.2s-4.8 -8 -9 -9s-6.9 3.3 -11 4.4s-9.5 1.6 -14 2s-8.2 1.5 -12.6 0.4s-8.8 -4 -13.4 -6.8s-14.2 -10.3 -15.6 -11s-4.4 0.4 -4.4 0.4"/>
<path fill="none" stroke="#000" stroke-width="3" stroke-linejoin="round" stroke-linecap="round" d="M1495 712c2.5 -3.6 8.2 -2.8 13 -4s15.2 -4.3 20 -4s8.8 2.6 12 6s5 7.3 5 12s-3.6 8.8 -5 14s-2.3 16 -4 20s-3.7 9 -8 9s-8.3 -5.1 -12 -9s-8.8 -10.6 -12 -16s-5.7 -11.8 -7 -16s-4.5 -8.4 -2 -12z M1602 872c0 0 -8.6 6 -14 8s-12.3 3.2 -18 4s-11.6 -1.2 -16 1s-7.6 6.2 -8 11s2.1 9.2 6 12s10.3 2.2 16 4s10 4.6 16 6s18 2 18 2 M513 1125.6c0.9 -3 6.2 -6.4 9 -8.6s5 -4.8 8.6 -5s7 2.3 10.4 4s6.1 3.8 9 5.7s5.7 3.3 8 5.3s6 3.7 5.7 6.4s-4.3 2.6 -6.7 3.6s-4.5 1.4 -7 2.2s-5.3 1.6 -8 2.3s-4.8 2 -7.5 1.6s-6.4 -2.4 -9.5 -4.1s-5.9 -3.2 -8 -5.6s-4.9 -4.8 -4 -7.8z M850 1303c0 0 4.3 5.5 6 9s2.6 7.7 4 12s4 12 4 12 M933.3 1206.7c0 0 9.6 2.2 13.4 2.6s7.8 -2.5 10.6 0s0.9 6.8 1.4 10.7s0.4 7.8 1.3 12s0.5 9.1 4 12s14.5 3.1 18 6s1.5 8.2 4 12s9.2 6.8 12 12s2.6 10.2 3 16s0.2 10.7 -1 16s-3.4 10.7 -6 14s-6 4.8 -10 6s-28 5 -28 5 M973.3 1144c0 0 -0.1 5.3 -1.3 8s-2.9 4.8 -5.3 6.7s-8.8 5.7 -13.4 8s-8.6 3.9 -13.3 5.3s-8.5 2 -13.3 2.7s-10.3 0.5 -13.4 1.3s-8 4 -8 4 M998 1344c0.4 -4.6 4.3 -7.3 8 -10s9 -4 14 -6s8.7 -5.4 14 -5s8.6 5.4 14 7s11 1.7 16 2s11.9 -0.8 14 0s2.9 3.9 2 6s-5.2 7 -8 8s-5.8 -4 -8 -2s-1.9 6.5 -1 10s5.4 5.8 6 10s-1.2 7.9 -3 12s-2.6 11.8 -8 13s-13.3 -3.8 -18 -7s-5.7 -8.4 -10 -12s-9.7 -5.7 -14 -8s-8.6 -2.6 -12 -6s-6.4 -7.4 -6 -12z M1063 1400c0 -1.8 3.2 -1.4 5 -1s8.9 1.7 12 5s2.5 7.7 4 12s4.6 11.1 5 14s0.5 6.4 -2 8s-6.4 1 -9 -1s-2.6 -5.7 -4 -9s-4 -9 -6 -14s-5 -12.2 -5 -14z M1188 1402c0 0 5.2 -0.6 8 0s7.7 2.6 12 4s8.2 2.3 12 4s7.3 3.6 10 6s3.5 5.5 6 8s4.8 4.4 8 6s7.7 3.3 12 4s7.7 0.7 12 0s12 -4 12 -4 M1188 1326c0 0 1.4 6.1 4 8s7.4 4 12 4s9.1 -1.4 12 -4s3.6 -6.3 4 -10s-2 -10 -2 -10 M1208 1366c0.5 -1.2 5.1 -9.4 8 -12s7 -4.4 10 -4s5.3 3 6 6s0.4 7.2 -2 10s-6.4 3.5 -10 4s-8.8 -0.6 -10 -1s-2.5 -1.8 -2 -3z M1266 1352c2.8 -2.3 10.1 -3.6 14 -2s6 5.8 6 10s-2.9 8.1 -6 10s-7 1.6 -10 0s-4.3 -4.7 -5 -8s-1.8 -7.7 1 -10z M1288 1364c0 0 7.4 11.7 12 18s16 20 16 20 M1330 1350c0 0 3.7 6.5 6 10s8 12 8 12 M1540 1538c0 0 -1.5 -1.1 -2 -2s-6.3 -9.2 -8 -14s0.3 -9.4 -2 -14s-6.8 -6.1 -10 -10s-6.3 -7.1 -8 -12s-0.7 -11.4 -2 -16s-2.6 -9 -6 -12s-7.9 -2.1 -12 -4s-9.6 -5.3 -14 -8s-7.7 -5.1 -12 -8s-7.9 -5.8 -12 -8s-9.6 -4.7 -12 -5s-4.9 0.9 -6 3s-0.9 7.8 -2 12s-4 12 -4 12 M1330 1274c0 0 1.7 11.5 3 16s2.4 8.1 5 12s6.6 6.9 10 10s6.6 5.8 10 8s6.4 4.5 10 5s7 0.2 10 -2s4.1 -5.4 5 -9s-0.5 -7.7 0 -12s0.8 -11.9 3 -16s5.7 -6.3 10 -8s10.4 -0.6 16 -2s16 -6 16 -6 M440 500l22 18 M550 779.5l9.8 13.7 -9.8 15.5 -12.4 -15.5z"/>
<path fill="none" stroke="#000" stroke-width="3.6" stroke-linejoin="round" stroke-linecap="round" d="M934 534c0 0 26.4 6 36 6s18 -0.7 26 -6s12.3 -17.8 16 -22s8.7 -8.5 12 -10s7 -2 10 0s4.9 8.6 8 12s5.6 6.6 10 8s10.3 0.7 16 0s12.9 -3.7 18 -4s14 2 14 2 M1355 200c0 0 0.6 5.6 -1 8s-6.2 5.4 -10 8s-11 5.7 -16 10s-7.6 9 -12 14s-12 14 -16 18s-7.9 7.1 -12 10s-9.4 6.6 -12 7s-3.4 -3.5 -6 -4s-26 -2 -26 -2 M1245 347c0 0 9.6 -1.1 15 -2s14.1 -2.5 20 -4s12.7 -3.5 16 -5s6.3 -3.6 8 -6s1.4 -7.1 2 -8s2.7 -1 3 0s0.3 13.2 2 16s6 0.6 9 2s7.2 6.1 12 8s10.8 3 16 3s10.5 -0.1 14 -3s3 -7.6 4 -12s3.1 -9 2 -14s-4.7 -8 -8 -12s-9.5 -8.8 -12 -12s-5.3 -6 -5 -10s4.8 -12.3 7 -18s4.4 -10.1 6 -16s2.5 -18.5 4 -22s4.2 -6.2 8 -7s16.6 0 22 1s9.4 3.5 14 6s7.6 5.2 12 8s11.2 5.2 16 10s6.8 10.4 10 16s6 9.9 8 16s3.4 12 3 18s-2.7 10.4 -5 16s-6.1 9.8 -8 16s-2.6 12.8 -3 20s2.4 16.6 1 20s-7 0.6 -10 2s-7 6 -7 6 M1308 416c0 0 10.5 -3.2 16 -6s12.2 -7.4 16 -10s7.9 -6.4 10 -8s3.4 -4 6 -4s8 4 8 4 M270 799c0 0 12.2 -1.8 18 -3s12.1 -2.5 16 -4s7 -3 10 -6s4.5 -6.6 6 -10s1.2 -6.7 3 -10s4.3 -5.3 7 -8s5.4 -5.5 8 -7s5 -2.3 8 -2s7.7 2.8 12 4s8.4 2.3 12 2.6s10 -0.6 10 -0.6 M397 725c0 0 1.2 4.2 1.4 6s-0.4 5 -0.4 5 M382 588c0 0 5.9 -5.9 10 -8s8.8 -4 14 -4s9.4 1.5 14 4s7.7 6.4 12 10s8 7.3 12 10s7.2 5.3 12 6s15.6 -1.1 20 -1s9.6 0.6 12 2s3.7 4.4 3 7s-7 8 -7 8 M430 858c0 0 5.8 7.1 10 10s9.8 6.4 16 8s19 1.7 24 2s10.2 -1.9 14 0s4.3 6.5 6 10s1.9 7.9 4 10s5.3 3.3 8 2s5.8 -6 8 -10s1 -8.6 4 -12s7.2 -5.6 12 -6s10.1 4 14 4s10 -4 10 -4 M466 912l-2 8 M560 869c0 0 8.6 -2.8 12 -5s5.3 -5 8 -8s4.3 -7.4 8 -10s7.4 -4 12 -4s24 4 24 4 M690 878c0 0 6.2 3.5 10 4s14.5 0.8 18 0s5.5 -3.5 8 -6s6.4 -7.7 10 -12s5.1 -9.2 10 -12s13.2 -2.1 18 -4s8.3 -5.3 12 -8s6.7 -6 10 -8s6.5 -3.1 10 -4s6.4 -1.3 10 -1s7.9 1.3 12 3s7.2 5.5 12 7s8.9 1 14 1s10.8 -2 14 -1s3.9 4.5 6 7s6.7 7.4 10 12s6.7 11.4 10 16s6.9 9.2 10 12s5.9 5.1 10 6s16 0 16 0 M644 915c0 0 6.6 -1.4 10 -3s12.3 -6.5 14 -8s2 -6 2 -6 M920 890c0 0 8 -0.2 12 -2s9.3 -8.3 14 -10s10.5 -0.9 14 0s6.3 3.6 8 6s0.1 5.7 2 8s6.3 1.3 8 4s2.7 8.5 2 12s-3.1 5.8 -6 8s-9.6 4 -9.6 4 M422 930c0 0 3.1 5.1 6 6s10.2 1.4 16 1s13.6 -1.9 16 -3s3.3 -3.5 4 -6s0 -8 0 -8 M420 1036c0 0 4.5 -6.9 8 -6s5 6.5 8 10s9.8 9.1 12 14s1 15 1 15 M652 1208c1.7 -5.9 6.8 -8.9 12 -12s13.5 -5.7 18 -6s9 0.6 12 4s4.6 10 6 16s3.3 15.3 3 22s-1.5 12.9 -5 18s-10 8.2 -14 10s-8 3.7 -12 2s-9 -6.7 -12 -12s-4.6 -12.6 -6 -20s-3.7 -16.1 -2 -22z M898 930l0 10 M1270 1032c1.7 -3.8 5.9 -5 10 -6s11.1 -0.9 14 0s6 2.9 6 6s-3.2 9.1 -6 12s-6 5 -10 5s-9.2 -1.6 -12 -5s-3.7 -8.2 -2 -12z M1280 1028c0 0 -6.1 1.7 -8 4s-2.8 5.1 -2 8s4.8 5.3 6 6s4 0 4 0 M1022 946c0 0 6.8 -5.6 10 -6s5.3 2.3 8 4s4.8 4.4 8 6s7.8 2.9 12 4s7.6 2.2 12 2s10.4 -2.7 14 -3s6.7 -0.5 10 1s6.4 5.1 10 8s8.2 6.6 12 10s6.6 6.2 10 10s7.5 8.6 10 12s2.4 7.8 6 10s10 -0.2 14 2s5.8 5.9 8 10s4.2 10.3 6 16s2.9 10.3 4 16s0.2 10.5 2 16s4.5 9.4 8 14s8.1 9.1 12 12s9.2 3.8 12 6s5.3 4.5 6 8s-2.4 7.6 -2 12s1.7 8.1 4 12s6.9 7.8 10 12s5.6 7.8 8 12s4.1 7.6 6 12s4.9 10.3 6 16s0.6 11.5 0 16s-3 7.5 -4 12s-1.4 11.7 -2 16s-2.4 7.6 -2 12s4 12 4 12 M1022 946c0 0 3.1 5.9 4 8s0.3 4.5 2 6s8.3 4 12 6s6.2 4.1 10 6s8.8 6.4 14 6s8.5 -7 12 -8s7.2 -0.4 10 2s4.3 6.1 4 10s-3.8 9 -6 14s-3.7 10 -6 14s-6.2 6 -8 10s-2 7.6 -2 12s0 9.3 2 14s7.5 9.9 10 14s4.3 7.5 6 12s4 10.1 4 14s-2.5 6.4 -4 10s-3.8 9 -6 14s-4.2 9.1 -6 14s-3.7 11 -4 14s-0.2 6.2 2 8s6 -2 8 0s2.7 7 2 10s-3.5 4.3 -6 6s-9.3 3.3 -12 6s-4 6.1 -4 10s3.1 10.2 4 12s4 2 4 4s-2.3 6.9 -4 10s-4 5.7 -6 8s-5.6 3 -6 6s1 6.7 4 8s6.7 -0.4 10 -2s6.4 -5.1 10 -8s6.7 -6 10 -8s6.1 -4 10 -4s8.2 1.5 12 4s7.7 7.7 12 12s7.7 7.7 12 12s10.3 10.1 12 12s4 6 4 6 M963 920c0 0 0.3 6.5 1 10s2.5 10.7 4 14s2.9 6.2 6 8s6.9 2.2 10 1s4.4 -5.4 6 -7s3.4 -5.6 5 -4s5.2 9.8 5 14s-3.4 6.7 -6 10s-6.7 6.1 -10 10s-8 9.3 -10 14s-2.7 9.9 -2 14s3 7 6 10s7.4 5.5 12 8s10.5 5.3 14 6s6.5 -0.3 10 -1s6.5 -4.4 10 -3s5.4 6.2 8 10s5.7 9.7 8 14s4.8 8.9 6 12s4.1 6.5 2 9s-8.7 1.1 -12 3s-6.2 4.2 -7 8s4 8.5 3 12s-4.8 4.3 -8 6s-10.5 4.8 -14 6s-7 2.7 -10 2s-6 -6 -6 -6 M994 1048c1.3 -1.8 3.4 -4 6 -4s4.8 1.7 6 4s2.4 8.1 2 12s-2.5 7.9 -4 10s-3.8 5.3 -6 4s-3.1 -6.5 -4 -10s-1 -7.8 -1 -10s-0.3 -4.2 1 -6z M920 1060c0 0 6.5 -2.8 10 -2s6.3 2.9 8 6s1 8.3 2 12s1.4 7.1 4 10s5.9 4.9 10 6s10.2 1 16 1s12.1 -2.1 16 -1s8 8 8 8 M936 1112c0 0 8 4.3 10 6s2.2 4.6 4 6s6 2 6 2 M1062 1054l1 12 M1102 1135.6l10 0 M480 1342c2.2 -2.2 4.9 -3.2 8 -3s7.6 0.8 8 4s-3.1 8.8 -6 11s-8 1.6 -10 1s-3 -2.9 -3 -5s0.8 -5.8 3 -8z M392 1262c0 0 -0.4 4.4 -2 6s-6.1 4.5 -10 6s-11.5 2.4 -16 4s-8.4 3.1 -12 6s-5.5 7.5 -8 10s-4.5 5.1 -8 6s-10.2 0.6 -14 0s-7.8 -3 -10 -4s-3.6 -3.2 -6 -3s-3.5 3.4 -6 4s-14 1 -14 1 M322 1436c3.1 -1.7 14.2 -2.3 18 0s4.5 8.4 2 12s-8.8 2.3 -12 2s-6.4 -1.2 -8 -4s-3.1 -8.3 0 -10z M288 1530c0 0 2.8 -6.4 6 -8s13.5 -3.9 18 -4s9.1 1.4 12 3s7.1 3.9 6 7s-10 4 -10 4 M378 1557c0 0 8.9 -3.5 14 -5s13.7 -4.3 16 -4s2 6 2 6 M382 1598c0 0 0.5 -12.1 4 -16s10.4 -6.8 14 -4s-2.7 8.4 -4 12s-4 10 -4 10 M560 1470c0 0 -7.7 -0.3 -12 0s-10.5 0.3 -16 2s-10.2 5.1 -16 8s-10.7 4.8 -16 8s-10.8 6.4 -14 10s-4.5 7.4 -6 12s-2.1 10.3 -3 16s-2 16 -2 16 M520 1512c0 0 5.1 -1.6 8 -2s20 -2 20 -2 M534 1588c0 0 3.2 4.8 6 6s9 2 12 2s8 -2 8 -2 M562 1440c0 0 -4.8 0.9 -6 3s-1.8 7.3 -1.6 11s2.6 10 2.6 10 M560 1280c0 0 7.8 6 12 6s6.3 -4 10 -6s7.3 -5.1 12 -6s10.1 -0.8 14 1s6.5 5 8 9s1.5 8 0 12s-4.1 7.1 -8 9s-7.8 1.9 -12 1s-7.8 -4.2 -12 -6s-7.5 -4.7 -12 -4s-12 8 -12 8 M560 1280c0 0 -5.1 -3.6 -8 -4s-5.6 0.2 -8 2s-4.4 4.7 -5 8s-0.1 10.6 1 14s2.9 6.2 6 8s7.8 1.6 10 1s4 -5 4 -5 M620 1362c0 0 -0.5 -20.3 2 -26s9.1 -6.2 14 -10s10.6 -6.3 14 -12s2.2 -14 4 -18s8 -9 8 -9 M656 1250c0 0 3 7 6 10s5.9 5.2 10 6s8.1 -0.6 12 -2s7.7 -3.7 10 -6s4 -8 4 -8 M774 1250c0 0 2.6 6.7 4 10s4 9 4 9 M646 1430c0 0 5.5 -2.2 8 -4s3 -6.6 6 -6s0.9 7 4 8s5.4 -4.7 8 -4s3 7 3 7 M850 1341c0 0 5.3 -1.8 8 -1s6 5 6 5 M560 1590c0 0 6.1 -1.7 8 -4s2 -8 2 -8 M646 1548c0 0 4.8 10.7 8 16s6.4 10.8 10 14s7.2 5.7 12 6s12.8 -2.9 20 -4s13.4 -3.5 20 -2s10.2 8.9 16 10s11.2 -2 16 -4s9.9 -5.1 12 -8s2 -6.5 1 -10s-3.5 -7.3 -7 -10s-8.8 -4.3 -14 -6s-13.5 -2.4 -16 -4s-2 -8 -2 -8 M770 1600c0 0 6.1 -16.9 8 -20s4.6 -4.8 8 -6s8.9 -1.7 14 -2s13.2 -1.7 18 0s7.2 6.1 10 10s4.4 9.9 6 12s3.4 3.5 6 4s10.6 2 16 0s11.6 -6.5 16 -12s7.6 -11.2 8 -18s-2.5 -14.1 -6 -18s-11.6 -2.2 -14 -4s-2.7 -5.1 -2 -8s3.6 -5.3 6 -8s8 -8 8 -8 M1012 1304c0 0 0.1 7.7 2 10s8 2 8 2 M1090 1364c0 0 1 6.9 4 8s7.7 -2.7 12 -2s10.1 2.9 12 6s-0.1 7.7 -2 10s-5 2 -8 2s-9 -3.1 -12 -2s-4 4.8 -4 8s4 10 4 10 M1140 1408c0 0 0.2 6.1 2 8s5 3.6 7 2s3 -10 3 -10 M1080 1454c0 0 6 -0.2 8 2s3 7.6 3 10s-0.9 4.9 -3 6s-7.3 1.9 -10 1s-5.6 -3.5 -5 -6s7 -2 7 -2 M1065 1484c0 0 4.7 -3.7 7 -4s4.7 1 6 2s2 4 2 4 M981 1510c0 0 3.6 -7.3 7 -10s9.2 -4.3 12 -5s8 0 8 0 M1005 1527c0 0 3.8 -5.1 7 -6s6.9 -0.8 10 1s4.7 4.6 6 8s1 10 1 10 M1044 1510c0 0 0.2 -5.6 1 -7s4 -2 4 -2 M1244 1248c0 0 7.7 6 5 8s-8.6 -2 -13 -2s-8.7 0.7 -12 2s-7 2.6 -8 6s1.3 9 2 14s2 8.9 2 14s0.2 10.9 -2 14s-6.6 3.4 -10 3s-5.4 -2.8 -8 -5s-6.6 -6.2 -10 -10s-7.7 -9 -12 -14s-8.7 -11.1 -14 -16s-16 -12 -16 -12 M1326 1316c0.8 -2.7 3.2 -4.6 6 -5s5.9 0.7 8 3s4 6.1 4 10s-1.9 7.7 -4 10s-5 3.8 -8 3s-5.1 -3.8 -6 -7s-0.8 -11.3 0 -14z M1260 1484c0 0 9.4 0.3 12 4s4.8 11.6 2 16s-10.4 2.1 -14 3s-10 3 -10 3 M1450 1530c0 0 3.2 -8.9 6 -12s5.9 -4.9 10 -6s7.8 -1 12 0s8.3 2.9 12 6s7.7 8.1 10 12s3.6 7.6 4 12s-1.3 8.4 -2 12s-2 10 -2 10 M1240 1480c0 0 12.8 0.9 18 2s11 1.4 14 5s0.3 9.9 1 13s6.4 5.9 4 8s-7 -2.1 -11 -2s-16 3 -16 3 M409 555l13 0 M776 1264c0 0 -4.8 -10.4 -8 -16s-7.2 -10.5 -10 -16s-5.4 -12.4 -6 -16s0 -6.9 2 -10s6.2 -5.4 10 -8s13.1 -7.7 16 -10s4.4 -5 6.7 -8s6.5 -8.1 8 -10.7s2.9 -5 2.6 -8s-3.8 -4.8 -4 -8s1.5 -6.3 2.7 -9.3s3.8 -4.8 4 -8s-2.5 -5.8 -2.7 -9.3s-2.4 -10.1 1.4 -10.7s6.7 7.9 8 9.3s2.1 3.1 4 3.4s18.5 2.3 22.6 1.3s5 -5.6 8 -8.7s7.9 -5.2 9.4 -9.3s-0.9 -8.1 -1.4 -12s-1.7 -8.5 -1.3 -10.7s1.9 -4 4 -4.6s8.5 -0.3 10.7 0.6s3.4 3.1 4 5.4s-0.2 6 0 9.3s0.4 9 1.3 10.7s3.5 2 5.3 1.3s3.8 -3.1 5.4 -5.3s2.4 -5.8 4 -8s3.2 -4.2 5.3 -5.4s4.3 -1.8 6.7 -1.3s4.2 2.6 6.6 4s4.1 2.8 6.7 4s5.1 2.5 8 2.7s5.4 -0.4 8 -1.4s5 -1.8 6.7 -4s1.9 -5.2 2.6 -8s0.9 -6.6 1.4 -8s4 -2.8 2.6 -3.3s-4.1 1.8 -6.6 2s-6.7 0.2 -9.4 -0.7s-4.6 -3.2 -6.6 -4.6s-4 -2.4 -5.4 -4s-3.4 -3.4 -2.6 -5.4s4.3 -3 6.6 -4s6.7 -1.6 6.7 -1.6 M834 1040c0.6 -1.9 4.4 0.8 4.7 2.7s0.1 10.2 -2.7 8.6s-2.6 -9.4 -2 -11.3z M826.7 1061.3c2 -0.4 3.7 2 4 4s-0.6 5 -2.7 5.4s-5 -1.6 -5.3 -4s2 -5 4 -5.4z M878.7 1028c0.6 -2 3.1 -2.9 5.3 -3.3s5.3 0.2 6.7 1.3s1.9 3.1 1.3 4.7s-2.3 2.2 -4 2.6s-4.9 1.1 -6.7 0s-3.2 -3.3 -2.6 -5.3z M911.3 1040.7l4.7 4.6 M817.3 1108c0 0 -0.1 -6.6 1.4 -9.3s3.9 -4.4 6.6 -5.4s5.4 -1.3 8 0s4.4 4 5.4 6.7s0 8 0 8"/>
<text x="820.0" y="401.0" class="cl" font-size="18" text-anchor="start" textLength="92" lengthAdjust="spacingAndGlyphs">NORWAY</text>
<text x="980.0" y="428.0" class="cl" font-size="18" text-anchor="start" textLength="90" lengthAdjust="spacingAndGlyphs">SWEDEN</text>
<text x="303.0" y="277.0" class="cl" font-size="18" text-anchor="start" textLength="98" lengthAdjust="spacingAndGlyphs">FAROE IS.</text>
<text x="1298.0" y="353.6" class="cl" font-size="18" text-anchor="start" textLength="90" lengthAdjust="spacingAndGlyphs">FINLAND</text>
<text x="1340.0" y="498.6" class="cl" font-size="18" text-anchor="start" textLength="90" lengthAdjust="spacingAndGlyphs">ESTONIA</text>
<text x="1535.6" y="461.6" class="cl" font-size="15" text-anchor="start" textLength="124" lengthAdjust="spacingAndGlyphs">Northwestern</text>
<text x="1551.0" y="492.4" class="cl" font-size="15" text-anchor="start" textLength="66" lengthAdjust="spacingAndGlyphs">District</text>
<text x="281.0" y="822.0" class="cl" font-size="18" text-anchor="start" textLength="90" lengthAdjust="spacingAndGlyphs">IRELAND</text>
<text x="499.0" y="854.0" class="cl2" font-size="22" text-anchor="start" textLength="93" lengthAdjust="spacingAndGlyphs">England</text>
<text x="663.0" y="662.6" class="sea" font-size="20" text-anchor="start" textLength="57" lengthAdjust="spacingAndGlyphs">North</text>
<text x="675.0" y="691.6" class="sea" font-size="20" text-anchor="start" textLength="34" lengthAdjust="spacingAndGlyphs">Sea</text>
<text x="842.0" y="647.0" class="cl" font-size="18" text-anchor="start" textLength="48" lengthAdjust="spacingAndGlyphs">DEN.</text>
<text x="734.0" y="866.0" class="cl" font-size="18" text-anchor="start" textLength="60" lengthAdjust="spacingAndGlyphs">NETH.</text>
<text x="856.0" y="894.0" class="cl" font-size="18" text-anchor="start" textLength="106" lengthAdjust="spacingAndGlyphs">GERMANY</text>
<text x="1137.0" y="637.0" class="sea" font-size="20" text-anchor="start" textLength="55" lengthAdjust="spacingAndGlyphs">Baltic</text>
<text x="1147.0" y="666.0" class="sea" font-size="20" text-anchor="start" textLength="34" lengthAdjust="spacingAndGlyphs">Sea</text>
<text x="1230.0" y="727.0" class="cl2" font-size="22" text-anchor="start" textLength="43" lengthAdjust="spacingAndGlyphs">Kal.</text>
<text x="1147.0" y="865.0" class="cl" font-size="18" text-anchor="start" textLength="86" lengthAdjust="spacingAndGlyphs">POLAND</text>
<text x="1344.0" y="603.6" class="cl" font-size="18" text-anchor="start" textLength="73" lengthAdjust="spacingAndGlyphs">LATVIA</text>
<text x="1278.0" y="687.6" class="cl" font-size="18" text-anchor="start" textLength="113" lengthAdjust="spacingAndGlyphs">LITHUANIA</text>
<text x="1432.0" y="785.6" class="cl" font-size="18" text-anchor="start" textLength="94" lengthAdjust="spacingAndGlyphs">BELARUS</text>
<text x="275.0" y="1085.0" class="sea" font-size="20" text-anchor="start" textLength="99" lengthAdjust="spacingAndGlyphs">ATLANTIC</text>
<text x="290.0" y="1114.0" class="sea" font-size="20" text-anchor="start" textLength="69" lengthAdjust="spacingAndGlyphs">OCEAN</text>
<text x="597.0" y="1095.6" class="cl" font-size="18" text-anchor="start" textLength="81" lengthAdjust="spacingAndGlyphs">FRANCE</text>
<text x="690.0" y="931.0" class="cl" font-size="18" text-anchor="start" textLength="42" lengthAdjust="spacingAndGlyphs">BEL.</text>
<text x="1513.0" y="1015.0" class="cl" font-size="18" text-anchor="start" textLength="101" lengthAdjust="spacingAndGlyphs">UKRAINE</text>
<text x="1438.0" y="1081.0" class="cl" font-size="18" text-anchor="start" textLength="47" lengthAdjust="spacingAndGlyphs">MOL.</text>
<text x="1306.0" y="1172.0" class="cl" font-size="18" text-anchor="start" textLength="101" lengthAdjust="spacingAndGlyphs">ROMANIA</text>
<text x="1587.0" y="1246.0" class="sea" font-size="20" text-anchor="start">Black</text>
<text x="995.0" y="975.6" class="cl" font-size="18" text-anchor="start" textLength="85" lengthAdjust="spacingAndGlyphs">CZECHIA</text>
<text x="1164.0" y="1024.0" class="cl" font-size="18" text-anchor="start" textLength="84" lengthAdjust="spacingAndGlyphs">SLOVAK.</text>
<text x="1016.0" y="1090.0" class="cl" font-size="18" text-anchor="start" textLength="44" lengthAdjust="spacingAndGlyphs">AUS.</text>
<text x="1150.0" y="1109.0" class="cl" font-size="18" text-anchor="start" textLength="64" lengthAdjust="spacingAndGlyphs">HUNG.</text>
<text x="1004.0" y="1156.0" class="cl" font-size="18" text-anchor="start" textLength="60" lengthAdjust="spacingAndGlyphs">SLOV.</text>
<text x="1078.0" y="1181.0" class="cl" font-size="18" text-anchor="start" textLength="49" lengthAdjust="spacingAndGlyphs">CRO.</text>
<text x="1090.0" y="1222.0" class="cl" font-size="18" text-anchor="start" textLength="78" lengthAdjust="spacingAndGlyphs">BOSNIA</text>
<text x="1193.0" y="1276.0" class="cl" font-size="18" text-anchor="start" textLength="75" lengthAdjust="spacingAndGlyphs">SERBIA</text>
<text x="434.0" y="1400.0" class="cl" font-size="18" text-anchor="start" textLength="60" lengthAdjust="spacingAndGlyphs">SPAIN</text>
<text x="286.0" y="1447.0" class="cl" font-size="18" text-anchor="start" textLength="62" lengthAdjust="spacingAndGlyphs">PORT.</text>
<text x="641.0" y="1497.6" class="sea" font-size="20" text-anchor="start" textLength="189" lengthAdjust="spacingAndGlyphs">Mediterranean Sea</text>
<text x="940.0" y="1301.0" class="cl" font-size="18" text-anchor="start" textLength="56" lengthAdjust="spacingAndGlyphs">ITALY</text>
<text x="991.0" y="1584.0" class="cl" font-size="18" text-anchor="start" textLength="71" lengthAdjust="spacingAndGlyphs">MALTA</text>
<text x="1338.0" y="1301.0" class="cl" font-size="18" text-anchor="start" textLength="58" lengthAdjust="spacingAndGlyphs">BULG.</text>
<text x="1181.0" y="1387.0" class="cl" font-size="18" text-anchor="start" textLength="44" lengthAdjust="spacingAndGlyphs">ALB.</text>
<text x="1224.0" y="1352.0" class="cl" font-size="18" text-anchor="start" textLength="59" lengthAdjust="spacingAndGlyphs">MACE.</text>
<text x="1226.0" y="1449.0" class="cl" font-size="18" text-anchor="start" textLength="77" lengthAdjust="spacingAndGlyphs">GREECE</text>
<text x="796.0" y="1124.0" class="cl" font-size="18" text-anchor="start" textLength="66" lengthAdjust="spacingAndGlyphs">SWITZ.</text>
</g>
<rect x="200" y="200" width="1400" height="1400" fill="none" stroke="#000" stroke-width="2.4"/>
<rect x="1618.5" y="253.5" width="38" height="142.5" fill="#ff0000" stroke="#555" stroke-width="1"/>
<rect x="1618.5" y="403.5" width="38" height="142.5" fill="#ff5555" stroke="#555" stroke-width="1"/>
<rect x="1618.5" y="553.5" width="38" height="142.5" fill="#ffaaaa" stroke="#555" stroke-width="1"/>
<rect x="1618.5" y="703.5" width="38" height="142.5" fill="#ffd5d5" stroke="#555" stroke-width="1"/>
<rect x="1618.5" y="853.5" width="38" height="142.5" fill="#ffffff" stroke="#555" stroke-width="1"/>
<rect x="1618.5" y="1003.5" width="38" height="142.5" fill="#ccffff" stroke="#555" stroke-width="1"/>
<rect x="1618.5" y="1153.5" width="38" height="142.5" fill="#66ffff" stroke="#555" stroke-width="1"/>
<rect x="1618.5" y="1303.5" width="38" height="142.5" fill="#55aaff" stroke="#555" stroke-width="1"/>
<rect x="1618.5" y="1453.5" width="38" height="142.5" fill="#0080ff" stroke="#555" stroke-width="1"/>
<text x="1677" y="417" class="cb">+7</text>
<text x="1677" y="567" class="cb">+5</text>
<text x="1677" y="717" class="cb">+3</text>
<text x="1677" y="867" class="cb">+1</text>
<text x="1677" y="1017" class="cb">-1</text>
<text x="1677" y="1167" class="cb">-3</text>
<text x="1677" y="1317" class="cb">-5</text>
<text x="1677" y="1467" class="cb">-7</text>
<text class="ft" x="1180" y="1660">CLIMATE PREDICTION CENTER, NOAA</text>
<text class="ft" x="1180" y="1685.5">Computer generated contours</text>
<text class="ft" x="1180" y="1711">Based on preliminary data</text>
<g id="noaa">
<circle cx="1699.7" cy="1700" r="80" fill="#0085ca"/>
<path d="M1772 1665.3c0 0 -5.9 6.9 -9.3 10.7s-6.7 7.8 -10.7 12s-7.9 8.4 -12 12s-8.3 6.8 -12 9.3s-9.4 3.4 -10.7 6s5.1 -0.6 8 -0.6s6.7 0.2 8 0.6s3.8 1.9 2.7 2.7s-5.1 0.8 -8 1.3s-6.9 0.9 -10.7 2s-7.1 2.5 -10.6 4s-6.1 3.3 -9.4 4.7s-6 2.7 -9.3 3.3s-7.1 0.5 -9.3 0s-5.4 -1.3 -5.4 -3.3s3.5 -0.7 5.4 -1.3s6.3 -2 9.3 -3.4s9.3 -1.5 8 -4.6s-7 -0.8 -10.7 -2s-8.7 -3.1 -13.3 -5.4s-8.7 -4.8 -13.3 -8s-9.3 -7 -13.4 -10.6s-8 -8.4 -10.6 -10.7s-6.4 -4.6 -8 -5.3s-4.7 0 -4.7 0 A80 80 0 0 1 1772.0 1665.3 Z" fill="#fff"/>
<path d="M1763.3 1652c0 0 -5.9 1.9 -8.6 4s-5.6 5.6 -8 9.3s-5.1 9.4 -8 14.7s-5.4 10.7 -8 14.7s-5.1 7.7 -8 10.6s-6.3 5.1 -9.4 6.7s-5.9 2.6 -9.3 2.7s-6.2 -0.7 -9.3 -2s-6.3 -3.4 -9.4 -6s-6.2 -5.8 -9.3 -9.4s-6.1 -7.6 -9.3 -12s-6.3 -9.3 -9.4 -13.3s-6.7 -8.2 -9.3 -10.7s-6.3 -4.9 -8 -6s-5.3 -2 -5.3 -2 A80 80 0 0 1 1763.3 1652.0 Z" fill="#003087"/>
<text x="1699.8" y="1672" text-anchor="middle" font-family="'Liberation Sans',sans-serif" font-weight="bold" font-size="29" fill="#fff" stroke="#fff" stroke-width="1.1" textLength="64.5" lengthAdjust="spacingAndGlyphs">NOAA</text>
</g>
</svg>
</body></html>
